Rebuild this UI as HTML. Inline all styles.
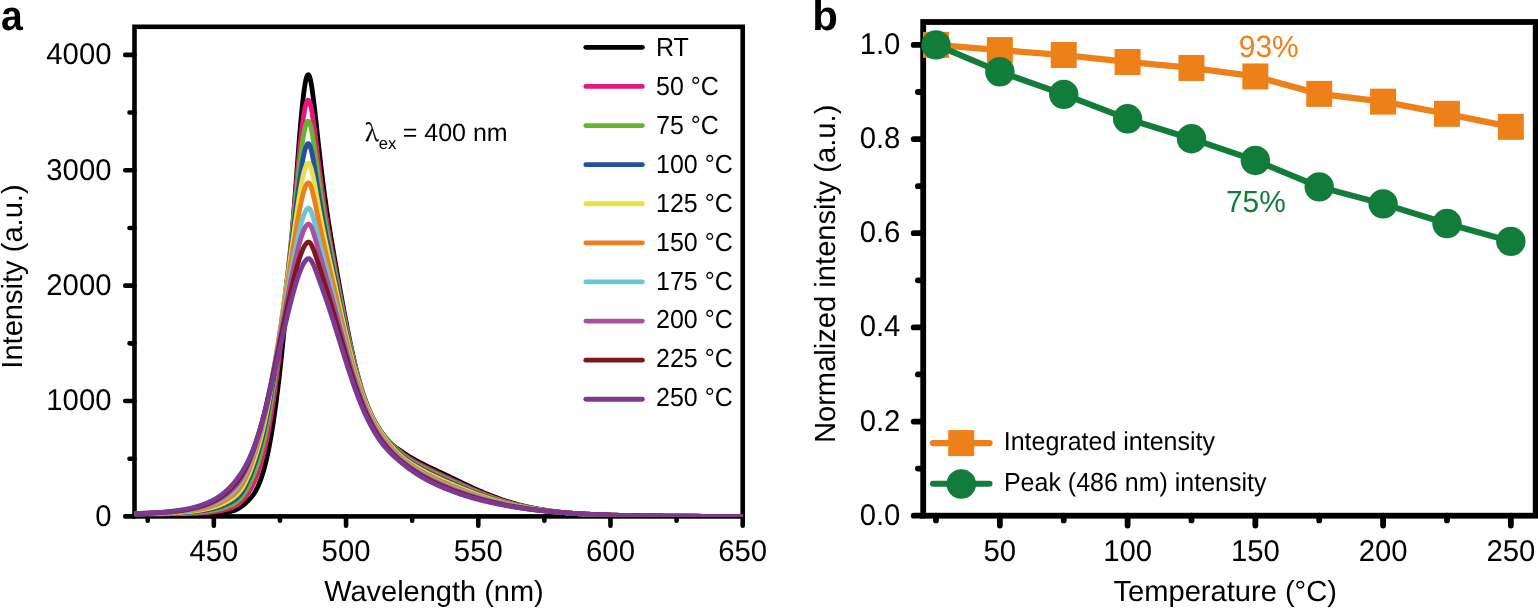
<!DOCTYPE html><html><head><meta charset="utf-8"><title>Figure</title>
<style>html,body{margin:0;padding:0;background:#fff;}svg{display:block;}text{font-family:"Liberation Sans", Arial, Helvetica, sans-serif;text-rendering:geometricPrecision;}</style></head><body>
<svg width="1538" height="608" viewBox="0 0 1538 608">
<rect x="0" y="0" width="1538" height="608" fill="#fff"/>
<text transform="translate(1.1 30.0) scale(0.93 1)" font-size="42" font-weight="bold">a</text>
<text x="812.3" y="30.0" font-size="42" font-weight="bold">b</text>
<path d="M125.2 516.40 H134.50 M125.2 401.02 H134.50 M125.2 285.64 H134.50 M125.2 170.26 H134.50 M125.2 54.88 H134.50 M129.5 458.71 H134.50 M129.5 343.33 H134.50 M129.5 227.95 H134.50 M129.5 112.57 H134.50 M213.83 516.40 V525.70 M346.05 516.40 V525.70 M478.27 516.40 V525.70 M610.48 516.40 V525.70 M742.70 516.40 V525.70 M147.72 516.40 V520.80 M279.94 516.40 V520.80 M412.16 516.40 V520.80 M544.37 516.40 V520.80 M676.59 516.40 V520.80" stroke="#000" stroke-width="4.6" stroke-linecap="round" fill="none"/>
<rect x="134.50" y="26.80" width="608.20" height="489.60" fill="none" stroke="#000" stroke-width="4.6"/>
<text transform="translate(111.5 525.80) scale(1 1.025)" font-size="29.3" text-anchor="end">0</text>
<text transform="translate(111.5 410.42) scale(1 1.025)" font-size="29.3" text-anchor="end">1000</text>
<text transform="translate(111.5 295.04) scale(1 1.025)" font-size="29.3" text-anchor="end">2000</text>
<text transform="translate(111.5 179.66) scale(1 1.025)" font-size="29.3" text-anchor="end">3000</text>
<text transform="translate(111.5 64.28) scale(1 1.025)" font-size="29.3" text-anchor="end">4000</text>
<text transform="translate(213.83 561.0) scale(1 1.025)" font-size="29.3" text-anchor="middle">450</text>
<text transform="translate(346.05 561.0) scale(1 1.025)" font-size="29.3" text-anchor="middle">500</text>
<text transform="translate(478.27 561.0) scale(1 1.025)" font-size="29.3" text-anchor="middle">550</text>
<text transform="translate(610.48 561.0) scale(1 1.025)" font-size="29.3" text-anchor="middle">600</text>
<text transform="translate(742.70 561.0) scale(1 1.025)" font-size="29.3" text-anchor="middle">650</text>
<text x="324.2" y="601.4" font-size="28.97">Wavelength (nm)</text>
<text transform="translate(21.9 368.7) rotate(-90)" font-size="29.1">Intensity (a.u.)</text>
<defs><clipPath id="ca"><rect x="134.50" y="26.80" width="608.20" height="489.60"/></clipPath></defs>
<g fill="none" stroke-width="4.8" stroke-linejoin="round" clip-path="url(#ca)">
<path d="M134.50 514.40 L135.16 514.39 L135.82 514.37 L136.48 514.36 L137.14 514.35 L137.81 514.34 L138.47 514.33 L139.13 514.32 L139.79 514.31 L140.45 514.30 L141.11 514.29 L141.77 514.28 L142.43 514.28 L143.09 514.27 L143.76 514.27 L144.42 514.26 L145.08 514.26 L145.74 514.25 L146.40 514.25 L147.06 514.25 L147.72 514.25 L148.38 514.24 L149.04 514.24 L149.71 514.24 L150.37 514.24 L151.03 514.24 L151.69 514.24 L152.35 514.25 L153.01 514.25 L153.67 514.25 L154.33 514.25 L154.99 514.26 L155.65 514.26 L156.32 514.26 L156.98 514.27 L157.64 514.27 L158.30 514.28 L158.96 514.28 L159.62 514.28 L160.28 514.29 L160.94 514.30 L161.60 514.30 L162.27 514.31 L162.93 514.31 L163.59 514.32 L164.25 514.32 L164.91 514.33 L165.57 514.34 L166.23 514.34 L166.89 514.35 L167.55 514.35 L168.22 514.36 L168.88 514.37 L169.54 514.37 L170.20 514.38 L170.86 514.38 L171.52 514.39 L172.18 514.39 L172.84 514.40 L173.50 514.41 L174.17 514.41 L174.83 514.42 L175.49 514.42 L176.15 514.42 L176.81 514.43 L177.47 514.43 L178.13 514.44 L178.79 514.44 L179.45 514.44 L180.12 514.45 L180.78 514.45 L181.44 514.45 L182.10 514.45 L182.76 514.46 L183.42 514.46 L184.08 514.46 L184.74 514.46 L185.40 514.46 L186.06 514.46 L186.73 514.46 L187.39 514.46 L188.05 514.46 L188.71 514.46 L189.37 514.45 L190.03 514.45 L190.69 514.45 L191.35 514.44 L192.01 514.44 L192.68 514.43 L193.34 514.43 L194.00 514.42 L194.66 514.41 L195.32 514.41 L195.98 514.40 L196.64 514.39 L197.30 514.38 L197.96 514.37 L198.63 514.36 L199.29 514.34 L199.95 514.33 L200.61 514.32 L201.27 514.30 L201.93 514.28 L202.59 514.27 L203.25 514.25 L203.91 514.23 L204.58 514.21 L205.24 514.19 L205.90 514.16 L206.56 514.14 L207.22 514.11 L207.88 514.09 L208.54 514.06 L209.20 514.03 L209.86 514.00 L210.53 513.96 L211.19 513.93 L211.85 513.89 L212.51 513.85 L213.17 513.81 L213.83 513.77 L214.49 513.73 L215.15 513.68 L215.81 513.63 L216.47 513.58 L217.14 513.52 L217.80 513.46 L218.46 513.40 L219.12 513.34 L219.78 513.27 L220.44 513.20 L221.10 513.12 L221.76 513.05 L222.42 512.96 L223.09 512.88 L223.75 512.78 L224.41 512.69 L225.07 512.59 L225.73 512.48 L226.39 512.36 L227.05 512.24 L227.71 512.12 L228.37 511.99 L229.04 511.84 L229.70 511.70 L230.36 511.54 L231.02 511.37 L231.68 511.19 L232.34 511.01 L233.00 510.81 L233.66 510.60 L234.32 510.38 L234.99 510.14 L235.65 509.89 L236.31 509.60 L236.97 509.29 L237.63 508.95 L238.29 508.59 L238.95 508.20 L239.61 507.79 L240.27 507.35 L240.94 506.89 L241.60 506.41 L242.26 505.91 L242.92 505.39 L243.58 504.84 L244.24 504.28 L244.90 503.71 L245.56 503.11 L246.22 502.50 L246.88 501.87 L247.55 501.23 L248.21 500.57 L248.87 499.88 L249.53 499.18 L250.19 498.45 L250.85 497.70 L251.51 496.91 L252.17 496.08 L252.83 495.21 L253.50 494.30 L254.16 493.32 L254.82 492.28 L255.48 491.17 L256.14 489.98 L256.80 488.70 L257.46 487.35 L258.12 485.92 L258.78 484.40 L259.45 482.80 L260.11 481.10 L260.77 479.31 L261.43 477.42 L262.09 475.43 L262.75 473.32 L263.41 471.11 L264.07 468.78 L264.73 466.33 L265.40 463.76 L266.06 461.06 L266.72 458.23 L267.38 455.26 L268.04 452.16 L268.70 448.91 L269.36 445.53 L270.02 441.99 L270.68 438.31 L271.35 434.48 L272.01 430.49 L272.67 426.35 L273.33 422.06 L273.99 417.61 L274.65 413.00 L275.31 408.23 L275.97 403.31 L276.63 398.22 L277.29 392.98 L277.96 387.59 L278.62 382.03 L279.28 376.32 L279.94 370.46 L280.60 364.44 L281.26 358.26 L281.92 351.93 L282.58 345.45 L283.24 338.82 L283.91 332.04 L284.57 325.10 L285.23 318.01 L285.89 310.77 L286.55 303.38 L287.21 295.83 L287.87 288.13 L288.53 280.29 L289.19 272.29 L289.86 264.15 L290.52 255.86 L291.18 247.45 L291.84 238.90 L292.50 230.24 L293.16 221.47 L293.82 212.62 L294.48 203.71 L295.14 194.75 L295.81 185.78 L296.47 176.84 L297.13 167.95 L297.79 159.16 L298.45 150.52 L299.11 142.08 L299.77 133.88 L300.43 125.99 L301.09 118.46 L301.75 111.35 L302.42 104.71 L303.08 98.62 L303.74 93.11 L304.40 88.24 L305.06 84.06 L305.72 80.60 L306.38 77.91 L307.04 76.00 L307.70 74.90 L308.37 74.63 L309.03 75.31 L309.69 76.90 L310.35 79.34 L311.01 82.55 L311.67 86.42 L312.33 90.86 L312.99 95.77 L313.65 101.04 L314.32 106.60 L314.98 112.38 L315.64 118.30 L316.30 124.32 L316.96 130.39 L317.62 136.47 L318.28 142.52 L318.94 148.51 L319.60 154.42 L320.27 160.24 L320.93 165.94 L321.59 171.51 L322.25 176.95 L322.91 182.26 L323.57 187.42 L324.23 192.45 L324.89 197.34 L325.55 202.10 L326.22 206.74 L326.88 211.27 L327.54 215.69 L328.20 220.01 L328.86 224.25 L329.52 228.41 L330.18 232.50 L330.84 236.53 L331.50 240.51 L332.17 244.44 L332.83 248.34 L333.49 252.20 L334.15 256.04 L334.81 259.85 L335.47 263.64 L336.13 267.41 L336.79 271.16 L337.45 274.90 L338.11 278.63 L338.78 282.34 L339.44 286.03 L340.10 289.71 L340.76 293.37 L341.42 297.01 L342.08 300.63 L342.74 304.23 L343.40 307.81 L344.06 311.35 L344.73 314.87 L345.39 318.36 L346.05 321.82 L346.71 325.25 L347.37 328.63 L348.03 331.98 L348.69 335.29 L349.35 338.56 L350.01 341.78 L350.68 344.96 L351.34 348.09 L352.00 351.18 L352.66 354.21 L353.32 357.20 L353.98 360.13 L354.64 363.01 L355.30 365.84 L355.96 368.62 L356.63 371.33 L357.29 374.00 L357.95 376.61 L358.61 379.16 L359.27 381.65 L359.93 384.09 L360.59 386.47 L361.25 388.80 L361.91 391.07 L362.58 393.28 L363.24 395.43 L363.90 397.53 L364.56 399.58 L365.22 401.56 L365.88 403.50 L366.54 405.38 L367.20 407.20 L367.86 408.97 L368.52 410.69 L369.19 412.36 L369.85 413.98 L370.51 415.55 L371.17 417.06 L371.83 418.54 L372.49 419.96 L373.15 421.34 L373.81 422.67 L374.47 423.96 L375.14 425.20 L375.80 426.41 L376.46 427.57 L377.12 428.69 L377.78 429.77 L378.44 430.82 L379.10 431.83 L379.76 432.81 L380.42 433.75 L381.09 434.65 L381.75 435.51 L382.41 436.33 L383.07 437.11 L383.73 437.85 L384.39 438.55 L385.05 439.23 L385.71 439.87 L386.37 440.48 L387.04 441.07 L387.70 441.64 L388.36 442.19 L389.02 442.71 L389.68 443.23 L390.34 443.72 L391.00 444.21 L391.66 444.69 L392.32 445.16 L392.99 445.62 L393.65 446.08 L394.31 446.53 L394.97 446.98 L395.63 447.43 L396.29 447.88 L396.95 448.33 L397.61 448.78 L398.27 449.23 L398.93 449.68 L399.60 450.13 L400.26 450.59 L400.92 451.04 L401.58 451.49 L402.24 451.94 L402.90 452.39 L403.56 452.84 L404.22 453.29 L404.88 453.73 L405.55 454.17 L406.21 454.60 L406.87 455.03 L407.53 455.45 L408.19 455.87 L408.85 456.28 L409.51 456.68 L410.17 457.08 L410.83 457.48 L411.50 457.87 L412.16 458.26 L412.82 458.64 L413.48 459.02 L414.14 459.39 L414.80 459.76 L415.46 460.13 L416.12 460.49 L416.78 460.85 L417.45 461.20 L418.11 461.56 L418.77 461.91 L419.43 462.26 L420.09 462.60 L420.75 462.94 L421.41 463.28 L422.07 463.62 L422.73 463.95 L423.40 464.29 L424.06 464.62 L424.72 464.95 L425.38 465.28 L426.04 465.60 L426.70 465.93 L427.36 466.25 L428.02 466.57 L428.68 466.89 L429.34 467.21 L430.01 467.53 L430.67 467.84 L431.33 468.16 L431.99 468.47 L432.65 468.79 L433.31 469.10 L433.97 469.42 L434.63 469.73 L435.29 470.04 L435.96 470.35 L436.62 470.66 L437.28 470.97 L437.94 471.29 L438.60 471.60 L439.26 471.91 L439.92 472.22 L440.58 472.53 L441.24 472.84 L441.91 473.15 L442.57 473.46 L443.23 473.78 L443.89 474.09 L444.55 474.40 L445.21 474.71 L445.87 475.03 L446.53 475.34 L447.19 475.65 L447.86 475.97 L448.52 476.28 L449.18 476.60 L449.84 476.92 L450.50 477.23 L451.16 477.55 L451.82 477.87 L452.48 478.19 L453.14 478.51 L453.81 478.83 L454.47 479.14 L455.13 479.46 L455.79 479.78 L456.45 480.10 L457.11 480.42 L457.77 480.74 L458.43 481.06 L459.09 481.38 L459.75 481.70 L460.42 482.02 L461.08 482.34 L461.74 482.66 L462.40 482.97 L463.06 483.29 L463.72 483.61 L464.38 483.92 L465.04 484.24 L465.70 484.55 L466.37 484.87 L467.03 485.18 L467.69 485.49 L468.35 485.80 L469.01 486.11 L469.67 486.42 L470.33 486.73 L470.99 487.04 L471.65 487.35 L472.32 487.65 L472.98 487.96 L473.64 488.26 L474.30 488.56 L474.96 488.86 L475.62 489.16 L476.28 489.46 L476.94 489.75 L477.60 490.05 L478.27 490.34 L478.93 490.63 L479.59 490.92 L480.25 491.21 L480.91 491.50 L481.57 491.78 L482.23 492.06 L482.89 492.35 L483.55 492.63 L484.22 492.91 L484.88 493.18 L485.54 493.46 L486.20 493.73 L486.86 494.00 L487.52 494.27 L488.18 494.54 L488.84 494.81 L489.50 495.07 L490.16 495.33 L490.83 495.59 L491.49 495.85 L492.15 496.11 L492.81 496.36 L493.47 496.61 L494.13 496.87 L494.79 497.11 L495.45 497.36 L496.11 497.61 L496.78 497.85 L497.44 498.09 L498.10 498.33 L498.76 498.56 L499.42 498.80 L500.08 499.03 L500.74 499.26 L501.40 499.49 L502.06 499.72 L502.73 499.94 L503.39 500.16 L504.05 500.38 L504.71 500.60 L505.37 500.82 L506.03 501.03 L506.69 501.24 L507.35 501.45 L508.01 501.66 L508.68 501.86 L509.34 502.07 L510.00 502.27 L510.66 502.47 L511.32 502.66 L511.98 502.86 L512.64 503.05 L513.30 503.24 L513.96 503.43 L514.62 503.62 L515.29 503.81 L515.95 503.99 L516.61 504.17 L517.27 504.35 L517.93 504.53 L518.59 504.70 L519.25 504.87 L519.91 505.04 L520.57 505.21 L521.24 505.38 L521.90 505.55 L522.56 505.71 L523.22 505.87 L523.88 506.03 L524.54 506.19 L525.20 506.34 L525.86 506.50 L526.52 506.65 L527.19 506.80 L527.85 506.95 L528.51 507.09 L529.17 507.24 L529.83 507.38 L530.49 507.52 L531.15 507.66 L531.81 507.80 L532.47 507.93 L533.14 508.06 L533.80 508.20 L534.46 508.33 L535.12 508.46 L535.78 508.58 L536.44 508.71 L537.10 508.83 L537.76 508.95 L538.42 509.07 L539.09 509.19 L539.75 509.31 L540.41 509.42 L541.07 509.54 L541.73 509.65 L542.39 509.76 L543.05 509.87 L543.71 509.98 L544.37 510.08 L545.04 510.19 L545.70 510.29 L546.36 510.39 L547.02 510.49 L547.68 510.59 L548.34 510.69 L549.00 510.78 L549.66 510.88 L550.32 510.97 L550.98 511.06 L551.65 511.15 L552.31 511.24 L552.97 511.33 L553.63 511.42 L554.29 511.50 L554.95 511.58 L555.61 511.67 L556.27 511.75 L556.93 511.83 L557.60 511.91 L558.26 511.98 L558.92 512.06 L559.58 512.14 L560.24 512.21 L560.90 512.28 L561.56 512.36 L562.22 512.43 L562.88 512.50 L563.55 512.56 L564.21 512.63 L564.87 512.70 L565.53 512.76 L566.19 512.83 L566.85 512.89 L567.51 512.95 L568.17 513.01 L568.83 513.07 L569.50 513.13 L570.16 513.19 L570.82 513.25 L571.48 513.31 L572.14 513.36 L572.80 513.42 L573.46 513.47 L574.12 513.52 L574.78 513.57 L575.45 513.63 L576.11 513.68 L576.77 513.73 L577.43 513.77 L578.09 513.82 L578.75 513.87 L579.41 513.91 L580.07 513.96 L580.73 514.00 L581.39 514.05 L582.06 514.09 L582.72 514.13 L583.38 514.18 L584.04 514.22 L584.70 514.26 L585.36 514.30 L586.02 514.34 L586.68 514.37 L587.34 514.41 L588.01 514.45 L588.67 514.48 L589.33 514.52 L589.99 514.55 L590.65 514.59 L591.31 514.62 L591.97 514.66 L592.63 514.69 L593.29 514.72 L593.96 514.75 L594.62 514.78 L595.28 514.81 L595.94 514.84 L596.60 514.87 L597.26 514.90 L597.92 514.93 L598.58 514.96 L599.24 514.98 L599.91 515.01 L600.57 515.04 L601.23 515.06 L601.89 515.09 L602.55 515.11 L603.21 515.14 L603.87 515.16 L604.53 515.19 L605.19 515.21 L605.86 515.23 L606.52 515.25 L607.18 515.28 L607.84 515.30 L608.50 515.32 L609.16 515.34 L609.82 515.36 L610.48 515.38 L611.14 515.40 L611.80 515.42 L612.47 515.44 L613.13 515.45 L613.79 515.47 L614.45 515.49 L615.11 515.51 L615.77 515.53 L616.43 515.54 L617.09 515.56 L617.75 515.57 L618.42 515.59 L619.08 515.61 L619.74 515.62 L620.40 515.64 L621.06 515.65 L621.72 515.67 L622.38 515.68 L623.04 515.69 L623.70 515.71 L624.37 515.72 L625.03 515.73 L625.69 515.75 L626.35 515.76 L627.01 515.77 L627.67 515.78 L628.33 515.80 L628.99 515.81 L629.65 515.82 L630.32 515.83 L630.98 515.84 L631.64 515.85 L632.30 515.86 L632.96 515.87 L633.62 515.88 L634.28 515.89 L634.94 515.90 L635.60 515.91 L636.27 515.92 L636.93 515.93 L637.59 515.94 L638.25 515.95 L638.91 515.96 L639.57 515.97 L640.23 515.98 L640.89 515.98 L641.55 515.99 L642.21 516.00 L642.88 516.01 L643.54 516.02 L644.20 516.02 L644.86 516.03 L645.52 516.04 L646.18 516.04 L646.84 516.05 L647.50 516.06 L648.16 516.06 L648.83 516.07 L649.49 516.08 L650.15 516.08 L650.81 516.09 L651.47 516.10 L652.13 516.10 L652.79 516.11 L653.45 516.11 L654.11 516.12 L654.78 516.12 L655.44 516.13 L656.10 516.13 L656.76 516.14 L657.42 516.14 L658.08 516.15 L658.74 516.15 L659.40 516.16 L660.06 516.16 L660.73 516.17 L661.39 516.17 L662.05 516.18 L662.71 516.18 L663.37 516.19 L664.03 516.19 L664.69 516.19 L665.35 516.20 L666.01 516.20 L666.68 516.21 L667.34 516.21 L668.00 516.21 L668.66 516.22 L669.32 516.22 L669.98 516.22 L670.64 516.23 L671.30 516.23 L671.96 516.23 L672.62 516.24 L673.29 516.24 L673.95 516.24 L674.61 516.25 L675.27 516.25 L675.93 516.25 L676.59 516.25 L677.25 516.26 L677.91 516.26 L678.57 516.26 L679.24 516.27 L679.90 516.27 L680.56 516.27 L681.22 516.27 L681.88 516.28 L682.54 516.28 L683.20 516.28 L683.86 516.28 L684.52 516.28 L685.19 516.29 L685.85 516.29 L686.51 516.29 L687.17 516.29 L687.83 516.29 L688.49 516.30 L689.15 516.30 L689.81 516.30 L690.47 516.30 L691.14 516.30 L691.80 516.31 L692.46 516.31 L693.12 516.31 L693.78 516.31 L694.44 516.31 L695.10 516.31 L695.76 516.32 L696.42 516.32 L697.09 516.32 L697.75 516.32 L698.41 516.32 L699.07 516.32 L699.73 516.32 L700.39 516.33 L701.05 516.33 L701.71 516.33 L702.37 516.33 L703.03 516.33 L703.70 516.33 L704.36 516.33 L705.02 516.34 L705.68 516.34 L706.34 516.34 L707.00 516.34 L707.66 516.34 L708.32 516.34 L708.98 516.34 L709.65 516.34 L710.31 516.34 L710.97 516.34 L711.63 516.35 L712.29 516.35 L712.95 516.35 L713.61 516.35 L714.27 516.35 L714.93 516.35 L715.60 516.35 L716.26 516.35 L716.92 516.35 L717.58 516.35 L718.24 516.35 L718.90 516.36 L719.56 516.36 L720.22 516.36 L720.88 516.36 L721.55 516.36 L722.21 516.36 L722.87 516.36 L723.53 516.36 L724.19 516.36 L724.85 516.36 L725.51 516.36 L726.17 516.36 L726.83 516.36 L727.50 516.36 L728.16 516.37 L728.82 516.37 L729.48 516.37 L730.14 516.37 L730.80 516.37 L731.46 516.37 L732.12 516.37 L732.78 516.37 L733.44 516.37 L734.11 516.37 L734.77 516.37 L735.43 516.37 L736.09 516.37 L736.75 516.37 L737.41 516.37 L738.07 516.37 L738.73 516.37 L739.39 516.37 L740.06 516.37 L740.72 516.37 L741.38 516.38 L742.04 516.38 L742.70 516.38" stroke="#000000"/>
<path d="M134.50 514.27 L135.16 514.26 L135.82 514.24 L136.48 514.23 L137.14 514.22 L137.81 514.20 L138.47 514.19 L139.13 514.18 L139.79 514.17 L140.45 514.16 L141.11 514.15 L141.77 514.14 L142.43 514.13 L143.09 514.13 L143.76 514.12 L144.42 514.11 L145.08 514.10 L145.74 514.10 L146.40 514.09 L147.06 514.09 L147.72 514.08 L148.38 514.07 L149.04 514.07 L149.71 514.07 L150.37 514.06 L151.03 514.06 L151.69 514.05 L152.35 514.05 L153.01 514.05 L153.67 514.04 L154.33 514.04 L154.99 514.04 L155.65 514.04 L156.32 514.03 L156.98 514.03 L157.64 514.03 L158.30 514.03 L158.96 514.02 L159.62 514.02 L160.28 514.02 L160.94 514.02 L161.60 514.01 L162.27 514.01 L162.93 514.01 L163.59 514.01 L164.25 514.00 L164.91 514.00 L165.57 514.00 L166.23 514.00 L166.89 513.99 L167.55 513.99 L168.22 513.98 L168.88 513.98 L169.54 513.98 L170.20 513.97 L170.86 513.97 L171.52 513.96 L172.18 513.96 L172.84 513.95 L173.50 513.94 L174.17 513.94 L174.83 513.93 L175.49 513.92 L176.15 513.91 L176.81 513.91 L177.47 513.90 L178.13 513.89 L178.79 513.88 L179.45 513.87 L180.12 513.86 L180.78 513.84 L181.44 513.83 L182.10 513.82 L182.76 513.80 L183.42 513.79 L184.08 513.77 L184.74 513.76 L185.40 513.74 L186.06 513.72 L186.73 513.71 L187.39 513.69 L188.05 513.67 L188.71 513.65 L189.37 513.62 L190.03 513.60 L190.69 513.58 L191.35 513.55 L192.01 513.53 L192.68 513.50 L193.34 513.47 L194.00 513.44 L194.66 513.41 L195.32 513.38 L195.98 513.35 L196.64 513.32 L197.30 513.28 L197.96 513.24 L198.63 513.21 L199.29 513.17 L199.95 513.13 L200.61 513.08 L201.27 513.04 L201.93 512.99 L202.59 512.95 L203.25 512.90 L203.91 512.85 L204.58 512.79 L205.24 512.74 L205.90 512.68 L206.56 512.62 L207.22 512.56 L207.88 512.50 L208.54 512.44 L209.20 512.37 L209.86 512.30 L210.53 512.23 L211.19 512.15 L211.85 512.07 L212.51 511.99 L213.17 511.91 L213.83 511.82 L214.49 511.73 L215.15 511.64 L215.81 511.54 L216.47 511.44 L217.14 511.34 L217.80 511.23 L218.46 511.12 L219.12 511.00 L219.78 510.88 L220.44 510.75 L221.10 510.62 L221.76 510.49 L222.42 510.35 L223.09 510.20 L223.75 510.05 L224.41 509.89 L225.07 509.73 L225.73 509.55 L226.39 509.38 L227.05 509.19 L227.71 508.99 L228.37 508.79 L229.04 508.58 L229.70 508.36 L230.36 508.13 L231.02 507.89 L231.68 507.64 L232.34 507.38 L233.00 507.10 L233.66 506.81 L234.32 506.51 L234.99 506.19 L235.65 505.85 L236.31 505.48 L236.97 505.07 L237.63 504.63 L238.29 504.16 L238.95 503.65 L239.61 503.11 L240.27 502.54 L240.94 501.93 L241.60 501.28 L242.26 500.60 L242.92 499.89 L243.58 499.14 L244.24 498.36 L244.90 497.55 L245.56 496.70 L246.22 495.81 L246.88 494.89 L247.55 493.93 L248.21 492.93 L248.87 491.90 L249.53 490.82 L250.19 489.70 L250.85 488.54 L251.51 487.33 L252.17 486.08 L252.83 484.78 L253.50 483.42 L254.16 482.01 L254.82 480.54 L255.48 479.01 L256.14 477.43 L256.80 475.77 L257.46 474.03 L258.12 472.20 L258.78 470.29 L259.45 468.29 L260.11 466.19 L260.77 464.00 L261.43 461.71 L262.09 459.32 L262.75 456.82 L263.41 454.21 L264.07 451.49 L264.73 448.66 L265.40 445.72 L266.06 442.66 L266.72 439.47 L267.38 436.17 L268.04 432.75 L268.70 429.20 L269.36 425.53 L270.02 421.74 L270.68 417.82 L271.35 413.77 L272.01 409.60 L272.67 405.30 L273.33 400.88 L273.99 396.33 L274.65 391.67 L275.31 386.88 L275.97 381.97 L276.63 376.94 L277.29 371.80 L277.96 366.55 L278.62 361.19 L279.28 355.72 L279.94 350.14 L280.60 344.47 L281.26 338.69 L281.92 332.82 L282.58 326.85 L283.24 320.79 L283.91 314.64 L284.57 308.39 L285.23 302.06 L285.89 295.65 L286.55 289.14 L287.21 282.56 L287.87 275.88 L288.53 269.12 L289.19 262.28 L289.86 255.36 L290.52 248.36 L291.18 241.28 L291.84 234.13 L292.50 226.92 L293.16 219.66 L293.82 212.35 L294.48 205.02 L295.14 197.67 L295.81 190.34 L296.47 183.03 L297.13 175.80 L297.79 168.66 L298.45 161.64 L299.11 154.80 L299.77 148.16 L300.43 141.78 L301.09 135.69 L301.75 129.95 L302.42 124.59 L303.08 119.67 L303.74 115.22 L304.40 111.28 L305.06 107.89 L305.72 105.08 L306.38 102.88 L307.04 101.31 L307.70 100.37 L308.37 100.13 L309.03 100.72 L309.69 102.14 L310.35 104.31 L311.01 107.17 L311.67 110.63 L312.33 114.60 L312.99 118.98 L313.65 123.70 L314.32 128.67 L314.98 133.84 L315.64 139.13 L316.30 144.51 L316.96 149.92 L317.62 155.33 L318.28 160.70 L318.94 166.02 L319.60 171.26 L320.27 176.40 L320.93 181.43 L321.59 186.35 L322.25 191.15 L322.91 195.83 L323.57 200.38 L324.23 204.82 L324.89 209.14 L325.55 213.36 L326.22 217.48 L326.88 221.52 L327.54 225.47 L328.20 229.34 L328.86 233.16 L329.52 236.92 L330.18 240.63 L330.84 244.30 L331.50 247.94 L332.17 251.55 L332.83 255.14 L333.49 258.72 L334.15 262.27 L334.81 265.82 L335.47 269.35 L336.13 272.88 L336.79 276.39 L337.45 279.90 L338.11 283.40 L338.78 286.88 L339.44 290.36 L340.10 293.83 L340.76 297.28 L341.42 300.71 L342.08 304.13 L342.74 307.53 L343.40 310.90 L344.06 314.26 L344.73 317.58 L345.39 320.88 L346.05 324.15 L346.71 327.39 L347.37 330.59 L348.03 333.76 L348.69 336.89 L349.35 339.98 L350.01 343.03 L350.68 346.04 L351.34 349.01 L352.00 351.93 L352.66 354.80 L353.32 357.63 L353.98 360.41 L354.64 363.14 L355.30 365.83 L355.96 368.46 L356.63 371.04 L357.29 373.57 L357.95 376.05 L358.61 378.47 L359.27 380.84 L359.93 383.17 L360.59 385.43 L361.25 387.65 L361.91 389.81 L362.58 391.92 L363.24 393.98 L363.90 395.99 L364.56 397.94 L365.22 399.85 L365.88 401.70 L366.54 403.50 L367.20 405.26 L367.86 406.97 L368.52 408.62 L369.19 410.23 L369.85 411.80 L370.51 413.32 L371.17 414.79 L371.83 416.22 L372.49 417.61 L373.15 418.96 L373.81 420.26 L374.47 421.53 L375.14 422.75 L375.80 423.94 L376.46 425.09 L377.12 426.20 L377.78 427.28 L378.44 428.33 L379.10 429.34 L379.76 430.33 L380.42 431.28 L381.09 432.20 L381.75 433.09 L382.41 433.96 L383.07 434.81 L383.73 435.63 L384.39 436.43 L385.05 437.21 L385.71 437.96 L386.37 438.70 L387.04 439.42 L387.70 440.13 L388.36 440.82 L389.02 441.49 L389.68 442.16 L390.34 442.81 L391.00 443.45 L391.66 444.09 L392.32 444.71 L392.99 445.33 L393.65 445.94 L394.31 446.55 L394.97 447.15 L395.63 447.74 L396.29 448.33 L396.95 448.91 L397.61 449.49 L398.27 450.06 L398.93 450.62 L399.60 451.18 L400.26 451.72 L400.92 452.27 L401.58 452.80 L402.24 453.32 L402.90 453.84 L403.56 454.34 L404.22 454.84 L404.88 455.32 L405.55 455.79 L406.21 456.24 L406.87 456.69 L407.53 457.12 L408.19 457.55 L408.85 457.97 L409.51 458.39 L410.17 458.80 L410.83 459.21 L411.50 459.61 L412.16 460.00 L412.82 460.40 L413.48 460.79 L414.14 461.17 L414.80 461.55 L415.46 461.93 L416.12 462.30 L416.78 462.67 L417.45 463.03 L418.11 463.39 L418.77 463.75 L419.43 464.11 L420.09 464.46 L420.75 464.81 L421.41 465.16 L422.07 465.50 L422.73 465.85 L423.40 466.19 L424.06 466.52 L424.72 466.86 L425.38 467.19 L426.04 467.52 L426.70 467.85 L427.36 468.18 L428.02 468.50 L428.68 468.83 L429.34 469.15 L430.01 469.47 L430.67 469.79 L431.33 470.11 L431.99 470.43 L432.65 470.74 L433.31 471.06 L433.97 471.37 L434.63 471.69 L435.29 472.00 L435.96 472.31 L436.62 472.62 L437.28 472.93 L437.94 473.24 L438.60 473.55 L439.26 473.86 L439.92 474.17 L440.58 474.48 L441.24 474.78 L441.91 475.09 L442.57 475.40 L443.23 475.71 L443.89 476.01 L444.55 476.32 L445.21 476.63 L445.87 476.93 L446.53 477.24 L447.19 477.55 L447.86 477.86 L448.52 478.16 L449.18 478.47 L449.84 478.78 L450.50 479.09 L451.16 479.39 L451.82 479.70 L452.48 480.01 L453.14 480.32 L453.81 480.63 L454.47 480.94 L455.13 481.24 L455.79 481.55 L456.45 481.86 L457.11 482.17 L457.77 482.47 L458.43 482.78 L459.09 483.09 L459.75 483.39 L460.42 483.70 L461.08 484.00 L461.74 484.31 L462.40 484.61 L463.06 484.91 L463.72 485.22 L464.38 485.52 L465.04 485.82 L465.70 486.12 L466.37 486.42 L467.03 486.72 L467.69 487.01 L468.35 487.31 L469.01 487.60 L469.67 487.90 L470.33 488.19 L470.99 488.48 L471.65 488.77 L472.32 489.06 L472.98 489.35 L473.64 489.64 L474.30 489.92 L474.96 490.21 L475.62 490.49 L476.28 490.77 L476.94 491.05 L477.60 491.33 L478.27 491.60 L478.93 491.88 L479.59 492.15 L480.25 492.43 L480.91 492.70 L481.57 492.97 L482.23 493.23 L482.89 493.50 L483.55 493.76 L484.22 494.03 L484.88 494.29 L485.54 494.55 L486.20 494.80 L486.86 495.06 L487.52 495.31 L488.18 495.57 L488.84 495.82 L489.50 496.06 L490.16 496.31 L490.83 496.56 L491.49 496.80 L492.15 497.04 L492.81 497.28 L493.47 497.52 L494.13 497.75 L494.79 497.99 L495.45 498.22 L496.11 498.45 L496.78 498.68 L497.44 498.90 L498.10 499.13 L498.76 499.35 L499.42 499.57 L500.08 499.79 L500.74 500.00 L501.40 500.22 L502.06 500.43 L502.73 500.64 L503.39 500.85 L504.05 501.06 L504.71 501.26 L505.37 501.47 L506.03 501.67 L506.69 501.87 L507.35 502.06 L508.01 502.26 L508.68 502.45 L509.34 502.64 L510.00 502.83 L510.66 503.02 L511.32 503.20 L511.98 503.39 L512.64 503.57 L513.30 503.75 L513.96 503.93 L514.62 504.10 L515.29 504.28 L515.95 504.45 L516.61 504.62 L517.27 504.79 L517.93 504.95 L518.59 505.12 L519.25 505.28 L519.91 505.44 L520.57 505.60 L521.24 505.76 L521.90 505.91 L522.56 506.07 L523.22 506.22 L523.88 506.37 L524.54 506.52 L525.20 506.67 L525.86 506.81 L526.52 506.95 L527.19 507.09 L527.85 507.23 L528.51 507.37 L529.17 507.51 L529.83 507.64 L530.49 507.78 L531.15 507.91 L531.81 508.04 L532.47 508.17 L533.14 508.29 L533.80 508.42 L534.46 508.54 L535.12 508.66 L535.78 508.78 L536.44 508.90 L537.10 509.02 L537.76 509.13 L538.42 509.25 L539.09 509.36 L539.75 509.47 L540.41 509.58 L541.07 509.69 L541.73 509.79 L542.39 509.90 L543.05 510.00 L543.71 510.10 L544.37 510.20 L545.04 510.30 L545.70 510.40 L546.36 510.50 L547.02 510.59 L547.68 510.69 L548.34 510.78 L549.00 510.87 L549.66 510.96 L550.32 511.05 L550.98 511.14 L551.65 511.22 L552.31 511.31 L552.97 511.39 L553.63 511.47 L554.29 511.56 L554.95 511.64 L555.61 511.71 L556.27 511.79 L556.93 511.87 L557.60 511.94 L558.26 512.02 L558.92 512.09 L559.58 512.16 L560.24 512.24 L560.90 512.31 L561.56 512.37 L562.22 512.44 L562.88 512.51 L563.55 512.58 L564.21 512.64 L564.87 512.70 L565.53 512.77 L566.19 512.83 L566.85 512.89 L567.51 512.95 L568.17 513.01 L568.83 513.07 L569.50 513.12 L570.16 513.18 L570.82 513.24 L571.48 513.29 L572.14 513.34 L572.80 513.40 L573.46 513.45 L574.12 513.50 L574.78 513.55 L575.45 513.60 L576.11 513.65 L576.77 513.70 L577.43 513.75 L578.09 513.79 L578.75 513.84 L579.41 513.88 L580.07 513.93 L580.73 513.97 L581.39 514.01 L582.06 514.05 L582.72 514.10 L583.38 514.14 L584.04 514.18 L584.70 514.22 L585.36 514.26 L586.02 514.29 L586.68 514.33 L587.34 514.37 L588.01 514.40 L588.67 514.44 L589.33 514.47 L589.99 514.51 L590.65 514.54 L591.31 514.58 L591.97 514.61 L592.63 514.64 L593.29 514.67 L593.96 514.70 L594.62 514.73 L595.28 514.76 L595.94 514.79 L596.60 514.82 L597.26 514.85 L597.92 514.88 L598.58 514.91 L599.24 514.93 L599.91 514.96 L600.57 514.99 L601.23 515.01 L601.89 515.04 L602.55 515.06 L603.21 515.09 L603.87 515.11 L604.53 515.13 L605.19 515.16 L605.86 515.18 L606.52 515.20 L607.18 515.22 L607.84 515.25 L608.50 515.27 L609.16 515.29 L609.82 515.31 L610.48 515.33 L611.14 515.35 L611.80 515.37 L612.47 515.39 L613.13 515.41 L613.79 515.42 L614.45 515.44 L615.11 515.46 L615.77 515.48 L616.43 515.49 L617.09 515.51 L617.75 515.53 L618.42 515.54 L619.08 515.56 L619.74 515.57 L620.40 515.59 L621.06 515.61 L621.72 515.62 L622.38 515.63 L623.04 515.65 L623.70 515.66 L624.37 515.68 L625.03 515.69 L625.69 515.70 L626.35 515.72 L627.01 515.73 L627.67 515.74 L628.33 515.75 L628.99 515.77 L629.65 515.78 L630.32 515.79 L630.98 515.80 L631.64 515.81 L632.30 515.82 L632.96 515.83 L633.62 515.84 L634.28 515.85 L634.94 515.86 L635.60 515.87 L636.27 515.88 L636.93 515.89 L637.59 515.90 L638.25 515.91 L638.91 515.92 L639.57 515.93 L640.23 515.94 L640.89 515.95 L641.55 515.96 L642.21 515.97 L642.88 515.97 L643.54 515.98 L644.20 515.99 L644.86 516.00 L645.52 516.00 L646.18 516.01 L646.84 516.02 L647.50 516.03 L648.16 516.03 L648.83 516.04 L649.49 516.05 L650.15 516.05 L650.81 516.06 L651.47 516.07 L652.13 516.07 L652.79 516.08 L653.45 516.09 L654.11 516.09 L654.78 516.10 L655.44 516.10 L656.10 516.11 L656.76 516.11 L657.42 516.12 L658.08 516.12 L658.74 516.13 L659.40 516.14 L660.06 516.14 L660.73 516.15 L661.39 516.15 L662.05 516.15 L662.71 516.16 L663.37 516.16 L664.03 516.17 L664.69 516.17 L665.35 516.18 L666.01 516.18 L666.68 516.19 L667.34 516.19 L668.00 516.19 L668.66 516.20 L669.32 516.20 L669.98 516.20 L670.64 516.21 L671.30 516.21 L671.96 516.22 L672.62 516.22 L673.29 516.22 L673.95 516.23 L674.61 516.23 L675.27 516.23 L675.93 516.24 L676.59 516.24 L677.25 516.24 L677.91 516.24 L678.57 516.25 L679.24 516.25 L679.90 516.25 L680.56 516.26 L681.22 516.26 L681.88 516.26 L682.54 516.26 L683.20 516.27 L683.86 516.27 L684.52 516.27 L685.19 516.27 L685.85 516.28 L686.51 516.28 L687.17 516.28 L687.83 516.28 L688.49 516.29 L689.15 516.29 L689.81 516.29 L690.47 516.29 L691.14 516.29 L691.80 516.30 L692.46 516.30 L693.12 516.30 L693.78 516.30 L694.44 516.30 L695.10 516.30 L695.76 516.31 L696.42 516.31 L697.09 516.31 L697.75 516.31 L698.41 516.31 L699.07 516.32 L699.73 516.32 L700.39 516.32 L701.05 516.32 L701.71 516.32 L702.37 516.32 L703.03 516.32 L703.70 516.33 L704.36 516.33 L705.02 516.33 L705.68 516.33 L706.34 516.33 L707.00 516.33 L707.66 516.33 L708.32 516.33 L708.98 516.34 L709.65 516.34 L710.31 516.34 L710.97 516.34 L711.63 516.34 L712.29 516.34 L712.95 516.34 L713.61 516.34 L714.27 516.34 L714.93 516.35 L715.60 516.35 L716.26 516.35 L716.92 516.35 L717.58 516.35 L718.24 516.35 L718.90 516.35 L719.56 516.35 L720.22 516.35 L720.88 516.35 L721.55 516.35 L722.21 516.36 L722.87 516.36 L723.53 516.36 L724.19 516.36 L724.85 516.36 L725.51 516.36 L726.17 516.36 L726.83 516.36 L727.50 516.36 L728.16 516.36 L728.82 516.36 L729.48 516.36 L730.14 516.36 L730.80 516.36 L731.46 516.37 L732.12 516.37 L732.78 516.37 L733.44 516.37 L734.11 516.37 L734.77 516.37 L735.43 516.37 L736.09 516.37 L736.75 516.37 L737.41 516.37 L738.07 516.37 L738.73 516.37 L739.39 516.37 L740.06 516.37 L740.72 516.37 L741.38 516.37 L742.04 516.37 L742.70 516.37" stroke="#E5197A"/>
<path d="M134.50 514.16 L135.16 514.15 L135.82 514.13 L136.48 514.12 L137.14 514.11 L137.81 514.10 L138.47 514.08 L139.13 514.07 L139.79 514.06 L140.45 514.05 L141.11 514.04 L141.77 514.03 L142.43 514.02 L143.09 514.01 L143.76 514.00 L144.42 513.99 L145.08 513.98 L145.74 513.97 L146.40 513.96 L147.06 513.95 L147.72 513.94 L148.38 513.94 L149.04 513.93 L149.71 513.92 L150.37 513.91 L151.03 513.90 L151.69 513.90 L152.35 513.89 L153.01 513.88 L153.67 513.87 L154.33 513.87 L154.99 513.86 L155.65 513.85 L156.32 513.84 L156.98 513.84 L157.64 513.83 L158.30 513.82 L158.96 513.81 L159.62 513.80 L160.28 513.80 L160.94 513.79 L161.60 513.78 L162.27 513.77 L162.93 513.76 L163.59 513.75 L164.25 513.74 L164.91 513.73 L165.57 513.72 L166.23 513.71 L166.89 513.70 L167.55 513.69 L168.22 513.68 L168.88 513.66 L169.54 513.65 L170.20 513.64 L170.86 513.62 L171.52 513.61 L172.18 513.60 L172.84 513.58 L173.50 513.56 L174.17 513.55 L174.83 513.53 L175.49 513.51 L176.15 513.49 L176.81 513.48 L177.47 513.46 L178.13 513.43 L178.79 513.41 L179.45 513.39 L180.12 513.37 L180.78 513.34 L181.44 513.32 L182.10 513.29 L182.76 513.27 L183.42 513.24 L184.08 513.21 L184.74 513.18 L185.40 513.15 L186.06 513.12 L186.73 513.08 L187.39 513.05 L188.05 513.02 L188.71 512.98 L189.37 512.94 L190.03 512.90 L190.69 512.86 L191.35 512.82 L192.01 512.78 L192.68 512.73 L193.34 512.69 L194.00 512.64 L194.66 512.59 L195.32 512.54 L195.98 512.49 L196.64 512.43 L197.30 512.38 L197.96 512.32 L198.63 512.26 L199.29 512.20 L199.95 512.13 L200.61 512.07 L201.27 512.00 L201.93 511.93 L202.59 511.86 L203.25 511.78 L203.91 511.71 L204.58 511.63 L205.24 511.55 L205.90 511.46 L206.56 511.38 L207.22 511.29 L207.88 511.19 L208.54 511.10 L209.20 511.00 L209.86 510.90 L210.53 510.79 L211.19 510.69 L211.85 510.57 L212.51 510.46 L213.17 510.34 L213.83 510.22 L214.49 510.09 L215.15 509.96 L215.81 509.82 L216.47 509.68 L217.14 509.54 L217.80 509.39 L218.46 509.23 L219.12 509.08 L219.78 508.91 L220.44 508.74 L221.10 508.56 L221.76 508.38 L222.42 508.19 L223.09 508.00 L223.75 507.80 L224.41 507.59 L225.07 507.37 L225.73 507.15 L226.39 506.91 L227.05 506.67 L227.71 506.42 L228.37 506.16 L229.04 505.89 L229.70 505.61 L230.36 505.32 L231.02 505.02 L231.68 504.71 L232.34 504.38 L233.00 504.05 L233.66 503.69 L234.32 503.32 L234.99 502.94 L235.65 502.53 L236.31 502.08 L236.97 501.60 L237.63 501.07 L238.29 500.50 L238.95 499.89 L239.61 499.25 L240.27 498.55 L240.94 497.82 L241.60 497.04 L242.26 496.22 L242.92 495.35 L243.58 494.44 L244.24 493.49 L244.90 492.49 L245.56 491.44 L246.22 490.34 L246.88 489.20 L247.55 488.01 L248.21 486.77 L248.87 485.49 L249.53 484.15 L250.19 482.76 L250.85 481.33 L251.51 479.84 L252.17 478.30 L252.83 476.72 L253.50 475.09 L254.16 473.40 L254.82 471.68 L255.48 469.91 L256.14 468.09 L256.80 466.22 L257.46 464.27 L258.12 462.23 L258.78 460.11 L259.45 457.91 L260.11 455.61 L260.77 453.22 L261.43 450.73 L262.09 448.16 L262.75 445.48 L263.41 442.70 L264.07 439.82 L264.73 436.84 L265.40 433.76 L266.06 430.57 L266.72 427.28 L267.38 423.88 L268.04 420.37 L268.70 416.76 L269.36 413.04 L270.02 409.21 L270.68 405.27 L271.35 401.23 L272.01 397.09 L272.67 392.84 L273.33 388.49 L273.99 384.04 L274.65 379.50 L275.31 374.86 L275.97 370.12 L276.63 365.30 L277.29 360.39 L277.96 355.39 L278.62 350.32 L279.28 345.16 L279.94 339.94 L280.60 334.64 L281.26 329.28 L281.92 323.86 L282.58 318.37 L283.24 312.83 L283.91 307.23 L284.57 301.57 L285.23 295.87 L285.89 290.11 L286.55 284.31 L287.21 278.46 L287.87 272.56 L288.53 266.61 L289.19 260.62 L289.86 254.57 L290.52 248.49 L291.18 242.35 L291.84 236.18 L292.50 229.97 L293.16 223.73 L293.82 217.46 L294.48 211.18 L295.14 204.90 L295.81 198.64 L296.47 192.40 L297.13 186.23 L297.79 180.13 L298.45 174.14 L299.11 168.29 L299.77 162.62 L300.43 157.15 L301.09 151.93 L301.75 147.00 L302.42 142.40 L303.08 138.16 L303.74 134.32 L304.40 130.91 L305.06 127.98 L305.72 125.53 L306.38 123.60 L307.04 122.21 L307.70 121.36 L308.37 121.12 L309.03 121.65 L309.69 122.91 L310.35 124.86 L311.01 127.43 L311.67 130.53 L312.33 134.10 L312.99 138.05 L313.65 142.29 L314.32 146.77 L314.98 151.41 L315.64 156.17 L316.30 161.00 L316.96 165.85 L317.62 170.69 L318.28 175.51 L318.94 180.26 L319.60 184.94 L320.27 189.53 L320.93 194.03 L321.59 198.43 L322.25 202.72 L322.91 206.90 L323.57 210.99 L324.23 214.98 L324.89 218.87 L325.55 222.68 L326.22 226.42 L326.88 230.09 L327.54 233.70 L328.20 237.25 L328.86 240.76 L329.52 244.23 L330.18 247.68 L330.84 251.10 L331.50 254.50 L332.17 257.88 L332.83 261.25 L333.49 264.62 L334.15 267.98 L334.81 271.33 L335.47 274.68 L336.13 278.03 L336.79 281.37 L337.45 284.71 L338.11 288.04 L338.78 291.36 L339.44 294.68 L340.10 297.99 L340.76 301.28 L341.42 304.56 L342.08 307.83 L342.74 311.07 L343.40 314.30 L344.06 317.51 L344.73 320.69 L345.39 323.84 L346.05 326.97 L346.71 330.06 L347.37 333.13 L348.03 336.16 L348.69 339.15 L349.35 342.11 L350.01 345.03 L350.68 347.91 L351.34 350.75 L352.00 353.55 L352.66 356.30 L353.32 359.01 L353.98 361.67 L354.64 364.29 L355.30 366.86 L355.96 369.39 L356.63 371.86 L357.29 374.29 L357.95 376.67 L358.61 379.00 L359.27 381.28 L359.93 383.51 L360.59 385.70 L361.25 387.83 L361.91 389.91 L362.58 391.95 L363.24 393.93 L363.90 395.87 L364.56 397.76 L365.22 399.60 L365.88 401.40 L366.54 403.15 L367.20 404.85 L367.86 406.51 L368.52 408.12 L369.19 409.69 L369.85 411.22 L370.51 412.70 L371.17 414.15 L371.83 415.55 L372.49 416.91 L373.15 418.23 L373.81 419.52 L374.47 420.77 L375.14 421.98 L375.80 423.16 L376.46 424.31 L377.12 425.42 L377.78 426.50 L378.44 427.55 L379.10 428.56 L379.76 429.55 L380.42 430.51 L381.09 431.45 L381.75 432.37 L382.41 433.28 L383.07 434.16 L383.73 435.03 L384.39 435.88 L385.05 436.72 L385.71 437.54 L386.37 438.35 L387.04 439.14 L387.70 439.92 L388.36 440.69 L389.02 441.45 L389.68 442.19 L390.34 442.93 L391.00 443.66 L391.66 444.37 L392.32 445.08 L392.99 445.78 L393.65 446.47 L394.31 447.15 L394.97 447.82 L395.63 448.48 L396.29 449.14 L396.95 449.78 L397.61 450.42 L398.27 451.04 L398.93 451.66 L399.60 452.26 L400.26 452.86 L400.92 453.44 L401.58 454.00 L402.24 454.56 L402.90 455.10 L403.56 455.63 L404.22 456.14 L404.88 456.64 L405.55 457.13 L406.21 457.60 L406.87 458.05 L407.53 458.49 L408.19 458.93 L408.85 459.36 L409.51 459.79 L410.17 460.21 L410.83 460.63 L411.50 461.04 L412.16 461.44 L412.82 461.85 L413.48 462.24 L414.14 462.64 L414.80 463.02 L415.46 463.41 L416.12 463.79 L416.78 464.17 L417.45 464.54 L418.11 464.91 L418.77 465.27 L419.43 465.64 L420.09 466.00 L420.75 466.35 L421.41 466.70 L422.07 467.06 L422.73 467.40 L423.40 467.75 L424.06 468.09 L424.72 468.43 L425.38 468.77 L426.04 469.10 L426.70 469.44 L427.36 469.77 L428.02 470.10 L428.68 470.42 L429.34 470.75 L430.01 471.07 L430.67 471.39 L431.33 471.72 L431.99 472.03 L432.65 472.35 L433.31 472.67 L433.97 472.98 L434.63 473.30 L435.29 473.61 L435.96 473.92 L436.62 474.23 L437.28 474.54 L437.94 474.85 L438.60 475.16 L439.26 475.47 L439.92 475.77 L440.58 476.08 L441.24 476.38 L441.91 476.69 L442.57 476.99 L443.23 477.29 L443.89 477.60 L444.55 477.90 L445.21 478.20 L445.87 478.50 L446.53 478.81 L447.19 479.11 L447.86 479.41 L448.52 479.71 L449.18 480.01 L449.84 480.31 L450.50 480.61 L451.16 480.91 L451.82 481.21 L452.48 481.51 L453.14 481.81 L453.81 482.11 L454.47 482.41 L455.13 482.71 L455.79 483.01 L456.45 483.31 L457.11 483.60 L457.77 483.90 L458.43 484.20 L459.09 484.49 L459.75 484.79 L460.42 485.08 L461.08 485.38 L461.74 485.67 L462.40 485.96 L463.06 486.25 L463.72 486.54 L464.38 486.83 L465.04 487.12 L465.70 487.41 L466.37 487.69 L467.03 487.98 L467.69 488.26 L468.35 488.55 L469.01 488.83 L469.67 489.11 L470.33 489.39 L470.99 489.67 L471.65 489.95 L472.32 490.22 L472.98 490.50 L473.64 490.77 L474.30 491.04 L474.96 491.31 L475.62 491.58 L476.28 491.85 L476.94 492.12 L477.60 492.38 L478.27 492.65 L478.93 492.91 L479.59 493.17 L480.25 493.43 L480.91 493.69 L481.57 493.94 L482.23 494.20 L482.89 494.45 L483.55 494.70 L484.22 494.95 L484.88 495.20 L485.54 495.44 L486.20 495.69 L486.86 495.93 L487.52 496.17 L488.18 496.41 L488.84 496.65 L489.50 496.88 L490.16 497.12 L490.83 497.35 L491.49 497.58 L492.15 497.81 L492.81 498.04 L493.47 498.26 L494.13 498.48 L494.79 498.71 L495.45 498.92 L496.11 499.14 L496.78 499.36 L497.44 499.57 L498.10 499.79 L498.76 500.00 L499.42 500.20 L500.08 500.41 L500.74 500.62 L501.40 500.82 L502.06 501.02 L502.73 501.22 L503.39 501.42 L504.05 501.61 L504.71 501.81 L505.37 502.00 L506.03 502.19 L506.69 502.38 L507.35 502.57 L508.01 502.75 L508.68 502.93 L509.34 503.11 L510.00 503.29 L510.66 503.47 L511.32 503.65 L511.98 503.82 L512.64 503.99 L513.30 504.16 L513.96 504.33 L514.62 504.50 L515.29 504.66 L515.95 504.83 L516.61 504.99 L517.27 505.15 L517.93 505.31 L518.59 505.46 L519.25 505.62 L519.91 505.77 L520.57 505.92 L521.24 506.07 L521.90 506.22 L522.56 506.36 L523.22 506.51 L523.88 506.65 L524.54 506.79 L525.20 506.93 L525.86 507.07 L526.52 507.20 L527.19 507.34 L527.85 507.47 L528.51 507.60 L529.17 507.73 L529.83 507.86 L530.49 507.99 L531.15 508.11 L531.81 508.24 L532.47 508.36 L533.14 508.48 L533.80 508.60 L534.46 508.71 L535.12 508.83 L535.78 508.94 L536.44 509.06 L537.10 509.17 L537.76 509.28 L538.42 509.39 L539.09 509.50 L539.75 509.60 L540.41 509.71 L541.07 509.81 L541.73 509.91 L542.39 510.01 L543.05 510.11 L543.71 510.21 L544.37 510.30 L545.04 510.40 L545.70 510.49 L546.36 510.59 L547.02 510.68 L547.68 510.77 L548.34 510.86 L549.00 510.94 L549.66 511.03 L550.32 511.11 L550.98 511.20 L551.65 511.28 L552.31 511.36 L552.97 511.44 L553.63 511.52 L554.29 511.60 L554.95 511.68 L555.61 511.75 L556.27 511.83 L556.93 511.90 L557.60 511.98 L558.26 512.05 L558.92 512.12 L559.58 512.19 L560.24 512.26 L560.90 512.32 L561.56 512.39 L562.22 512.46 L562.88 512.52 L563.55 512.58 L564.21 512.65 L564.87 512.71 L565.53 512.77 L566.19 512.83 L566.85 512.89 L567.51 512.95 L568.17 513.00 L568.83 513.06 L569.50 513.12 L570.16 513.17 L570.82 513.23 L571.48 513.28 L572.14 513.33 L572.80 513.38 L573.46 513.43 L574.12 513.48 L574.78 513.53 L575.45 513.58 L576.11 513.63 L576.77 513.68 L577.43 513.72 L578.09 513.77 L578.75 513.81 L579.41 513.86 L580.07 513.90 L580.73 513.94 L581.39 513.98 L582.06 514.02 L582.72 514.07 L583.38 514.11 L584.04 514.14 L584.70 514.18 L585.36 514.22 L586.02 514.26 L586.68 514.30 L587.34 514.33 L588.01 514.37 L588.67 514.40 L589.33 514.44 L589.99 514.47 L590.65 514.51 L591.31 514.54 L591.97 514.57 L592.63 514.60 L593.29 514.63 L593.96 514.66 L594.62 514.69 L595.28 514.72 L595.94 514.75 L596.60 514.78 L597.26 514.81 L597.92 514.84 L598.58 514.87 L599.24 514.89 L599.91 514.92 L600.57 514.95 L601.23 514.97 L601.89 515.00 L602.55 515.02 L603.21 515.05 L603.87 515.07 L604.53 515.09 L605.19 515.12 L605.86 515.14 L606.52 515.16 L607.18 515.18 L607.84 515.20 L608.50 515.23 L609.16 515.25 L609.82 515.27 L610.48 515.29 L611.14 515.31 L611.80 515.33 L612.47 515.35 L613.13 515.37 L613.79 515.38 L614.45 515.40 L615.11 515.42 L615.77 515.44 L616.43 515.45 L617.09 515.47 L617.75 515.49 L618.42 515.50 L619.08 515.52 L619.74 515.54 L620.40 515.55 L621.06 515.57 L621.72 515.58 L622.38 515.60 L623.04 515.61 L623.70 515.63 L624.37 515.64 L625.03 515.65 L625.69 515.67 L626.35 515.68 L627.01 515.69 L627.67 515.71 L628.33 515.72 L628.99 515.73 L629.65 515.74 L630.32 515.76 L630.98 515.77 L631.64 515.78 L632.30 515.79 L632.96 515.80 L633.62 515.81 L634.28 515.82 L634.94 515.83 L635.60 515.84 L636.27 515.85 L636.93 515.86 L637.59 515.87 L638.25 515.88 L638.91 515.89 L639.57 515.90 L640.23 515.91 L640.89 515.92 L641.55 515.93 L642.21 515.94 L642.88 515.95 L643.54 515.95 L644.20 515.96 L644.86 515.97 L645.52 515.98 L646.18 515.99 L646.84 515.99 L647.50 516.00 L648.16 516.01 L648.83 516.02 L649.49 516.02 L650.15 516.03 L650.81 516.04 L651.47 516.04 L652.13 516.05 L652.79 516.06 L653.45 516.06 L654.11 516.07 L654.78 516.08 L655.44 516.08 L656.10 516.09 L656.76 516.09 L657.42 516.10 L658.08 516.10 L658.74 516.11 L659.40 516.12 L660.06 516.12 L660.73 516.13 L661.39 516.13 L662.05 516.14 L662.71 516.14 L663.37 516.15 L664.03 516.15 L664.69 516.15 L665.35 516.16 L666.01 516.16 L666.68 516.17 L667.34 516.17 L668.00 516.18 L668.66 516.18 L669.32 516.19 L669.98 516.19 L670.64 516.19 L671.30 516.20 L671.96 516.20 L672.62 516.20 L673.29 516.21 L673.95 516.21 L674.61 516.22 L675.27 516.22 L675.93 516.22 L676.59 516.23 L677.25 516.23 L677.91 516.23 L678.57 516.24 L679.24 516.24 L679.90 516.24 L680.56 516.24 L681.22 516.25 L681.88 516.25 L682.54 516.25 L683.20 516.26 L683.86 516.26 L684.52 516.26 L685.19 516.26 L685.85 516.27 L686.51 516.27 L687.17 516.27 L687.83 516.27 L688.49 516.28 L689.15 516.28 L689.81 516.28 L690.47 516.28 L691.14 516.28 L691.80 516.29 L692.46 516.29 L693.12 516.29 L693.78 516.29 L694.44 516.30 L695.10 516.30 L695.76 516.30 L696.42 516.30 L697.09 516.30 L697.75 516.30 L698.41 516.31 L699.07 516.31 L699.73 516.31 L700.39 516.31 L701.05 516.31 L701.71 516.31 L702.37 516.32 L703.03 516.32 L703.70 516.32 L704.36 516.32 L705.02 516.32 L705.68 516.32 L706.34 516.33 L707.00 516.33 L707.66 516.33 L708.32 516.33 L708.98 516.33 L709.65 516.33 L710.31 516.33 L710.97 516.33 L711.63 516.34 L712.29 516.34 L712.95 516.34 L713.61 516.34 L714.27 516.34 L714.93 516.34 L715.60 516.34 L716.26 516.34 L716.92 516.34 L717.58 516.35 L718.24 516.35 L718.90 516.35 L719.56 516.35 L720.22 516.35 L720.88 516.35 L721.55 516.35 L722.21 516.35 L722.87 516.35 L723.53 516.35 L724.19 516.36 L724.85 516.36 L725.51 516.36 L726.17 516.36 L726.83 516.36 L727.50 516.36 L728.16 516.36 L728.82 516.36 L729.48 516.36 L730.14 516.36 L730.80 516.36 L731.46 516.36 L732.12 516.36 L732.78 516.36 L733.44 516.37 L734.11 516.37 L734.77 516.37 L735.43 516.37 L736.09 516.37 L736.75 516.37 L737.41 516.37 L738.07 516.37 L738.73 516.37 L739.39 516.37 L740.06 516.37 L740.72 516.37 L741.38 516.37 L742.04 516.37 L742.70 516.37" stroke="#64B62E"/>
<path d="M134.50 514.05 L135.16 514.03 L135.82 514.02 L136.48 514.01 L137.14 513.99 L137.81 513.98 L138.47 513.97 L139.13 513.95 L139.79 513.94 L140.45 513.93 L141.11 513.92 L141.77 513.90 L142.43 513.89 L143.09 513.88 L143.76 513.87 L144.42 513.86 L145.08 513.84 L145.74 513.83 L146.40 513.82 L147.06 513.81 L147.72 513.80 L148.38 513.79 L149.04 513.77 L149.71 513.76 L150.37 513.75 L151.03 513.74 L151.69 513.73 L152.35 513.71 L153.01 513.70 L153.67 513.69 L154.33 513.68 L154.99 513.67 L155.65 513.65 L156.32 513.64 L156.98 513.63 L157.64 513.61 L158.30 513.60 L158.96 513.59 L159.62 513.57 L160.28 513.56 L160.94 513.54 L161.60 513.53 L162.27 513.51 L162.93 513.49 L163.59 513.48 L164.25 513.46 L164.91 513.44 L165.57 513.42 L166.23 513.41 L166.89 513.39 L167.55 513.37 L168.22 513.35 L168.88 513.33 L169.54 513.30 L170.20 513.28 L170.86 513.26 L171.52 513.23 L172.18 513.21 L172.84 513.18 L173.50 513.16 L174.17 513.13 L174.83 513.10 L175.49 513.07 L176.15 513.04 L176.81 513.01 L177.47 512.98 L178.13 512.95 L178.79 512.92 L179.45 512.88 L180.12 512.85 L180.78 512.81 L181.44 512.77 L182.10 512.73 L182.76 512.69 L183.42 512.65 L184.08 512.61 L184.74 512.56 L185.40 512.52 L186.06 512.47 L186.73 512.42 L187.39 512.37 L188.05 512.32 L188.71 512.26 L189.37 512.21 L190.03 512.15 L190.69 512.09 L191.35 512.03 L192.01 511.97 L192.68 511.91 L193.34 511.84 L194.00 511.78 L194.66 511.71 L195.32 511.64 L195.98 511.56 L196.64 511.49 L197.30 511.41 L197.96 511.33 L198.63 511.24 L199.29 511.16 L199.95 511.07 L200.61 510.98 L201.27 510.89 L201.93 510.79 L202.59 510.69 L203.25 510.59 L203.91 510.49 L204.58 510.38 L205.24 510.27 L205.90 510.16 L206.56 510.04 L207.22 509.92 L207.88 509.79 L208.54 509.67 L209.20 509.53 L209.86 509.40 L210.53 509.26 L211.19 509.12 L211.85 508.97 L212.51 508.81 L213.17 508.66 L213.83 508.50 L214.49 508.33 L215.15 508.16 L215.81 507.98 L216.47 507.80 L217.14 507.61 L217.80 507.42 L218.46 507.22 L219.12 507.01 L219.78 506.80 L220.44 506.58 L221.10 506.36 L221.76 506.12 L222.42 505.88 L223.09 505.64 L223.75 505.38 L224.41 505.12 L225.07 504.85 L225.73 504.57 L226.39 504.28 L227.05 503.98 L227.71 503.67 L228.37 503.35 L229.04 503.01 L229.70 502.67 L230.36 502.32 L231.02 501.95 L231.68 501.57 L232.34 501.18 L233.00 500.77 L233.66 500.35 L234.32 499.91 L234.99 499.46 L235.65 498.98 L236.31 498.45 L236.97 497.88 L237.63 497.27 L238.29 496.61 L238.95 495.90 L239.61 495.15 L240.27 494.35 L240.94 493.50 L241.60 492.60 L242.26 491.65 L242.92 490.65 L243.58 489.60 L244.24 488.50 L244.90 487.34 L245.56 486.13 L246.22 484.86 L246.88 483.54 L247.55 482.16 L248.21 480.73 L248.87 479.25 L249.53 477.71 L250.19 476.11 L250.85 474.47 L251.51 472.77 L252.17 471.03 L252.83 469.24 L253.50 467.41 L254.16 465.53 L254.82 463.62 L255.48 461.68 L256.14 459.72 L256.80 457.70 L257.46 455.61 L258.12 453.45 L258.78 451.20 L259.45 448.87 L260.11 446.46 L260.77 443.96 L261.43 441.38 L262.09 438.71 L262.75 435.95 L263.41 433.11 L264.07 430.17 L264.73 427.14 L265.40 424.02 L266.06 420.81 L266.72 417.51 L267.38 414.12 L268.04 410.63 L268.70 407.05 L269.36 403.39 L270.02 399.63 L270.68 395.79 L271.35 391.86 L272.01 387.84 L272.67 383.74 L273.33 379.56 L273.99 375.29 L274.65 370.96 L275.31 366.55 L275.97 362.06 L276.63 357.51 L277.29 352.90 L277.96 348.22 L278.62 343.49 L279.28 338.71 L279.94 333.87 L280.60 328.99 L281.26 324.06 L281.92 319.10 L282.58 314.10 L283.24 309.07 L283.91 304.01 L284.57 298.93 L285.23 293.81 L285.89 288.68 L286.55 283.52 L287.21 278.35 L287.87 273.15 L288.53 267.93 L289.19 262.70 L289.86 257.44 L290.52 252.17 L291.18 246.87 L291.84 241.56 L292.50 236.24 L293.16 230.90 L293.82 225.56 L294.48 220.22 L295.14 214.88 L295.81 209.57 L296.47 204.29 L297.13 199.06 L297.79 193.91 L298.45 188.84 L299.11 183.89 L299.77 179.09 L300.43 174.47 L301.09 170.05 L301.75 165.86 L302.42 161.95 L303.08 158.35 L303.74 155.07 L304.40 152.16 L305.06 149.64 L305.72 147.53 L306.38 145.86 L307.04 144.63 L307.70 143.85 L308.37 143.61 L309.03 144.05 L309.69 145.14 L310.35 146.84 L311.01 149.09 L311.67 151.81 L312.33 154.94 L312.99 158.40 L313.65 162.12 L314.32 166.05 L314.98 170.12 L315.64 174.29 L316.30 178.51 L316.96 182.76 L317.62 187.00 L318.28 191.21 L318.94 195.37 L319.60 199.47 L320.27 203.49 L320.93 207.44 L321.59 211.30 L322.25 215.08 L322.91 218.78 L323.57 222.40 L324.23 225.95 L324.89 229.43 L325.55 232.85 L326.22 236.22 L326.88 239.54 L327.54 242.82 L328.20 246.07 L328.86 249.30 L329.52 252.50 L330.18 255.69 L330.84 258.87 L331.50 262.04 L332.17 265.21 L332.83 268.38 L333.49 271.54 L334.15 274.71 L334.81 277.88 L335.47 281.04 L336.13 284.21 L336.79 287.38 L337.45 290.55 L338.11 293.71 L338.78 296.87 L339.44 300.03 L340.10 303.17 L340.76 306.31 L341.42 309.43 L342.08 312.54 L342.74 315.63 L343.40 318.70 L344.06 321.76 L344.73 324.79 L345.39 327.79 L346.05 330.77 L346.71 333.73 L347.37 336.65 L348.03 339.54 L348.69 342.39 L349.35 345.22 L350.01 348.00 L350.68 350.75 L351.34 353.47 L352.00 356.14 L352.66 358.77 L353.32 361.36 L353.98 363.91 L354.64 366.41 L355.30 368.87 L355.96 371.29 L356.63 373.66 L357.29 375.99 L357.95 378.27 L358.61 380.50 L359.27 382.69 L359.93 384.84 L360.59 386.94 L361.25 388.99 L361.91 391.00 L362.58 392.96 L363.24 394.87 L363.90 396.75 L364.56 398.57 L365.22 400.36 L365.88 402.10 L366.54 403.79 L367.20 405.45 L367.86 407.06 L368.52 408.63 L369.19 410.16 L369.85 411.65 L370.51 413.11 L371.17 414.52 L371.83 415.90 L372.49 417.24 L373.15 418.54 L373.81 419.81 L374.47 421.05 L375.14 422.25 L375.80 423.43 L376.46 424.57 L377.12 425.68 L377.78 426.76 L378.44 427.81 L379.10 428.84 L379.76 429.84 L380.42 430.81 L381.09 431.76 L381.75 432.70 L382.41 433.63 L383.07 434.55 L383.73 435.45 L384.39 436.34 L385.05 437.22 L385.71 438.08 L386.37 438.93 L387.04 439.77 L387.70 440.60 L388.36 441.42 L389.02 442.22 L389.68 443.01 L390.34 443.80 L391.00 444.57 L391.66 445.33 L392.32 446.09 L392.99 446.83 L393.65 447.56 L394.31 448.28 L394.97 448.98 L395.63 449.68 L396.29 450.37 L396.95 451.04 L397.61 451.70 L398.27 452.35 L398.93 452.99 L399.60 453.61 L400.26 454.22 L400.92 454.81 L401.58 455.39 L402.24 455.96 L402.90 456.51 L403.56 457.05 L404.22 457.57 L404.88 458.08 L405.55 458.57 L406.21 459.05 L406.87 459.51 L407.53 459.97 L408.19 460.41 L408.85 460.86 L409.51 461.29 L410.17 461.72 L410.83 462.15 L411.50 462.57 L412.16 462.99 L412.82 463.40 L413.48 463.80 L414.14 464.21 L414.80 464.60 L415.46 465.00 L416.12 465.39 L416.78 465.77 L417.45 466.15 L418.11 466.53 L418.77 466.90 L419.43 467.27 L420.09 467.64 L420.75 468.00 L421.41 468.36 L422.07 468.72 L422.73 469.07 L423.40 469.42 L424.06 469.77 L424.72 470.12 L425.38 470.46 L426.04 470.80 L426.70 471.14 L427.36 471.47 L428.02 471.80 L428.68 472.13 L429.34 472.46 L430.01 472.79 L430.67 473.11 L431.33 473.44 L431.99 473.76 L432.65 474.08 L433.31 474.39 L433.97 474.71 L434.63 475.02 L435.29 475.34 L435.96 475.65 L436.62 475.96 L437.28 476.27 L437.94 476.57 L438.60 476.88 L439.26 477.19 L439.92 477.49 L440.58 477.79 L441.24 478.10 L441.91 478.40 L442.57 478.70 L443.23 479.00 L443.89 479.30 L444.55 479.59 L445.21 479.89 L445.87 480.19 L446.53 480.48 L447.19 480.78 L447.86 481.07 L448.52 481.37 L449.18 481.66 L449.84 481.95 L450.50 482.25 L451.16 482.54 L451.82 482.83 L452.48 483.12 L453.14 483.41 L453.81 483.70 L454.47 483.99 L455.13 484.28 L455.79 484.57 L456.45 484.86 L457.11 485.14 L457.77 485.43 L458.43 485.71 L459.09 486.00 L459.75 486.28 L460.42 486.56 L461.08 486.85 L461.74 487.13 L462.40 487.41 L463.06 487.68 L463.72 487.96 L464.38 488.24 L465.04 488.51 L465.70 488.79 L466.37 489.06 L467.03 489.33 L467.69 489.60 L468.35 489.87 L469.01 490.14 L469.67 490.41 L470.33 490.68 L470.99 490.94 L471.65 491.20 L472.32 491.47 L472.98 491.73 L473.64 491.99 L474.30 492.25 L474.96 492.50 L475.62 492.76 L476.28 493.01 L476.94 493.26 L477.60 493.51 L478.27 493.76 L478.93 494.01 L479.59 494.26 L480.25 494.50 L480.91 494.75 L481.57 494.99 L482.23 495.23 L482.89 495.47 L483.55 495.70 L484.22 495.94 L484.88 496.17 L485.54 496.40 L486.20 496.63 L486.86 496.86 L487.52 497.09 L488.18 497.31 L488.84 497.54 L489.50 497.76 L490.16 497.98 L490.83 498.20 L491.49 498.42 L492.15 498.63 L492.81 498.85 L493.47 499.06 L494.13 499.27 L494.79 499.48 L495.45 499.68 L496.11 499.89 L496.78 500.09 L497.44 500.29 L498.10 500.49 L498.76 500.69 L499.42 500.89 L500.08 501.08 L500.74 501.27 L501.40 501.46 L502.06 501.65 L502.73 501.84 L503.39 502.03 L504.05 502.21 L504.71 502.39 L505.37 502.57 L506.03 502.75 L506.69 502.93 L507.35 503.11 L508.01 503.28 L508.68 503.45 L509.34 503.62 L510.00 503.79 L510.66 503.96 L511.32 504.12 L511.98 504.29 L512.64 504.45 L513.30 504.61 L513.96 504.77 L514.62 504.92 L515.29 505.08 L515.95 505.23 L516.61 505.39 L517.27 505.54 L517.93 505.68 L518.59 505.83 L519.25 505.98 L519.91 506.12 L520.57 506.26 L521.24 506.40 L521.90 506.54 L522.56 506.68 L523.22 506.82 L523.88 506.95 L524.54 507.08 L525.20 507.22 L525.86 507.35 L526.52 507.47 L527.19 507.60 L527.85 507.73 L528.51 507.85 L529.17 507.97 L529.83 508.09 L530.49 508.21 L531.15 508.33 L531.81 508.45 L532.47 508.56 L533.14 508.68 L533.80 508.79 L534.46 508.90 L535.12 509.01 L535.78 509.12 L536.44 509.23 L537.10 509.33 L537.76 509.44 L538.42 509.54 L539.09 509.64 L539.75 509.74 L540.41 509.84 L541.07 509.94 L541.73 510.04 L542.39 510.13 L543.05 510.23 L543.71 510.32 L544.37 510.41 L545.04 510.50 L545.70 510.59 L546.36 510.68 L547.02 510.77 L547.68 510.85 L548.34 510.94 L549.00 511.02 L549.66 511.10 L550.32 511.18 L550.98 511.26 L551.65 511.34 L552.31 511.42 L552.97 511.50 L553.63 511.57 L554.29 511.65 L554.95 511.72 L555.61 511.80 L556.27 511.87 L556.93 511.94 L557.60 512.01 L558.26 512.08 L558.92 512.15 L559.58 512.21 L560.24 512.28 L560.90 512.34 L561.56 512.41 L562.22 512.47 L562.88 512.53 L563.55 512.59 L564.21 512.66 L564.87 512.71 L565.53 512.77 L566.19 512.83 L566.85 512.89 L567.51 512.94 L568.17 513.00 L568.83 513.06 L569.50 513.11 L570.16 513.16 L570.82 513.21 L571.48 513.27 L572.14 513.32 L572.80 513.37 L573.46 513.42 L574.12 513.46 L574.78 513.51 L575.45 513.56 L576.11 513.61 L576.77 513.65 L577.43 513.70 L578.09 513.74 L578.75 513.78 L579.41 513.83 L580.07 513.87 L580.73 513.91 L581.39 513.95 L582.06 513.99 L582.72 514.03 L583.38 514.07 L584.04 514.11 L584.70 514.15 L585.36 514.19 L586.02 514.22 L586.68 514.26 L587.34 514.29 L588.01 514.33 L588.67 514.36 L589.33 514.40 L589.99 514.43 L590.65 514.46 L591.31 514.50 L591.97 514.53 L592.63 514.56 L593.29 514.59 L593.96 514.62 L594.62 514.65 L595.28 514.68 L595.94 514.71 L596.60 514.74 L597.26 514.77 L597.92 514.79 L598.58 514.82 L599.24 514.85 L599.91 514.88 L600.57 514.90 L601.23 514.93 L601.89 514.95 L602.55 514.98 L603.21 515.00 L603.87 515.02 L604.53 515.05 L605.19 515.07 L605.86 515.09 L606.52 515.12 L607.18 515.14 L607.84 515.16 L608.50 515.18 L609.16 515.20 L609.82 515.22 L610.48 515.24 L611.14 515.26 L611.80 515.28 L612.47 515.30 L613.13 515.32 L613.79 515.34 L614.45 515.36 L615.11 515.38 L615.77 515.39 L616.43 515.41 L617.09 515.43 L617.75 515.45 L618.42 515.46 L619.08 515.48 L619.74 515.50 L620.40 515.51 L621.06 515.53 L621.72 515.54 L622.38 515.56 L623.04 515.57 L623.70 515.59 L624.37 515.60 L625.03 515.61 L625.69 515.63 L626.35 515.64 L627.01 515.66 L627.67 515.67 L628.33 515.68 L628.99 515.69 L629.65 515.71 L630.32 515.72 L630.98 515.73 L631.64 515.74 L632.30 515.75 L632.96 515.77 L633.62 515.78 L634.28 515.79 L634.94 515.80 L635.60 515.81 L636.27 515.82 L636.93 515.83 L637.59 515.84 L638.25 515.85 L638.91 515.86 L639.57 515.87 L640.23 515.88 L640.89 515.89 L641.55 515.90 L642.21 515.91 L642.88 515.92 L643.54 515.93 L644.20 515.93 L644.86 515.94 L645.52 515.95 L646.18 515.96 L646.84 515.97 L647.50 515.97 L648.16 515.98 L648.83 515.99 L649.49 516.00 L650.15 516.00 L650.81 516.01 L651.47 516.02 L652.13 516.03 L652.79 516.03 L653.45 516.04 L654.11 516.05 L654.78 516.05 L655.44 516.06 L656.10 516.06 L656.76 516.07 L657.42 516.08 L658.08 516.08 L658.74 516.09 L659.40 516.09 L660.06 516.10 L660.73 516.11 L661.39 516.11 L662.05 516.12 L662.71 516.12 L663.37 516.13 L664.03 516.13 L664.69 516.14 L665.35 516.14 L666.01 516.15 L666.68 516.15 L667.34 516.15 L668.00 516.16 L668.66 516.16 L669.32 516.17 L669.98 516.17 L670.64 516.18 L671.30 516.18 L671.96 516.18 L672.62 516.19 L673.29 516.19 L673.95 516.20 L674.61 516.20 L675.27 516.20 L675.93 516.21 L676.59 516.21 L677.25 516.21 L677.91 516.22 L678.57 516.22 L679.24 516.23 L679.90 516.23 L680.56 516.23 L681.22 516.23 L681.88 516.24 L682.54 516.24 L683.20 516.24 L683.86 516.25 L684.52 516.25 L685.19 516.25 L685.85 516.26 L686.51 516.26 L687.17 516.26 L687.83 516.26 L688.49 516.27 L689.15 516.27 L689.81 516.27 L690.47 516.27 L691.14 516.28 L691.80 516.28 L692.46 516.28 L693.12 516.28 L693.78 516.28 L694.44 516.29 L695.10 516.29 L695.76 516.29 L696.42 516.29 L697.09 516.30 L697.75 516.30 L698.41 516.30 L699.07 516.30 L699.73 516.30 L700.39 516.30 L701.05 516.31 L701.71 516.31 L702.37 516.31 L703.03 516.31 L703.70 516.31 L704.36 516.31 L705.02 516.32 L705.68 516.32 L706.34 516.32 L707.00 516.32 L707.66 516.32 L708.32 516.32 L708.98 516.33 L709.65 516.33 L710.31 516.33 L710.97 516.33 L711.63 516.33 L712.29 516.33 L712.95 516.33 L713.61 516.33 L714.27 516.34 L714.93 516.34 L715.60 516.34 L716.26 516.34 L716.92 516.34 L717.58 516.34 L718.24 516.34 L718.90 516.34 L719.56 516.35 L720.22 516.35 L720.88 516.35 L721.55 516.35 L722.21 516.35 L722.87 516.35 L723.53 516.35 L724.19 516.35 L724.85 516.35 L725.51 516.35 L726.17 516.35 L726.83 516.36 L727.50 516.36 L728.16 516.36 L728.82 516.36 L729.48 516.36 L730.14 516.36 L730.80 516.36 L731.46 516.36 L732.12 516.36 L732.78 516.36 L733.44 516.36 L734.11 516.36 L734.77 516.36 L735.43 516.37 L736.09 516.37 L736.75 516.37 L737.41 516.37 L738.07 516.37 L738.73 516.37 L739.39 516.37 L740.06 516.37 L740.72 516.37 L741.38 516.37 L742.04 516.37 L742.70 516.37" stroke="#244FA3"/>
<path d="M134.50 513.95 L135.16 513.93 L135.82 513.92 L136.48 513.91 L137.14 513.89 L137.81 513.88 L138.47 513.86 L139.13 513.85 L139.79 513.84 L140.45 513.82 L141.11 513.81 L141.77 513.80 L142.43 513.78 L143.09 513.77 L143.76 513.76 L144.42 513.74 L145.08 513.73 L145.74 513.71 L146.40 513.70 L147.06 513.68 L147.72 513.67 L148.38 513.66 L149.04 513.64 L149.71 513.63 L150.37 513.61 L151.03 513.60 L151.69 513.58 L152.35 513.56 L153.01 513.55 L153.67 513.53 L154.33 513.52 L154.99 513.50 L155.65 513.48 L156.32 513.46 L156.98 513.45 L157.64 513.43 L158.30 513.41 L158.96 513.39 L159.62 513.37 L160.28 513.35 L160.94 513.33 L161.60 513.31 L162.27 513.29 L162.93 513.26 L163.59 513.24 L164.25 513.22 L164.91 513.19 L165.57 513.17 L166.23 513.14 L166.89 513.12 L167.55 513.09 L168.22 513.06 L168.88 513.03 L169.54 513.00 L170.20 512.97 L170.86 512.94 L171.52 512.91 L172.18 512.87 L172.84 512.84 L173.50 512.81 L174.17 512.77 L174.83 512.73 L175.49 512.69 L176.15 512.65 L176.81 512.61 L177.47 512.57 L178.13 512.53 L178.79 512.49 L179.45 512.44 L180.12 512.39 L180.78 512.34 L181.44 512.29 L182.10 512.24 L182.76 512.19 L183.42 512.14 L184.08 512.08 L184.74 512.02 L185.40 511.97 L186.06 511.91 L186.73 511.84 L187.39 511.78 L188.05 511.71 L188.71 511.65 L189.37 511.58 L190.03 511.50 L190.69 511.43 L191.35 511.35 L192.01 511.28 L192.68 511.20 L193.34 511.11 L194.00 511.03 L194.66 510.94 L195.32 510.85 L195.98 510.76 L196.64 510.67 L197.30 510.57 L197.96 510.47 L198.63 510.37 L199.29 510.26 L199.95 510.15 L200.61 510.04 L201.27 509.92 L201.93 509.81 L202.59 509.68 L203.25 509.56 L203.91 509.43 L204.58 509.30 L205.24 509.16 L205.90 509.02 L206.56 508.88 L207.22 508.73 L207.88 508.58 L208.54 508.42 L209.20 508.26 L209.86 508.10 L210.53 507.93 L211.19 507.76 L211.85 507.58 L212.51 507.39 L213.17 507.20 L213.83 507.01 L214.49 506.80 L215.15 506.60 L215.81 506.39 L216.47 506.17 L217.14 505.94 L217.80 505.71 L218.46 505.47 L219.12 505.23 L219.78 504.97 L220.44 504.71 L221.10 504.44 L221.76 504.17 L222.42 503.88 L223.09 503.59 L223.75 503.29 L224.41 502.98 L225.07 502.66 L225.73 502.33 L226.39 501.99 L227.05 501.64 L227.71 501.28 L228.37 500.90 L229.04 500.52 L229.70 500.12 L230.36 499.71 L231.02 499.29 L231.68 498.85 L232.34 498.40 L233.00 497.93 L233.66 497.45 L234.32 496.95 L234.99 496.44 L235.65 495.89 L236.31 495.30 L236.97 494.67 L237.63 493.99 L238.29 493.26 L238.95 492.48 L239.61 491.66 L240.27 490.79 L240.94 489.86 L241.60 488.88 L242.26 487.85 L242.92 486.77 L243.58 485.63 L244.24 484.43 L244.90 483.18 L245.56 481.88 L246.22 480.51 L246.88 479.09 L247.55 477.61 L248.21 476.07 L248.87 474.48 L249.53 472.83 L250.19 471.13 L250.85 469.38 L251.51 467.57 L252.17 465.72 L252.83 463.83 L253.50 461.89 L254.16 459.92 L254.82 457.92 L255.48 455.90 L256.14 453.86 L256.80 451.79 L257.46 449.64 L258.12 447.41 L258.78 445.12 L259.45 442.74 L260.11 440.29 L260.77 437.77 L261.43 435.16 L262.09 432.48 L262.75 429.71 L263.41 426.87 L264.07 423.94 L264.73 420.94 L265.40 417.85 L266.06 414.68 L266.72 411.43 L267.38 408.10 L268.04 404.69 L268.70 401.21 L269.36 397.64 L270.02 394.00 L270.68 390.28 L271.35 386.49 L272.01 382.63 L272.67 378.70 L273.33 374.70 L273.99 370.63 L274.65 366.51 L275.31 362.32 L275.97 358.08 L276.63 353.79 L277.29 349.44 L277.96 345.05 L278.62 340.62 L279.28 336.14 L279.94 331.64 L280.60 327.10 L281.26 322.53 L281.92 317.94 L282.58 313.33 L283.24 308.71 L283.91 304.06 L284.57 299.41 L285.23 294.75 L285.89 290.08 L286.55 285.41 L287.21 280.73 L287.87 276.06 L288.53 271.38 L289.19 266.69 L289.86 262.01 L290.52 257.33 L291.18 252.65 L291.84 247.97 L292.50 243.29 L293.16 238.61 L293.82 233.95 L294.48 229.30 L295.14 224.67 L295.81 220.06 L296.47 215.50 L297.13 210.99 L297.79 206.55 L298.45 202.19 L299.11 197.94 L299.77 193.81 L300.43 189.84 L301.09 186.05 L301.75 182.45 L302.42 179.09 L303.08 175.99 L303.74 173.17 L304.40 170.65 L305.06 168.47 L305.72 166.63 L306.38 165.16 L307.04 164.06 L307.70 163.35 L308.37 163.11 L309.03 163.47 L309.69 164.41 L310.35 165.88 L311.01 167.84 L311.67 170.23 L312.33 172.97 L312.99 176.00 L313.65 179.27 L314.32 182.71 L314.98 186.28 L315.64 189.94 L316.30 193.65 L316.96 197.38 L317.62 201.10 L318.28 204.80 L318.94 208.47 L319.60 212.08 L320.27 215.64 L320.93 219.13 L321.59 222.57 L322.25 225.94 L322.91 229.25 L323.57 232.50 L324.23 235.71 L324.89 238.86 L325.55 241.98 L326.22 245.06 L326.88 248.12 L327.54 251.15 L328.20 254.16 L328.86 257.16 L329.52 260.16 L330.18 263.15 L330.84 266.13 L331.50 269.12 L332.17 272.12 L332.83 275.11 L333.49 278.12 L334.15 281.12 L334.81 284.13 L335.47 287.15 L336.13 290.17 L336.79 293.19 L337.45 296.21 L338.11 299.23 L338.78 302.25 L339.44 305.26 L340.10 308.26 L340.76 311.26 L341.42 314.25 L342.08 317.22 L342.74 320.18 L343.40 323.12 L344.06 326.04 L344.73 328.94 L345.39 331.82 L346.05 334.67 L346.71 337.50 L347.37 340.30 L348.03 343.07 L348.69 345.81 L349.35 348.52 L350.01 351.19 L350.68 353.83 L351.34 356.43 L352.00 359.00 L352.66 361.53 L353.32 364.02 L353.98 366.47 L354.64 368.88 L355.30 371.25 L355.96 373.58 L356.63 375.86 L357.29 378.10 L357.95 380.31 L358.61 382.46 L359.27 384.58 L359.93 386.65 L360.59 388.68 L361.25 390.67 L361.91 392.62 L362.58 394.52 L363.24 396.38 L363.90 398.20 L364.56 399.97 L365.22 401.71 L365.88 403.41 L366.54 405.06 L367.20 406.68 L367.86 408.25 L368.52 409.79 L369.19 411.29 L369.85 412.76 L370.51 414.19 L371.17 415.58 L371.83 416.94 L372.49 418.26 L373.15 419.55 L373.81 420.81 L374.47 422.04 L375.14 423.23 L375.80 424.40 L376.46 425.54 L377.12 426.65 L377.78 427.73 L378.44 428.79 L379.10 429.82 L379.76 430.82 L380.42 431.81 L381.09 432.77 L381.75 433.72 L382.41 434.67 L383.07 435.60 L383.73 436.51 L384.39 437.42 L385.05 438.31 L385.71 439.19 L386.37 440.06 L387.04 440.91 L387.70 441.76 L388.36 442.59 L389.02 443.41 L389.68 444.22 L390.34 445.02 L391.00 445.80 L391.66 446.57 L392.32 447.33 L392.99 448.08 L393.65 448.82 L394.31 449.55 L394.97 450.26 L395.63 450.96 L396.29 451.65 L396.95 452.32 L397.61 452.98 L398.27 453.63 L398.93 454.26 L399.60 454.88 L400.26 455.49 L400.92 456.08 L401.58 456.65 L402.24 457.22 L402.90 457.77 L403.56 458.30 L404.22 458.82 L404.88 459.33 L405.55 459.82 L406.21 460.31 L406.87 460.78 L407.53 461.24 L408.19 461.70 L408.85 462.15 L409.51 462.60 L410.17 463.04 L410.83 463.47 L411.50 463.90 L412.16 464.32 L412.82 464.74 L413.48 465.16 L414.14 465.57 L414.80 465.97 L415.46 466.37 L416.12 466.77 L416.78 467.16 L417.45 467.55 L418.11 467.93 L418.77 468.31 L419.43 468.69 L420.09 469.06 L420.75 469.43 L421.41 469.80 L422.07 470.16 L422.73 470.52 L423.40 470.87 L424.06 471.23 L424.72 471.58 L425.38 471.92 L426.04 472.27 L426.70 472.61 L427.36 472.95 L428.02 473.28 L428.68 473.62 L429.34 473.95 L430.01 474.28 L430.67 474.60 L431.33 474.93 L431.99 475.25 L432.65 475.57 L433.31 475.89 L433.97 476.21 L434.63 476.52 L435.29 476.83 L435.96 477.15 L436.62 477.45 L437.28 477.76 L437.94 478.07 L438.60 478.37 L439.26 478.68 L439.92 478.98 L440.58 479.28 L441.24 479.58 L441.91 479.88 L442.57 480.18 L443.23 480.47 L443.89 480.77 L444.55 481.06 L445.21 481.35 L445.87 481.65 L446.53 481.94 L447.19 482.23 L447.86 482.52 L448.52 482.80 L449.18 483.09 L449.84 483.38 L450.50 483.66 L451.16 483.95 L451.82 484.23 L452.48 484.52 L453.14 484.80 L453.81 485.08 L454.47 485.36 L455.13 485.64 L455.79 485.92 L456.45 486.20 L457.11 486.48 L457.77 486.75 L458.43 487.03 L459.09 487.30 L459.75 487.58 L460.42 487.85 L461.08 488.12 L461.74 488.39 L462.40 488.66 L463.06 488.93 L463.72 489.19 L464.38 489.46 L465.04 489.72 L465.70 489.99 L466.37 490.25 L467.03 490.51 L467.69 490.77 L468.35 491.03 L469.01 491.28 L469.67 491.54 L470.33 491.79 L470.99 492.04 L471.65 492.30 L472.32 492.55 L472.98 492.79 L473.64 493.04 L474.30 493.29 L474.96 493.53 L475.62 493.77 L476.28 494.02 L476.94 494.26 L477.60 494.49 L478.27 494.73 L478.93 494.97 L479.59 495.20 L480.25 495.43 L480.91 495.66 L481.57 495.89 L482.23 496.12 L482.89 496.35 L483.55 496.57 L484.22 496.79 L484.88 497.02 L485.54 497.24 L486.20 497.45 L486.86 497.67 L487.52 497.89 L488.18 498.10 L488.84 498.31 L489.50 498.52 L490.16 498.73 L490.83 498.94 L491.49 499.14 L492.15 499.34 L492.81 499.55 L493.47 499.75 L494.13 499.95 L494.79 500.14 L495.45 500.34 L496.11 500.53 L496.78 500.72 L497.44 500.91 L498.10 501.10 L498.76 501.29 L499.42 501.48 L500.08 501.66 L500.74 501.84 L501.40 502.02 L502.06 502.20 L502.73 502.38 L503.39 502.55 L504.05 502.73 L504.71 502.90 L505.37 503.07 L506.03 503.24 L506.69 503.41 L507.35 503.57 L508.01 503.74 L508.68 503.90 L509.34 504.06 L510.00 504.22 L510.66 504.38 L511.32 504.53 L511.98 504.69 L512.64 504.84 L513.30 504.99 L513.96 505.14 L514.62 505.29 L515.29 505.44 L515.95 505.59 L516.61 505.73 L517.27 505.87 L517.93 506.01 L518.59 506.15 L519.25 506.29 L519.91 506.43 L520.57 506.56 L521.24 506.69 L521.90 506.83 L522.56 506.96 L523.22 507.08 L523.88 507.21 L524.54 507.34 L525.20 507.46 L525.86 507.59 L526.52 507.71 L527.19 507.83 L527.85 507.95 L528.51 508.07 L529.17 508.18 L529.83 508.30 L530.49 508.41 L531.15 508.52 L531.81 508.63 L532.47 508.74 L533.14 508.85 L533.80 508.96 L534.46 509.06 L535.12 509.17 L535.78 509.27 L536.44 509.37 L537.10 509.48 L537.76 509.57 L538.42 509.67 L539.09 509.77 L539.75 509.87 L540.41 509.96 L541.07 510.05 L541.73 510.15 L542.39 510.24 L543.05 510.33 L543.71 510.42 L544.37 510.50 L545.04 510.59 L545.70 510.68 L546.36 510.76 L547.02 510.84 L547.68 510.93 L548.34 511.01 L549.00 511.09 L549.66 511.17 L550.32 511.24 L550.98 511.32 L551.65 511.40 L552.31 511.47 L552.97 511.55 L553.63 511.62 L554.29 511.69 L554.95 511.76 L555.61 511.83 L556.27 511.90 L556.93 511.97 L557.60 512.04 L558.26 512.10 L558.92 512.17 L559.58 512.23 L560.24 512.30 L560.90 512.36 L561.56 512.42 L562.22 512.48 L562.88 512.54 L563.55 512.60 L564.21 512.66 L564.87 512.72 L565.53 512.78 L566.19 512.83 L566.85 512.89 L567.51 512.94 L568.17 513.00 L568.83 513.05 L569.50 513.10 L570.16 513.15 L570.82 513.20 L571.48 513.25 L572.14 513.30 L572.80 513.35 L573.46 513.40 L574.12 513.45 L574.78 513.49 L575.45 513.54 L576.11 513.59 L576.77 513.63 L577.43 513.67 L578.09 513.72 L578.75 513.76 L579.41 513.80 L580.07 513.84 L580.73 513.88 L581.39 513.92 L582.06 513.96 L582.72 514.00 L583.38 514.04 L584.04 514.08 L584.70 514.12 L585.36 514.15 L586.02 514.19 L586.68 514.23 L587.34 514.26 L588.01 514.30 L588.67 514.33 L589.33 514.36 L589.99 514.40 L590.65 514.43 L591.31 514.46 L591.97 514.49 L592.63 514.52 L593.29 514.55 L593.96 514.59 L594.62 514.61 L595.28 514.64 L595.94 514.67 L596.60 514.70 L597.26 514.73 L597.92 514.76 L598.58 514.78 L599.24 514.81 L599.91 514.84 L600.57 514.86 L601.23 514.89 L601.89 514.91 L602.55 514.94 L603.21 514.96 L603.87 514.99 L604.53 515.01 L605.19 515.03 L605.86 515.06 L606.52 515.08 L607.18 515.10 L607.84 515.12 L608.50 515.14 L609.16 515.16 L609.82 515.19 L610.48 515.21 L611.14 515.23 L611.80 515.25 L612.47 515.27 L613.13 515.28 L613.79 515.30 L614.45 515.32 L615.11 515.34 L615.77 515.36 L616.43 515.38 L617.09 515.39 L617.75 515.41 L618.42 515.43 L619.08 515.44 L619.74 515.46 L620.40 515.48 L621.06 515.49 L621.72 515.51 L622.38 515.52 L623.04 515.54 L623.70 515.55 L624.37 515.57 L625.03 515.58 L625.69 515.60 L626.35 515.61 L627.01 515.62 L627.67 515.64 L628.33 515.65 L628.99 515.66 L629.65 515.68 L630.32 515.69 L630.98 515.70 L631.64 515.71 L632.30 515.72 L632.96 515.74 L633.62 515.75 L634.28 515.76 L634.94 515.77 L635.60 515.78 L636.27 515.79 L636.93 515.80 L637.59 515.81 L638.25 515.82 L638.91 515.83 L639.57 515.84 L640.23 515.85 L640.89 515.86 L641.55 515.87 L642.21 515.88 L642.88 515.89 L643.54 515.90 L644.20 515.91 L644.86 515.92 L645.52 515.93 L646.18 515.93 L646.84 515.94 L647.50 515.95 L648.16 515.96 L648.83 515.97 L649.49 515.97 L650.15 515.98 L650.81 515.99 L651.47 516.00 L652.13 516.00 L652.79 516.01 L653.45 516.02 L654.11 516.02 L654.78 516.03 L655.44 516.04 L656.10 516.04 L656.76 516.05 L657.42 516.06 L658.08 516.06 L658.74 516.07 L659.40 516.08 L660.06 516.08 L660.73 516.09 L661.39 516.09 L662.05 516.10 L662.71 516.10 L663.37 516.11 L664.03 516.11 L664.69 516.12 L665.35 516.12 L666.01 516.13 L666.68 516.13 L667.34 516.14 L668.00 516.14 L668.66 516.15 L669.32 516.15 L669.98 516.16 L670.64 516.16 L671.30 516.17 L671.96 516.17 L672.62 516.18 L673.29 516.18 L673.95 516.18 L674.61 516.19 L675.27 516.19 L675.93 516.20 L676.59 516.20 L677.25 516.20 L677.91 516.21 L678.57 516.21 L679.24 516.21 L679.90 516.22 L680.56 516.22 L681.22 516.22 L681.88 516.23 L682.54 516.23 L683.20 516.23 L683.86 516.24 L684.52 516.24 L685.19 516.24 L685.85 516.25 L686.51 516.25 L687.17 516.25 L687.83 516.25 L688.49 516.26 L689.15 516.26 L689.81 516.26 L690.47 516.26 L691.14 516.27 L691.80 516.27 L692.46 516.27 L693.12 516.27 L693.78 516.28 L694.44 516.28 L695.10 516.28 L695.76 516.28 L696.42 516.29 L697.09 516.29 L697.75 516.29 L698.41 516.29 L699.07 516.29 L699.73 516.30 L700.39 516.30 L701.05 516.30 L701.71 516.30 L702.37 516.30 L703.03 516.31 L703.70 516.31 L704.36 516.31 L705.02 516.31 L705.68 516.31 L706.34 516.31 L707.00 516.32 L707.66 516.32 L708.32 516.32 L708.98 516.32 L709.65 516.32 L710.31 516.32 L710.97 516.33 L711.63 516.33 L712.29 516.33 L712.95 516.33 L713.61 516.33 L714.27 516.33 L714.93 516.33 L715.60 516.33 L716.26 516.34 L716.92 516.34 L717.58 516.34 L718.24 516.34 L718.90 516.34 L719.56 516.34 L720.22 516.34 L720.88 516.34 L721.55 516.35 L722.21 516.35 L722.87 516.35 L723.53 516.35 L724.19 516.35 L724.85 516.35 L725.51 516.35 L726.17 516.35 L726.83 516.35 L727.50 516.35 L728.16 516.36 L728.82 516.36 L729.48 516.36 L730.14 516.36 L730.80 516.36 L731.46 516.36 L732.12 516.36 L732.78 516.36 L733.44 516.36 L734.11 516.36 L734.77 516.36 L735.43 516.36 L736.09 516.36 L736.75 516.37 L737.41 516.37 L738.07 516.37 L738.73 516.37 L739.39 516.37 L740.06 516.37 L740.72 516.37 L741.38 516.37 L742.04 516.37 L742.70 516.37" stroke="#E8E045"/>
<path d="M134.50 513.85 L135.16 513.83 L135.82 513.82 L136.48 513.81 L137.14 513.79 L137.81 513.78 L138.47 513.76 L139.13 513.75 L139.79 513.73 L140.45 513.72 L141.11 513.70 L141.77 513.69 L142.43 513.67 L143.09 513.66 L143.76 513.64 L144.42 513.63 L145.08 513.61 L145.74 513.59 L146.40 513.58 L147.06 513.56 L147.72 513.54 L148.38 513.53 L149.04 513.51 L149.71 513.49 L150.37 513.47 L151.03 513.45 L151.69 513.43 L152.35 513.41 L153.01 513.39 L153.67 513.37 L154.33 513.35 L154.99 513.33 L155.65 513.31 L156.32 513.29 L156.98 513.26 L157.64 513.24 L158.30 513.22 L158.96 513.19 L159.62 513.17 L160.28 513.14 L160.94 513.11 L161.60 513.09 L162.27 513.06 L162.93 513.03 L163.59 513.00 L164.25 512.97 L164.91 512.94 L165.57 512.91 L166.23 512.88 L166.89 512.84 L167.55 512.81 L168.22 512.77 L168.88 512.74 L169.54 512.70 L170.20 512.66 L170.86 512.62 L171.52 512.58 L172.18 512.54 L172.84 512.50 L173.50 512.45 L174.17 512.41 L174.83 512.36 L175.49 512.31 L176.15 512.26 L176.81 512.21 L177.47 512.16 L178.13 512.11 L178.79 512.05 L179.45 512.00 L180.12 511.94 L180.78 511.88 L181.44 511.82 L182.10 511.75 L182.76 511.69 L183.42 511.62 L184.08 511.55 L184.74 511.48 L185.40 511.41 L186.06 511.34 L186.73 511.26 L187.39 511.19 L188.05 511.10 L188.71 511.02 L189.37 510.94 L190.03 510.85 L190.69 510.76 L191.35 510.67 L192.01 510.58 L192.68 510.48 L193.34 510.38 L194.00 510.28 L194.66 510.17 L195.32 510.07 L195.98 509.95 L196.64 509.84 L197.30 509.72 L197.96 509.60 L198.63 509.48 L199.29 509.35 L199.95 509.22 L200.61 509.09 L201.27 508.95 L201.93 508.81 L202.59 508.67 L203.25 508.52 L203.91 508.37 L204.58 508.21 L205.24 508.05 L205.90 507.88 L206.56 507.71 L207.22 507.54 L207.88 507.36 L208.54 507.18 L209.20 506.99 L209.86 506.79 L210.53 506.59 L211.19 506.39 L211.85 506.18 L212.51 505.96 L213.17 505.74 L213.83 505.51 L214.49 505.27 L215.15 505.03 L215.81 504.78 L216.47 504.52 L217.14 504.26 L217.80 503.99 L218.46 503.71 L219.12 503.43 L219.78 503.13 L220.44 502.83 L221.10 502.52 L221.76 502.20 L222.42 501.87 L223.09 501.53 L223.75 501.19 L224.41 500.83 L225.07 500.46 L225.73 500.08 L226.39 499.69 L227.05 499.29 L227.71 498.87 L228.37 498.45 L229.04 498.01 L229.70 497.56 L230.36 497.09 L231.02 496.61 L231.68 496.12 L232.34 495.61 L233.00 495.08 L233.66 494.54 L234.32 493.98 L234.99 493.40 L235.65 492.79 L236.31 492.14 L236.97 491.45 L237.63 490.71 L238.29 489.92 L238.95 489.09 L239.61 488.21 L240.27 487.28 L240.94 486.30 L241.60 485.27 L242.26 484.19 L242.92 483.05 L243.58 481.86 L244.24 480.61 L244.90 479.31 L245.56 477.95 L246.22 476.53 L246.88 475.05 L247.55 473.52 L248.21 471.93 L248.87 470.29 L249.53 468.59 L250.19 466.84 L250.85 465.04 L251.51 463.18 L252.17 461.29 L252.83 459.35 L253.50 457.37 L254.16 455.36 L254.82 453.32 L255.48 451.27 L256.14 449.20 L256.80 447.10 L257.46 444.92 L258.12 442.69 L258.78 440.38 L259.45 438.00 L260.11 435.56 L260.77 433.04 L261.43 430.46 L262.09 427.80 L262.75 425.07 L263.41 422.27 L264.07 419.40 L264.73 416.45 L265.40 413.43 L266.06 410.35 L266.72 407.19 L267.38 403.96 L268.04 400.67 L268.70 397.30 L269.36 393.87 L270.02 390.38 L270.68 386.82 L271.35 383.20 L272.01 379.52 L272.67 375.78 L273.33 371.98 L273.99 368.13 L274.65 364.24 L275.31 360.29 L275.97 356.30 L276.63 352.27 L277.29 348.20 L277.96 344.09 L278.62 339.96 L279.28 335.80 L279.94 331.61 L280.60 327.40 L281.26 323.18 L281.92 318.94 L282.58 314.69 L283.24 310.44 L283.91 306.19 L284.57 301.93 L285.23 297.68 L285.89 293.43 L286.55 289.19 L287.21 284.96 L287.87 280.74 L288.53 276.53 L289.19 272.34 L289.86 268.16 L290.52 263.99 L291.18 259.84 L291.84 255.71 L292.50 251.59 L293.16 247.50 L293.82 243.42 L294.48 239.38 L295.14 235.37 L295.81 231.39 L296.47 227.46 L297.13 223.60 L297.79 219.79 L298.45 216.08 L299.11 212.46 L299.77 208.95 L300.43 205.58 L301.09 202.36 L301.75 199.32 L302.42 196.47 L303.08 193.84 L303.74 191.45 L304.40 189.31 L305.06 187.44 L305.72 185.87 L306.38 184.59 L307.04 183.62 L307.70 182.97 L308.37 182.72 L309.03 183.00 L309.69 183.79 L310.35 185.04 L311.01 186.72 L311.67 188.76 L312.33 191.11 L312.99 193.73 L313.65 196.54 L314.32 199.51 L314.98 202.59 L315.64 205.75 L316.30 208.96 L316.96 212.19 L317.62 215.42 L318.28 218.64 L318.94 221.83 L319.60 224.99 L320.27 228.11 L320.93 231.19 L321.59 234.22 L322.25 237.22 L322.91 240.17 L323.57 243.09 L324.23 245.98 L324.89 248.84 L325.55 251.68 L326.22 254.50 L326.88 257.30 L327.54 260.10 L328.20 262.89 L328.86 265.68 L329.52 268.47 L330.18 271.27 L330.84 274.07 L331.50 276.88 L332.17 279.70 L332.83 282.53 L333.49 285.36 L334.15 288.20 L334.81 291.06 L335.47 293.91 L336.13 296.77 L336.79 299.64 L337.45 302.51 L338.11 305.38 L338.78 308.24 L339.44 311.11 L340.10 313.97 L340.76 316.82 L341.42 319.66 L342.08 322.49 L342.74 325.30 L343.40 328.11 L344.06 330.89 L344.73 333.66 L345.39 336.40 L346.05 339.13 L346.71 341.82 L347.37 344.50 L348.03 347.14 L348.69 349.76 L349.35 352.35 L350.01 354.91 L350.68 357.44 L351.34 359.93 L352.00 362.39 L352.66 364.81 L353.32 367.20 L353.98 369.55 L354.64 371.87 L355.30 374.14 L355.96 376.38 L356.63 378.58 L357.29 380.74 L357.95 382.86 L358.61 384.94 L359.27 386.99 L359.93 388.99 L360.59 390.95 L361.25 392.87 L361.91 394.76 L362.58 396.60 L363.24 398.41 L363.90 400.17 L364.56 401.90 L365.22 403.59 L365.88 405.24 L366.54 406.86 L367.20 408.44 L367.86 409.98 L368.52 411.49 L369.19 412.96 L369.85 414.39 L370.51 415.80 L371.17 417.17 L371.83 418.51 L372.49 419.81 L373.15 421.09 L373.81 422.33 L374.47 423.55 L375.14 424.74 L375.80 425.90 L376.46 427.03 L377.12 428.14 L377.78 429.22 L378.44 430.28 L379.10 431.31 L379.76 432.32 L380.42 433.31 L381.09 434.28 L381.75 435.23 L382.41 436.18 L383.07 437.11 L383.73 438.03 L384.39 438.94 L385.05 439.83 L385.71 440.71 L386.37 441.58 L387.04 442.44 L387.70 443.28 L388.36 444.10 L389.02 444.92 L389.68 445.72 L390.34 446.51 L391.00 447.29 L391.66 448.05 L392.32 448.80 L392.99 449.54 L393.65 450.27 L394.31 450.98 L394.97 451.68 L395.63 452.37 L396.29 453.04 L396.95 453.70 L397.61 454.35 L398.27 454.98 L398.93 455.60 L399.60 456.20 L400.26 456.80 L400.92 457.38 L401.58 457.94 L402.24 458.50 L402.90 459.04 L403.56 459.57 L404.22 460.08 L404.88 460.59 L405.55 461.09 L406.21 461.57 L406.87 462.05 L407.53 462.53 L408.19 462.99 L408.85 463.45 L409.51 463.91 L410.17 464.36 L410.83 464.80 L411.50 465.24 L412.16 465.67 L412.82 466.10 L413.48 466.52 L414.14 466.94 L414.80 467.35 L415.46 467.76 L416.12 468.16 L416.78 468.56 L417.45 468.95 L418.11 469.35 L418.77 469.73 L419.43 470.11 L420.09 470.49 L420.75 470.87 L421.41 471.24 L422.07 471.61 L422.73 471.97 L423.40 472.33 L424.06 472.69 L424.72 473.04 L425.38 473.40 L426.04 473.74 L426.70 474.09 L427.36 474.43 L428.02 474.77 L428.68 475.11 L429.34 475.44 L430.01 475.77 L430.67 476.10 L431.33 476.43 L431.99 476.75 L432.65 477.07 L433.31 477.39 L433.97 477.71 L434.63 478.03 L435.29 478.34 L435.96 478.65 L436.62 478.96 L437.28 479.27 L437.94 479.57 L438.60 479.88 L439.26 480.18 L439.92 480.48 L440.58 480.78 L441.24 481.07 L441.91 481.37 L442.57 481.66 L443.23 481.96 L443.89 482.25 L444.55 482.54 L445.21 482.83 L445.87 483.11 L446.53 483.40 L447.19 483.68 L447.86 483.97 L448.52 484.25 L449.18 484.53 L449.84 484.81 L450.50 485.09 L451.16 485.37 L451.82 485.64 L452.48 485.92 L453.14 486.19 L453.81 486.47 L454.47 486.74 L455.13 487.01 L455.79 487.28 L456.45 487.55 L457.11 487.82 L457.77 488.09 L458.43 488.35 L459.09 488.61 L459.75 488.88 L460.42 489.14 L461.08 489.40 L461.74 489.66 L462.40 489.92 L463.06 490.17 L463.72 490.43 L464.38 490.68 L465.04 490.94 L465.70 491.19 L466.37 491.44 L467.03 491.69 L467.69 491.94 L468.35 492.18 L469.01 492.43 L469.67 492.67 L470.33 492.91 L470.99 493.15 L471.65 493.39 L472.32 493.63 L472.98 493.87 L473.64 494.10 L474.30 494.33 L474.96 494.57 L475.62 494.80 L476.28 495.03 L476.94 495.25 L477.60 495.48 L478.27 495.70 L478.93 495.93 L479.59 496.15 L480.25 496.37 L480.91 496.59 L481.57 496.80 L482.23 497.02 L482.89 497.23 L483.55 497.45 L484.22 497.66 L484.88 497.87 L485.54 498.07 L486.20 498.28 L486.86 498.48 L487.52 498.69 L488.18 498.89 L488.84 499.09 L489.50 499.29 L490.16 499.48 L490.83 499.68 L491.49 499.87 L492.15 500.06 L492.81 500.25 L493.47 500.44 L494.13 500.63 L494.79 500.81 L495.45 501.00 L496.11 501.18 L496.78 501.36 L497.44 501.54 L498.10 501.72 L498.76 501.89 L499.42 502.07 L500.08 502.24 L500.74 502.41 L501.40 502.58 L502.06 502.75 L502.73 502.92 L503.39 503.08 L504.05 503.25 L504.71 503.41 L505.37 503.57 L506.03 503.73 L506.69 503.89 L507.35 504.04 L508.01 504.20 L508.68 504.35 L509.34 504.50 L510.00 504.65 L510.66 504.80 L511.32 504.95 L511.98 505.10 L512.64 505.24 L513.30 505.38 L513.96 505.52 L514.62 505.66 L515.29 505.80 L515.95 505.94 L516.61 506.07 L517.27 506.21 L517.93 506.34 L518.59 506.47 L519.25 506.60 L519.91 506.73 L520.57 506.86 L521.24 506.98 L521.90 507.11 L522.56 507.23 L523.22 507.35 L523.88 507.47 L524.54 507.59 L525.20 507.71 L525.86 507.83 L526.52 507.94 L527.19 508.06 L527.85 508.17 L528.51 508.28 L529.17 508.39 L529.83 508.50 L530.49 508.61 L531.15 508.71 L531.81 508.82 L532.47 508.92 L533.14 509.03 L533.80 509.13 L534.46 509.23 L535.12 509.33 L535.78 509.43 L536.44 509.52 L537.10 509.62 L537.76 509.71 L538.42 509.81 L539.09 509.90 L539.75 509.99 L540.41 510.08 L541.07 510.17 L541.73 510.26 L542.39 510.34 L543.05 510.43 L543.71 510.51 L544.37 510.60 L545.04 510.68 L545.70 510.76 L546.36 510.84 L547.02 510.92 L547.68 511.00 L548.34 511.08 L549.00 511.15 L549.66 511.23 L550.32 511.31 L550.98 511.38 L551.65 511.45 L552.31 511.52 L552.97 511.59 L553.63 511.66 L554.29 511.73 L554.95 511.80 L555.61 511.87 L556.27 511.94 L556.93 512.00 L557.60 512.07 L558.26 512.13 L558.92 512.19 L559.58 512.26 L560.24 512.32 L560.90 512.38 L561.56 512.44 L562.22 512.50 L562.88 512.55 L563.55 512.61 L564.21 512.67 L564.87 512.72 L565.53 512.78 L566.19 512.83 L566.85 512.89 L567.51 512.94 L568.17 512.99 L568.83 513.04 L569.50 513.09 L570.16 513.14 L570.82 513.19 L571.48 513.24 L572.14 513.29 L572.80 513.34 L573.46 513.39 L574.12 513.43 L574.78 513.48 L575.45 513.52 L576.11 513.57 L576.77 513.61 L577.43 513.65 L578.09 513.69 L578.75 513.74 L579.41 513.78 L580.07 513.82 L580.73 513.86 L581.39 513.90 L582.06 513.94 L582.72 513.97 L583.38 514.01 L584.04 514.05 L584.70 514.09 L585.36 514.12 L586.02 514.16 L586.68 514.19 L587.34 514.23 L588.01 514.26 L588.67 514.30 L589.33 514.33 L589.99 514.36 L590.65 514.39 L591.31 514.43 L591.97 514.46 L592.63 514.49 L593.29 514.52 L593.96 514.55 L594.62 514.58 L595.28 514.61 L595.94 514.64 L596.60 514.66 L597.26 514.69 L597.92 514.72 L598.58 514.75 L599.24 514.77 L599.91 514.80 L600.57 514.82 L601.23 514.85 L601.89 514.87 L602.55 514.90 L603.21 514.92 L603.87 514.95 L604.53 514.97 L605.19 514.99 L605.86 515.02 L606.52 515.04 L607.18 515.06 L607.84 515.08 L608.50 515.10 L609.16 515.13 L609.82 515.15 L610.48 515.17 L611.14 515.19 L611.80 515.21 L612.47 515.23 L613.13 515.25 L613.79 515.27 L614.45 515.28 L615.11 515.30 L615.77 515.32 L616.43 515.34 L617.09 515.36 L617.75 515.37 L618.42 515.39 L619.08 515.41 L619.74 515.42 L620.40 515.44 L621.06 515.46 L621.72 515.47 L622.38 515.49 L623.04 515.50 L623.70 515.52 L624.37 515.53 L625.03 515.55 L625.69 515.56 L626.35 515.58 L627.01 515.59 L627.67 515.60 L628.33 515.62 L628.99 515.63 L629.65 515.64 L630.32 515.66 L630.98 515.67 L631.64 515.68 L632.30 515.69 L632.96 515.71 L633.62 515.72 L634.28 515.73 L634.94 515.74 L635.60 515.75 L636.27 515.76 L636.93 515.77 L637.59 515.78 L638.25 515.80 L638.91 515.81 L639.57 515.82 L640.23 515.83 L640.89 515.84 L641.55 515.85 L642.21 515.86 L642.88 515.86 L643.54 515.87 L644.20 515.88 L644.86 515.89 L645.52 515.90 L646.18 515.91 L646.84 515.92 L647.50 515.93 L648.16 515.94 L648.83 515.94 L649.49 515.95 L650.15 515.96 L650.81 515.97 L651.47 515.97 L652.13 515.98 L652.79 515.99 L653.45 516.00 L654.11 516.00 L654.78 516.01 L655.44 516.02 L656.10 516.02 L656.76 516.03 L657.42 516.04 L658.08 516.04 L658.74 516.05 L659.40 516.06 L660.06 516.06 L660.73 516.07 L661.39 516.08 L662.05 516.08 L662.71 516.09 L663.37 516.09 L664.03 516.10 L664.69 516.10 L665.35 516.11 L666.01 516.11 L666.68 516.12 L667.34 516.12 L668.00 516.13 L668.66 516.13 L669.32 516.14 L669.98 516.14 L670.64 516.15 L671.30 516.15 L671.96 516.16 L672.62 516.16 L673.29 516.17 L673.95 516.17 L674.61 516.17 L675.27 516.18 L675.93 516.18 L676.59 516.19 L677.25 516.19 L677.91 516.19 L678.57 516.20 L679.24 516.20 L679.90 516.21 L680.56 516.21 L681.22 516.21 L681.88 516.22 L682.54 516.22 L683.20 516.22 L683.86 516.23 L684.52 516.23 L685.19 516.23 L685.85 516.24 L686.51 516.24 L687.17 516.24 L687.83 516.25 L688.49 516.25 L689.15 516.25 L689.81 516.25 L690.47 516.26 L691.14 516.26 L691.80 516.26 L692.46 516.26 L693.12 516.27 L693.78 516.27 L694.44 516.27 L695.10 516.27 L695.76 516.28 L696.42 516.28 L697.09 516.28 L697.75 516.28 L698.41 516.29 L699.07 516.29 L699.73 516.29 L700.39 516.29 L701.05 516.29 L701.71 516.30 L702.37 516.30 L703.03 516.30 L703.70 516.30 L704.36 516.30 L705.02 516.31 L705.68 516.31 L706.34 516.31 L707.00 516.31 L707.66 516.31 L708.32 516.31 L708.98 516.32 L709.65 516.32 L710.31 516.32 L710.97 516.32 L711.63 516.32 L712.29 516.32 L712.95 516.33 L713.61 516.33 L714.27 516.33 L714.93 516.33 L715.60 516.33 L716.26 516.33 L716.92 516.33 L717.58 516.34 L718.24 516.34 L718.90 516.34 L719.56 516.34 L720.22 516.34 L720.88 516.34 L721.55 516.34 L722.21 516.34 L722.87 516.34 L723.53 516.35 L724.19 516.35 L724.85 516.35 L725.51 516.35 L726.17 516.35 L726.83 516.35 L727.50 516.35 L728.16 516.35 L728.82 516.35 L729.48 516.35 L730.14 516.36 L730.80 516.36 L731.46 516.36 L732.12 516.36 L732.78 516.36 L733.44 516.36 L734.11 516.36 L734.77 516.36 L735.43 516.36 L736.09 516.36 L736.75 516.36 L737.41 516.36 L738.07 516.37 L738.73 516.37 L739.39 516.37 L740.06 516.37 L740.72 516.37 L741.38 516.37 L742.04 516.37 L742.70 516.37" stroke="#EC7F1C"/>
<path d="M134.50 513.72 L135.16 513.70 L135.82 513.69 L136.48 513.68 L137.14 513.66 L137.81 513.65 L138.47 513.63 L139.13 513.62 L139.79 513.60 L140.45 513.58 L141.11 513.57 L141.77 513.55 L142.43 513.53 L143.09 513.51 L143.76 513.50 L144.42 513.48 L145.08 513.46 L145.74 513.44 L146.40 513.42 L147.06 513.40 L147.72 513.38 L148.38 513.36 L149.04 513.34 L149.71 513.31 L150.37 513.29 L151.03 513.27 L151.69 513.24 L152.35 513.22 L153.01 513.19 L153.67 513.17 L154.33 513.14 L154.99 513.11 L155.65 513.09 L156.32 513.06 L156.98 513.03 L157.64 513.00 L158.30 512.97 L158.96 512.94 L159.62 512.90 L160.28 512.87 L160.94 512.84 L161.60 512.80 L162.27 512.77 L162.93 512.73 L163.59 512.69 L164.25 512.65 L164.91 512.61 L165.57 512.57 L166.23 512.53 L166.89 512.49 L167.55 512.44 L168.22 512.40 L168.88 512.35 L169.54 512.31 L170.20 512.26 L170.86 512.21 L171.52 512.15 L172.18 512.10 L172.84 512.05 L173.50 511.99 L174.17 511.94 L174.83 511.88 L175.49 511.82 L176.15 511.75 L176.81 511.69 L177.47 511.63 L178.13 511.56 L178.79 511.49 L179.45 511.42 L180.12 511.35 L180.78 511.27 L181.44 511.20 L182.10 511.12 L182.76 511.04 L183.42 510.96 L184.08 510.87 L184.74 510.79 L185.40 510.70 L186.06 510.61 L186.73 510.51 L187.39 510.42 L188.05 510.32 L188.71 510.22 L189.37 510.11 L190.03 510.01 L190.69 509.90 L191.35 509.78 L192.01 509.67 L192.68 509.55 L193.34 509.43 L194.00 509.31 L194.66 509.18 L195.32 509.05 L195.98 508.91 L196.64 508.77 L197.30 508.63 L197.96 508.49 L198.63 508.34 L199.29 508.18 L199.95 508.03 L200.61 507.86 L201.27 507.70 L201.93 507.53 L202.59 507.35 L203.25 507.18 L203.91 506.99 L204.58 506.80 L205.24 506.61 L205.90 506.41 L206.56 506.21 L207.22 506.00 L207.88 505.78 L208.54 505.56 L209.20 505.33 L209.86 505.10 L210.53 504.86 L211.19 504.62 L211.85 504.36 L212.51 504.10 L213.17 503.84 L213.83 503.57 L214.49 503.29 L215.15 503.00 L215.81 502.70 L216.47 502.40 L217.14 502.09 L217.80 501.77 L218.46 501.44 L219.12 501.10 L219.78 500.75 L220.44 500.40 L221.10 500.03 L221.76 499.66 L222.42 499.27 L223.09 498.87 L223.75 498.46 L224.41 498.04 L225.07 497.61 L225.73 497.17 L226.39 496.71 L227.05 496.25 L227.71 495.76 L228.37 495.27 L229.04 494.76 L229.70 494.24 L230.36 493.70 L231.02 493.15 L231.68 492.58 L232.34 491.99 L233.00 491.39 L233.66 490.77 L234.32 490.13 L234.99 489.47 L235.65 488.79 L236.31 488.06 L236.97 487.30 L237.63 486.50 L238.29 485.65 L238.95 484.77 L239.61 483.84 L240.27 482.87 L240.94 481.85 L241.60 480.79 L242.26 479.68 L242.92 478.52 L243.58 477.30 L244.24 476.04 L244.90 474.73 L245.56 473.36 L246.22 471.94 L246.88 470.47 L247.55 468.94 L248.21 467.36 L248.87 465.72 L249.53 464.03 L250.19 462.30 L250.85 460.51 L251.51 458.67 L252.17 456.79 L252.83 454.87 L253.50 452.91 L254.16 450.92 L254.82 448.90 L255.48 446.86 L256.14 444.80 L256.80 442.71 L257.46 440.56 L258.12 438.35 L258.78 436.08 L259.45 433.74 L260.11 431.35 L260.77 428.90 L261.43 426.38 L262.09 423.81 L262.75 421.17 L263.41 418.47 L264.07 415.71 L264.73 412.89 L265.40 410.01 L266.06 407.08 L266.72 404.08 L267.38 401.02 L268.04 397.91 L268.70 394.75 L269.36 391.53 L270.02 388.25 L270.68 384.93 L271.35 381.56 L272.01 378.14 L272.67 374.67 L273.33 371.17 L273.99 367.62 L274.65 364.04 L275.31 360.42 L275.97 356.76 L276.63 353.08 L277.29 349.38 L277.96 345.65 L278.62 341.90 L279.28 338.13 L279.94 334.35 L280.60 330.56 L281.26 326.76 L281.92 322.96 L282.58 319.16 L283.24 315.37 L283.91 311.58 L284.57 307.80 L285.23 304.04 L285.89 300.29 L286.55 296.55 L287.21 292.84 L287.87 289.15 L288.53 285.49 L289.19 281.85 L289.86 278.24 L290.52 274.65 L291.18 271.10 L291.84 267.58 L292.50 264.09 L293.16 260.64 L293.82 257.23 L294.48 253.86 L295.14 250.54 L295.81 247.27 L296.47 244.05 L297.13 240.90 L297.79 237.83 L298.45 234.83 L299.11 231.93 L299.77 229.13 L300.43 226.44 L301.09 223.89 L301.75 221.48 L302.42 219.22 L303.08 217.14 L303.74 215.25 L304.40 213.55 L305.06 212.06 L305.72 210.78 L306.38 209.74 L307.04 208.93 L307.70 208.35 L308.37 208.10 L309.03 208.29 L309.69 208.89 L310.35 209.87 L311.01 211.20 L311.67 212.83 L312.33 214.72 L312.99 216.82 L313.65 219.09 L314.32 221.49 L314.98 223.99 L315.64 226.56 L316.30 229.17 L316.96 231.81 L317.62 234.46 L318.28 237.11 L318.94 239.76 L319.60 242.39 L320.27 245.00 L320.93 247.60 L321.59 250.18 L322.25 252.73 L322.91 255.28 L323.57 257.80 L324.23 260.32 L324.89 262.83 L325.55 265.33 L326.22 267.84 L326.88 270.34 L327.54 272.85 L328.20 275.36 L328.86 277.89 L329.52 280.42 L330.18 282.96 L330.84 285.52 L331.50 288.09 L332.17 290.67 L332.83 293.26 L333.49 295.87 L334.15 298.48 L334.81 301.11 L335.47 303.74 L336.13 306.38 L336.79 309.03 L337.45 311.68 L338.11 314.33 L338.78 316.98 L339.44 319.63 L340.10 322.28 L340.76 324.93 L341.42 327.56 L342.08 330.19 L342.74 332.81 L343.40 335.41 L344.06 338.00 L344.73 340.58 L345.39 343.14 L346.05 345.67 L346.71 348.19 L347.37 350.69 L348.03 353.16 L348.69 355.61 L349.35 358.04 L350.01 360.43 L350.68 362.80 L351.34 365.14 L352.00 367.45 L352.66 369.73 L353.32 371.98 L353.98 374.20 L354.64 376.38 L355.30 378.53 L355.96 380.65 L356.63 382.73 L357.29 384.78 L357.95 386.79 L358.61 388.77 L359.27 390.71 L359.93 392.62 L360.59 394.49 L361.25 396.33 L361.91 398.13 L362.58 399.89 L363.24 401.62 L363.90 403.32 L364.56 404.98 L365.22 406.61 L365.88 408.20 L366.54 409.76 L367.20 411.28 L367.86 412.78 L368.52 414.24 L369.19 415.67 L369.85 417.06 L370.51 418.43 L371.17 419.77 L371.83 421.08 L372.49 422.35 L373.15 423.61 L373.81 424.83 L374.47 426.02 L375.14 427.19 L375.80 428.34 L376.46 429.46 L377.12 430.55 L377.78 431.62 L378.44 432.67 L379.10 433.70 L379.76 434.70 L380.42 435.69 L381.09 436.66 L381.75 437.61 L382.41 438.54 L383.07 439.47 L383.73 440.37 L384.39 441.26 L385.05 442.14 L385.71 443.00 L386.37 443.85 L387.04 444.68 L387.70 445.49 L388.36 446.30 L389.02 447.09 L389.68 447.86 L390.34 448.62 L391.00 449.37 L391.66 450.10 L392.32 450.82 L392.99 451.53 L393.65 452.23 L394.31 452.91 L394.97 453.58 L395.63 454.24 L396.29 454.88 L396.95 455.51 L397.61 456.13 L398.27 456.74 L398.93 457.34 L399.60 457.92 L400.26 458.49 L400.92 459.05 L401.58 459.61 L402.24 460.15 L402.90 460.68 L403.56 461.20 L404.22 461.71 L404.88 462.22 L405.55 462.72 L406.21 463.21 L406.87 463.70 L407.53 464.19 L408.19 464.67 L408.85 465.14 L409.51 465.60 L410.17 466.06 L410.83 466.52 L411.50 466.97 L412.16 467.41 L412.82 467.85 L413.48 468.28 L414.14 468.71 L414.80 469.13 L415.46 469.55 L416.12 469.96 L416.78 470.37 L417.45 470.77 L418.11 471.17 L418.77 471.57 L419.43 471.96 L420.09 472.35 L420.75 472.73 L421.41 473.11 L422.07 473.48 L422.73 473.85 L423.40 474.22 L424.06 474.59 L424.72 474.95 L425.38 475.30 L426.04 475.66 L426.70 476.01 L427.36 476.35 L428.02 476.70 L428.68 477.04 L429.34 477.37 L430.01 477.71 L430.67 478.04 L431.33 478.37 L431.99 478.70 L432.65 479.02 L433.31 479.34 L433.97 479.66 L434.63 479.97 L435.29 480.29 L435.96 480.60 L436.62 480.91 L437.28 481.21 L437.94 481.52 L438.60 481.82 L439.26 482.12 L439.92 482.42 L440.58 482.71 L441.24 483.01 L441.91 483.30 L442.57 483.59 L443.23 483.88 L443.89 484.16 L444.55 484.45 L445.21 484.73 L445.87 485.01 L446.53 485.29 L447.19 485.57 L447.86 485.85 L448.52 486.12 L449.18 486.39 L449.84 486.66 L450.50 486.93 L451.16 487.20 L451.82 487.47 L452.48 487.74 L453.14 488.00 L453.81 488.26 L454.47 488.52 L455.13 488.78 L455.79 489.04 L456.45 489.30 L457.11 489.55 L457.77 489.81 L458.43 490.06 L459.09 490.31 L459.75 490.56 L460.42 490.81 L461.08 491.06 L461.74 491.30 L462.40 491.55 L463.06 491.79 L463.72 492.03 L464.38 492.27 L465.04 492.51 L465.70 492.75 L466.37 492.98 L467.03 493.22 L467.69 493.45 L468.35 493.68 L469.01 493.91 L469.67 494.14 L470.33 494.36 L470.99 494.59 L471.65 494.81 L472.32 495.03 L472.98 495.25 L473.64 495.47 L474.30 495.69 L474.96 495.91 L475.62 496.12 L476.28 496.33 L476.94 496.55 L477.60 496.76 L478.27 496.96 L478.93 497.17 L479.59 497.38 L480.25 497.58 L480.91 497.78 L481.57 497.98 L482.23 498.18 L482.89 498.38 L483.55 498.58 L484.22 498.77 L484.88 498.96 L485.54 499.16 L486.20 499.35 L486.86 499.54 L487.52 499.72 L488.18 499.91 L488.84 500.09 L489.50 500.28 L490.16 500.46 L490.83 500.64 L491.49 500.81 L492.15 500.99 L492.81 501.17 L493.47 501.34 L494.13 501.51 L494.79 501.68 L495.45 501.85 L496.11 502.02 L496.78 502.19 L497.44 502.35 L498.10 502.51 L498.76 502.68 L499.42 502.84 L500.08 503.00 L500.74 503.15 L501.40 503.31 L502.06 503.46 L502.73 503.62 L503.39 503.77 L504.05 503.92 L504.71 504.07 L505.37 504.22 L506.03 504.36 L506.69 504.51 L507.35 504.65 L508.01 504.79 L508.68 504.94 L509.34 505.08 L510.00 505.21 L510.66 505.35 L511.32 505.49 L511.98 505.62 L512.64 505.75 L513.30 505.88 L513.96 506.01 L514.62 506.14 L515.29 506.27 L515.95 506.40 L516.61 506.52 L517.27 506.65 L517.93 506.77 L518.59 506.89 L519.25 507.01 L519.91 507.13 L520.57 507.25 L521.24 507.36 L521.90 507.48 L522.56 507.59 L523.22 507.70 L523.88 507.81 L524.54 507.92 L525.20 508.03 L525.86 508.14 L526.52 508.25 L527.19 508.35 L527.85 508.46 L528.51 508.56 L529.17 508.66 L529.83 508.76 L530.49 508.86 L531.15 508.96 L531.81 509.06 L532.47 509.16 L533.14 509.25 L533.80 509.35 L534.46 509.44 L535.12 509.53 L535.78 509.62 L536.44 509.71 L537.10 509.80 L537.76 509.89 L538.42 509.98 L539.09 510.06 L539.75 510.15 L540.41 510.23 L541.07 510.32 L541.73 510.40 L542.39 510.48 L543.05 510.56 L543.71 510.64 L544.37 510.72 L545.04 510.80 L545.70 510.87 L546.36 510.95 L547.02 511.02 L547.68 511.10 L548.34 511.17 L549.00 511.24 L549.66 511.31 L550.32 511.38 L550.98 511.45 L551.65 511.52 L552.31 511.59 L552.97 511.66 L553.63 511.72 L554.29 511.79 L554.95 511.85 L555.61 511.92 L556.27 511.98 L556.93 512.04 L557.60 512.10 L558.26 512.16 L558.92 512.22 L559.58 512.28 L560.24 512.34 L560.90 512.40 L561.56 512.46 L562.22 512.51 L562.88 512.57 L563.55 512.62 L564.21 512.68 L564.87 512.73 L565.53 512.78 L566.19 512.84 L566.85 512.89 L567.51 512.94 L568.17 512.99 L568.83 513.04 L569.50 513.09 L570.16 513.13 L570.82 513.18 L571.48 513.23 L572.14 513.27 L572.80 513.32 L573.46 513.37 L574.12 513.41 L574.78 513.45 L575.45 513.50 L576.11 513.54 L576.77 513.58 L577.43 513.62 L578.09 513.66 L578.75 513.71 L579.41 513.75 L580.07 513.78 L580.73 513.82 L581.39 513.86 L582.06 513.90 L582.72 513.94 L583.38 513.97 L584.04 514.01 L584.70 514.05 L585.36 514.08 L586.02 514.12 L586.68 514.15 L587.34 514.19 L588.01 514.22 L588.67 514.25 L589.33 514.28 L589.99 514.32 L590.65 514.35 L591.31 514.38 L591.97 514.41 L592.63 514.44 L593.29 514.47 L593.96 514.50 L594.62 514.53 L595.28 514.56 L595.94 514.59 L596.60 514.61 L597.26 514.64 L597.92 514.67 L598.58 514.70 L599.24 514.72 L599.91 514.75 L600.57 514.77 L601.23 514.80 L601.89 514.82 L602.55 514.85 L603.21 514.87 L603.87 514.90 L604.53 514.92 L605.19 514.94 L605.86 514.97 L606.52 514.99 L607.18 515.01 L607.84 515.03 L608.50 515.06 L609.16 515.08 L609.82 515.10 L610.48 515.12 L611.14 515.14 L611.80 515.16 L612.47 515.18 L613.13 515.20 L613.79 515.22 L614.45 515.24 L615.11 515.25 L615.77 515.27 L616.43 515.29 L617.09 515.31 L617.75 515.33 L618.42 515.34 L619.08 515.36 L619.74 515.38 L620.40 515.39 L621.06 515.41 L621.72 515.43 L622.38 515.44 L623.04 515.46 L623.70 515.47 L624.37 515.49 L625.03 515.50 L625.69 515.52 L626.35 515.53 L627.01 515.55 L627.67 515.56 L628.33 515.58 L628.99 515.59 L629.65 515.60 L630.32 515.62 L630.98 515.63 L631.64 515.64 L632.30 515.65 L632.96 515.67 L633.62 515.68 L634.28 515.69 L634.94 515.70 L635.60 515.71 L636.27 515.73 L636.93 515.74 L637.59 515.75 L638.25 515.76 L638.91 515.77 L639.57 515.78 L640.23 515.79 L640.89 515.80 L641.55 515.81 L642.21 515.82 L642.88 515.83 L643.54 515.84 L644.20 515.85 L644.86 515.86 L645.52 515.87 L646.18 515.88 L646.84 515.89 L647.50 515.90 L648.16 515.90 L648.83 515.91 L649.49 515.92 L650.15 515.93 L650.81 515.94 L651.47 515.95 L652.13 515.95 L652.79 515.96 L653.45 515.97 L654.11 515.98 L654.78 515.98 L655.44 515.99 L656.10 516.00 L656.76 516.01 L657.42 516.01 L658.08 516.02 L658.74 516.03 L659.40 516.03 L660.06 516.04 L660.73 516.05 L661.39 516.05 L662.05 516.06 L662.71 516.06 L663.37 516.07 L664.03 516.08 L664.69 516.08 L665.35 516.09 L666.01 516.09 L666.68 516.10 L667.34 516.10 L668.00 516.11 L668.66 516.11 L669.32 516.12 L669.98 516.12 L670.64 516.13 L671.30 516.13 L671.96 516.14 L672.62 516.14 L673.29 516.15 L673.95 516.15 L674.61 516.16 L675.27 516.16 L675.93 516.17 L676.59 516.17 L677.25 516.18 L677.91 516.18 L678.57 516.18 L679.24 516.19 L679.90 516.19 L680.56 516.20 L681.22 516.20 L681.88 516.20 L682.54 516.21 L683.20 516.21 L683.86 516.21 L684.52 516.22 L685.19 516.22 L685.85 516.22 L686.51 516.23 L687.17 516.23 L687.83 516.23 L688.49 516.24 L689.15 516.24 L689.81 516.24 L690.47 516.25 L691.14 516.25 L691.80 516.25 L692.46 516.25 L693.12 516.26 L693.78 516.26 L694.44 516.26 L695.10 516.27 L695.76 516.27 L696.42 516.27 L697.09 516.27 L697.75 516.28 L698.41 516.28 L699.07 516.28 L699.73 516.28 L700.39 516.28 L701.05 516.29 L701.71 516.29 L702.37 516.29 L703.03 516.29 L703.70 516.30 L704.36 516.30 L705.02 516.30 L705.68 516.30 L706.34 516.30 L707.00 516.31 L707.66 516.31 L708.32 516.31 L708.98 516.31 L709.65 516.31 L710.31 516.31 L710.97 516.32 L711.63 516.32 L712.29 516.32 L712.95 516.32 L713.61 516.32 L714.27 516.32 L714.93 516.33 L715.60 516.33 L716.26 516.33 L716.92 516.33 L717.58 516.33 L718.24 516.33 L718.90 516.33 L719.56 516.34 L720.22 516.34 L720.88 516.34 L721.55 516.34 L722.21 516.34 L722.87 516.34 L723.53 516.34 L724.19 516.34 L724.85 516.34 L725.51 516.35 L726.17 516.35 L726.83 516.35 L727.50 516.35 L728.16 516.35 L728.82 516.35 L729.48 516.35 L730.14 516.35 L730.80 516.35 L731.46 516.36 L732.12 516.36 L732.78 516.36 L733.44 516.36 L734.11 516.36 L734.77 516.36 L735.43 516.36 L736.09 516.36 L736.75 516.36 L737.41 516.36 L738.07 516.36 L738.73 516.36 L739.39 516.36 L740.06 516.37 L740.72 516.37 L741.38 516.37 L742.04 516.37 L742.70 516.37" stroke="#6DC5D2"/>
<path d="M134.50 513.64 L135.16 513.62 L135.82 513.61 L136.48 513.59 L137.14 513.58 L137.81 513.56 L138.47 513.55 L139.13 513.53 L139.79 513.51 L140.45 513.50 L141.11 513.48 L141.77 513.46 L142.43 513.44 L143.09 513.42 L143.76 513.40 L144.42 513.38 L145.08 513.36 L145.74 513.34 L146.40 513.32 L147.06 513.30 L147.72 513.27 L148.38 513.25 L149.04 513.23 L149.71 513.20 L150.37 513.18 L151.03 513.15 L151.69 513.12 L152.35 513.10 L153.01 513.07 L153.67 513.04 L154.33 513.01 L154.99 512.98 L155.65 512.95 L156.32 512.91 L156.98 512.88 L157.64 512.85 L158.30 512.81 L158.96 512.78 L159.62 512.74 L160.28 512.70 L160.94 512.66 L161.60 512.62 L162.27 512.58 L162.93 512.54 L163.59 512.50 L164.25 512.45 L164.91 512.41 L165.57 512.36 L166.23 512.32 L166.89 512.27 L167.55 512.22 L168.22 512.17 L168.88 512.11 L169.54 512.06 L170.20 512.00 L170.86 511.95 L171.52 511.89 L172.18 511.83 L172.84 511.77 L173.50 511.70 L174.17 511.64 L174.83 511.57 L175.49 511.51 L176.15 511.44 L176.81 511.36 L177.47 511.29 L178.13 511.22 L178.79 511.14 L179.45 511.06 L180.12 510.98 L180.78 510.89 L181.44 510.81 L182.10 510.72 L182.76 510.63 L183.42 510.54 L184.08 510.45 L184.74 510.35 L185.40 510.25 L186.06 510.15 L186.73 510.04 L187.39 509.93 L188.05 509.82 L188.71 509.71 L189.37 509.60 L190.03 509.48 L190.69 509.35 L191.35 509.23 L192.01 509.10 L192.68 508.97 L193.34 508.83 L194.00 508.69 L194.66 508.55 L195.32 508.41 L195.98 508.26 L196.64 508.10 L197.30 507.95 L197.96 507.78 L198.63 507.62 L199.29 507.45 L199.95 507.27 L200.61 507.10 L201.27 506.91 L201.93 506.72 L202.59 506.53 L203.25 506.33 L203.91 506.13 L204.58 505.92 L205.24 505.70 L205.90 505.48 L206.56 505.26 L207.22 505.03 L207.88 504.79 L208.54 504.55 L209.20 504.30 L209.86 504.04 L210.53 503.78 L211.19 503.50 L211.85 503.23 L212.51 502.94 L213.17 502.65 L213.83 502.35 L214.49 502.04 L215.15 501.72 L215.81 501.40 L216.47 501.07 L217.14 500.72 L217.80 500.37 L218.46 500.01 L219.12 499.64 L219.78 499.26 L220.44 498.87 L221.10 498.47 L221.76 498.06 L222.42 497.64 L223.09 497.20 L223.75 496.75 L224.41 496.30 L225.07 495.83 L225.73 495.34 L226.39 494.85 L227.05 494.34 L227.71 493.81 L228.37 493.28 L229.04 492.72 L229.70 492.15 L230.36 491.57 L231.02 490.97 L231.68 490.36 L232.34 489.72 L233.00 489.07 L233.66 488.40 L234.32 487.71 L234.99 487.01 L235.65 486.27 L236.31 485.51 L236.97 484.71 L237.63 483.87 L238.29 483.00 L238.95 482.10 L239.61 481.15 L240.27 480.17 L240.94 479.15 L241.60 478.09 L242.26 476.98 L242.92 475.83 L243.58 474.64 L244.24 473.39 L244.90 472.10 L245.56 470.77 L246.22 469.38 L246.88 467.94 L247.55 466.46 L248.21 464.92 L248.87 463.33 L249.53 461.69 L250.19 460.00 L250.85 458.27 L251.51 456.48 L252.17 454.65 L252.83 452.78 L253.50 450.87 L254.16 448.93 L254.82 446.95 L255.48 444.95 L256.14 442.92 L256.80 440.86 L257.46 438.75 L258.12 436.58 L258.78 434.35 L259.45 432.07 L260.11 429.74 L260.77 427.34 L261.43 424.90 L262.09 422.40 L262.75 419.84 L263.41 417.23 L264.07 414.56 L264.73 411.84 L265.40 409.07 L266.06 406.25 L266.72 403.37 L267.38 400.44 L268.04 397.47 L268.70 394.44 L269.36 391.37 L270.02 388.26 L270.68 385.10 L271.35 381.90 L272.01 378.66 L272.67 375.38 L273.33 372.07 L273.99 368.72 L274.65 365.35 L275.31 361.94 L275.97 358.51 L276.63 355.06 L277.29 351.58 L277.96 348.09 L278.62 344.59 L279.28 341.07 L279.94 337.54 L280.60 334.02 L281.26 330.49 L281.92 326.96 L282.58 323.43 L283.24 319.92 L283.91 316.41 L284.57 312.92 L285.23 309.45 L285.89 305.99 L286.55 302.56 L287.21 299.15 L287.87 295.77 L288.53 292.42 L289.19 289.10 L289.86 285.81 L290.52 282.56 L291.18 279.34 L291.84 276.17 L292.50 273.03 L293.16 269.94 L293.82 266.89 L294.48 263.89 L295.14 260.94 L295.81 258.05 L296.47 255.22 L297.13 252.46 L297.79 249.77 L298.45 247.16 L299.11 244.64 L299.77 242.22 L300.43 239.91 L301.09 237.71 L301.75 235.64 L302.42 233.71 L303.08 231.92 L303.74 230.29 L304.40 228.83 L305.06 227.55 L305.72 226.44 L306.38 225.53 L307.04 224.80 L307.70 224.28 L308.37 224.03 L309.03 224.17 L309.69 224.66 L310.35 225.50 L311.01 226.63 L311.67 228.03 L312.33 229.66 L312.99 231.48 L313.65 233.45 L314.32 235.53 L314.98 237.71 L315.64 239.95 L316.30 242.24 L316.96 244.56 L317.62 246.89 L318.28 249.23 L318.94 251.58 L319.60 253.92 L320.27 256.25 L320.93 258.58 L321.59 260.90 L322.25 263.21 L322.91 265.52 L323.57 267.82 L324.23 270.13 L324.89 272.43 L325.55 274.73 L326.22 277.05 L326.88 279.36 L327.54 281.69 L328.20 284.03 L328.86 286.38 L329.52 288.75 L330.18 291.12 L330.84 293.52 L331.50 295.92 L332.17 298.34 L332.83 300.78 L333.49 303.22 L334.15 305.68 L334.81 308.15 L335.47 310.63 L336.13 313.12 L336.79 315.61 L337.45 318.11 L338.11 320.61 L338.78 323.11 L339.44 325.62 L340.10 328.12 L340.76 330.62 L341.42 333.11 L342.08 335.60 L342.74 338.07 L343.40 340.54 L344.06 343.00 L344.73 345.44 L345.39 347.87 L346.05 350.28 L346.71 352.67 L347.37 355.05 L348.03 357.40 L348.69 359.73 L349.35 362.04 L350.01 364.33 L350.68 366.59 L351.34 368.82 L352.00 371.03 L352.66 373.21 L353.32 375.37 L353.98 377.49 L354.64 379.58 L355.30 381.65 L355.96 383.68 L356.63 385.68 L357.29 387.65 L357.95 389.59 L358.61 391.49 L359.27 393.37 L359.93 395.21 L360.59 397.02 L361.25 398.79 L361.91 400.54 L362.58 402.25 L363.24 403.92 L363.90 405.57 L364.56 407.18 L365.22 408.76 L365.88 410.31 L366.54 411.83 L367.20 413.32 L367.86 414.78 L368.52 416.20 L369.19 417.60 L369.85 418.97 L370.51 420.31 L371.17 421.62 L371.83 422.90 L372.49 424.16 L373.15 425.39 L373.81 426.59 L374.47 427.77 L375.14 428.92 L375.80 430.05 L376.46 431.15 L377.12 432.23 L377.78 433.29 L378.44 434.33 L379.10 435.35 L379.76 436.34 L380.42 437.32 L381.09 438.27 L381.75 439.21 L382.41 440.14 L383.07 441.04 L383.73 441.93 L384.39 442.80 L385.05 443.66 L385.71 444.50 L386.37 445.32 L387.04 446.13 L387.70 446.92 L388.36 447.70 L389.02 448.46 L389.68 449.21 L390.34 449.95 L391.00 450.67 L391.66 451.38 L392.32 452.08 L392.99 452.76 L393.65 453.44 L394.31 454.10 L394.97 454.74 L395.63 455.38 L396.29 456.01 L396.95 456.62 L397.61 457.22 L398.27 457.82 L398.93 458.40 L399.60 458.97 L400.26 459.53 L400.92 460.09 L401.58 460.63 L402.24 461.17 L402.90 461.70 L403.56 462.22 L404.22 462.73 L404.88 463.24 L405.55 463.74 L406.21 464.24 L406.87 464.74 L407.53 465.23 L408.19 465.71 L408.85 466.19 L409.51 466.67 L410.17 467.13 L410.83 467.60 L411.50 468.05 L412.16 468.50 L412.82 468.95 L413.48 469.39 L414.14 469.82 L414.80 470.25 L415.46 470.67 L416.12 471.09 L416.78 471.51 L417.45 471.92 L418.11 472.32 L418.77 472.72 L419.43 473.12 L420.09 473.51 L420.75 473.90 L421.41 474.28 L422.07 474.66 L422.73 475.03 L423.40 475.41 L424.06 475.77 L424.72 476.14 L425.38 476.50 L426.04 476.85 L426.70 477.21 L427.36 477.56 L428.02 477.90 L428.68 478.25 L429.34 478.59 L430.01 478.92 L430.67 479.26 L431.33 479.59 L431.99 479.92 L432.65 480.24 L433.31 480.56 L433.97 480.88 L434.63 481.20 L435.29 481.51 L435.96 481.82 L436.62 482.13 L437.28 482.44 L437.94 482.74 L438.60 483.04 L439.26 483.34 L439.92 483.63 L440.58 483.93 L441.24 484.22 L441.91 484.51 L442.57 484.80 L443.23 485.08 L443.89 485.37 L444.55 485.65 L445.21 485.93 L445.87 486.20 L446.53 486.48 L447.19 486.75 L447.86 487.02 L448.52 487.29 L449.18 487.56 L449.84 487.83 L450.50 488.09 L451.16 488.35 L451.82 488.62 L452.48 488.87 L453.14 489.13 L453.81 489.39 L454.47 489.64 L455.13 489.90 L455.79 490.15 L456.45 490.40 L457.11 490.64 L457.77 490.89 L458.43 491.14 L459.09 491.38 L459.75 491.62 L460.42 491.86 L461.08 492.10 L461.74 492.34 L462.40 492.57 L463.06 492.80 L463.72 493.04 L464.38 493.27 L465.04 493.50 L465.70 493.72 L466.37 493.95 L467.03 494.17 L467.69 494.40 L468.35 494.62 L469.01 494.84 L469.67 495.06 L470.33 495.27 L470.99 495.49 L471.65 495.70 L472.32 495.91 L472.98 496.13 L473.64 496.33 L474.30 496.54 L474.96 496.75 L475.62 496.95 L476.28 497.15 L476.94 497.36 L477.60 497.56 L478.27 497.75 L478.93 497.95 L479.59 498.15 L480.25 498.34 L480.91 498.53 L481.57 498.72 L482.23 498.91 L482.89 499.10 L483.55 499.29 L484.22 499.47 L484.88 499.65 L485.54 499.84 L486.20 500.02 L486.86 500.20 L487.52 500.37 L488.18 500.55 L488.84 500.72 L489.50 500.90 L490.16 501.07 L490.83 501.24 L491.49 501.41 L492.15 501.57 L492.81 501.74 L493.47 501.90 L494.13 502.07 L494.79 502.23 L495.45 502.39 L496.11 502.55 L496.78 502.70 L497.44 502.86 L498.10 503.01 L498.76 503.17 L499.42 503.32 L500.08 503.47 L500.74 503.62 L501.40 503.77 L502.06 503.91 L502.73 504.06 L503.39 504.20 L504.05 504.34 L504.71 504.48 L505.37 504.62 L506.03 504.76 L506.69 504.90 L507.35 505.03 L508.01 505.17 L508.68 505.30 L509.34 505.43 L510.00 505.56 L510.66 505.69 L511.32 505.82 L511.98 505.95 L512.64 506.07 L513.30 506.20 L513.96 506.32 L514.62 506.44 L515.29 506.56 L515.95 506.68 L516.61 506.80 L517.27 506.92 L517.93 507.04 L518.59 507.15 L519.25 507.26 L519.91 507.38 L520.57 507.49 L521.24 507.60 L521.90 507.71 L522.56 507.81 L523.22 507.92 L523.88 508.03 L524.54 508.13 L525.20 508.24 L525.86 508.34 L526.52 508.44 L527.19 508.54 L527.85 508.64 L528.51 508.74 L529.17 508.83 L529.83 508.93 L530.49 509.02 L531.15 509.12 L531.81 509.21 L532.47 509.30 L533.14 509.39 L533.80 509.48 L534.46 509.57 L535.12 509.66 L535.78 509.75 L536.44 509.83 L537.10 509.92 L537.76 510.00 L538.42 510.09 L539.09 510.17 L539.75 510.25 L540.41 510.33 L541.07 510.41 L541.73 510.49 L542.39 510.57 L543.05 510.64 L543.71 510.72 L544.37 510.79 L545.04 510.87 L545.70 510.94 L546.36 511.02 L547.02 511.09 L547.68 511.16 L548.34 511.23 L549.00 511.30 L549.66 511.37 L550.32 511.43 L550.98 511.50 L551.65 511.57 L552.31 511.63 L552.97 511.70 L553.63 511.76 L554.29 511.82 L554.95 511.89 L555.61 511.95 L556.27 512.01 L556.93 512.07 L557.60 512.13 L558.26 512.19 L558.92 512.24 L559.58 512.30 L560.24 512.36 L560.90 512.41 L561.56 512.47 L562.22 512.52 L562.88 512.58 L563.55 512.63 L564.21 512.68 L564.87 512.73 L565.53 512.79 L566.19 512.84 L566.85 512.89 L567.51 512.94 L568.17 512.98 L568.83 513.03 L569.50 513.08 L570.16 513.13 L570.82 513.17 L571.48 513.22 L572.14 513.26 L572.80 513.31 L573.46 513.35 L574.12 513.40 L574.78 513.44 L575.45 513.48 L576.11 513.52 L576.77 513.56 L577.43 513.61 L578.09 513.65 L578.75 513.69 L579.41 513.72 L580.07 513.76 L580.73 513.80 L581.39 513.84 L582.06 513.88 L582.72 513.91 L583.38 513.95 L584.04 513.99 L584.70 514.02 L585.36 514.06 L586.02 514.09 L586.68 514.12 L587.34 514.16 L588.01 514.19 L588.67 514.22 L589.33 514.26 L589.99 514.29 L590.65 514.32 L591.31 514.35 L591.97 514.38 L592.63 514.41 L593.29 514.44 L593.96 514.47 L594.62 514.50 L595.28 514.53 L595.94 514.56 L596.60 514.58 L597.26 514.61 L597.92 514.64 L598.58 514.66 L599.24 514.69 L599.91 514.72 L600.57 514.74 L601.23 514.77 L601.89 514.79 L602.55 514.82 L603.21 514.84 L603.87 514.87 L604.53 514.89 L605.19 514.91 L605.86 514.94 L606.52 514.96 L607.18 514.98 L607.84 515.00 L608.50 515.02 L609.16 515.05 L609.82 515.07 L610.48 515.09 L611.14 515.11 L611.80 515.13 L612.47 515.15 L613.13 515.17 L613.79 515.19 L614.45 515.21 L615.11 515.22 L615.77 515.24 L616.43 515.26 L617.09 515.28 L617.75 515.30 L618.42 515.31 L619.08 515.33 L619.74 515.35 L620.40 515.37 L621.06 515.38 L621.72 515.40 L622.38 515.41 L623.04 515.43 L623.70 515.45 L624.37 515.46 L625.03 515.48 L625.69 515.49 L626.35 515.51 L627.01 515.52 L627.67 515.53 L628.33 515.55 L628.99 515.56 L629.65 515.58 L630.32 515.59 L630.98 515.60 L631.64 515.62 L632.30 515.63 L632.96 515.64 L633.62 515.65 L634.28 515.67 L634.94 515.68 L635.60 515.69 L636.27 515.70 L636.93 515.71 L637.59 515.73 L638.25 515.74 L638.91 515.75 L639.57 515.76 L640.23 515.77 L640.89 515.78 L641.55 515.79 L642.21 515.80 L642.88 515.81 L643.54 515.82 L644.20 515.83 L644.86 515.84 L645.52 515.85 L646.18 515.86 L646.84 515.87 L647.50 515.88 L648.16 515.89 L648.83 515.89 L649.49 515.90 L650.15 515.91 L650.81 515.92 L651.47 515.93 L652.13 515.94 L652.79 515.94 L653.45 515.95 L654.11 515.96 L654.78 515.97 L655.44 515.98 L656.10 515.98 L656.76 515.99 L657.42 516.00 L658.08 516.00 L658.74 516.01 L659.40 516.02 L660.06 516.02 L660.73 516.03 L661.39 516.04 L662.05 516.04 L662.71 516.05 L663.37 516.06 L664.03 516.06 L664.69 516.07 L665.35 516.07 L666.01 516.08 L666.68 516.09 L667.34 516.09 L668.00 516.10 L668.66 516.10 L669.32 516.11 L669.98 516.11 L670.64 516.12 L671.30 516.12 L671.96 516.13 L672.62 516.13 L673.29 516.14 L673.95 516.14 L674.61 516.15 L675.27 516.15 L675.93 516.16 L676.59 516.16 L677.25 516.17 L677.91 516.17 L678.57 516.17 L679.24 516.18 L679.90 516.18 L680.56 516.19 L681.22 516.19 L681.88 516.19 L682.54 516.20 L683.20 516.20 L683.86 516.21 L684.52 516.21 L685.19 516.21 L685.85 516.22 L686.51 516.22 L687.17 516.22 L687.83 516.23 L688.49 516.23 L689.15 516.23 L689.81 516.24 L690.47 516.24 L691.14 516.24 L691.80 516.25 L692.46 516.25 L693.12 516.25 L693.78 516.25 L694.44 516.26 L695.10 516.26 L695.76 516.26 L696.42 516.26 L697.09 516.27 L697.75 516.27 L698.41 516.27 L699.07 516.27 L699.73 516.28 L700.39 516.28 L701.05 516.28 L701.71 516.28 L702.37 516.29 L703.03 516.29 L703.70 516.29 L704.36 516.29 L705.02 516.29 L705.68 516.30 L706.34 516.30 L707.00 516.30 L707.66 516.30 L708.32 516.30 L708.98 516.31 L709.65 516.31 L710.31 516.31 L710.97 516.31 L711.63 516.31 L712.29 516.32 L712.95 516.32 L713.61 516.32 L714.27 516.32 L714.93 516.32 L715.60 516.32 L716.26 516.33 L716.92 516.33 L717.58 516.33 L718.24 516.33 L718.90 516.33 L719.56 516.33 L720.22 516.33 L720.88 516.34 L721.55 516.34 L722.21 516.34 L722.87 516.34 L723.53 516.34 L724.19 516.34 L724.85 516.34 L725.51 516.34 L726.17 516.35 L726.83 516.35 L727.50 516.35 L728.16 516.35 L728.82 516.35 L729.48 516.35 L730.14 516.35 L730.80 516.35 L731.46 516.35 L732.12 516.35 L732.78 516.36 L733.44 516.36 L734.11 516.36 L734.77 516.36 L735.43 516.36 L736.09 516.36 L736.75 516.36 L737.41 516.36 L738.07 516.36 L738.73 516.36 L739.39 516.36 L740.06 516.36 L740.72 516.37 L741.38 516.37 L742.04 516.37 L742.70 516.37" stroke="#A8519D"/>
<path d="M134.50 513.54 L135.16 513.53 L135.82 513.52 L136.48 513.50 L137.14 513.49 L137.81 513.47 L138.47 513.45 L139.13 513.44 L139.79 513.42 L140.45 513.40 L141.11 513.38 L141.77 513.36 L142.43 513.34 L143.09 513.32 L143.76 513.30 L144.42 513.28 L145.08 513.26 L145.74 513.23 L146.40 513.21 L147.06 513.18 L147.72 513.16 L148.38 513.13 L149.04 513.10 L149.71 513.08 L150.37 513.05 L151.03 513.02 L151.69 512.99 L152.35 512.96 L153.01 512.93 L153.67 512.89 L154.33 512.86 L154.99 512.82 L155.65 512.79 L156.32 512.75 L156.98 512.71 L157.64 512.68 L158.30 512.64 L158.96 512.60 L159.62 512.55 L160.28 512.51 L160.94 512.47 L161.60 512.42 L162.27 512.38 L162.93 512.33 L163.59 512.28 L164.25 512.23 L164.91 512.18 L165.57 512.13 L166.23 512.07 L166.89 512.02 L167.55 511.96 L168.22 511.90 L168.88 511.84 L169.54 511.78 L170.20 511.72 L170.86 511.65 L171.52 511.59 L172.18 511.52 L172.84 511.45 L173.50 511.38 L174.17 511.31 L174.83 511.23 L175.49 511.15 L176.15 511.08 L176.81 511.00 L177.47 510.91 L178.13 510.83 L178.79 510.74 L179.45 510.65 L180.12 510.56 L180.78 510.47 L181.44 510.37 L182.10 510.27 L182.76 510.17 L183.42 510.07 L184.08 509.96 L184.74 509.85 L185.40 509.74 L186.06 509.63 L186.73 509.51 L187.39 509.39 L188.05 509.27 L188.71 509.14 L189.37 509.01 L190.03 508.88 L190.69 508.74 L191.35 508.60 L192.01 508.46 L192.68 508.31 L193.34 508.16 L194.00 508.01 L194.66 507.85 L195.32 507.68 L195.98 507.52 L196.64 507.35 L197.30 507.17 L197.96 506.99 L198.63 506.81 L199.29 506.62 L199.95 506.42 L200.61 506.23 L201.27 506.02 L201.93 505.81 L202.59 505.60 L203.25 505.38 L203.91 505.15 L204.58 504.92 L205.24 504.68 L205.90 504.44 L206.56 504.19 L207.22 503.93 L207.88 503.67 L208.54 503.40 L209.20 503.12 L209.86 502.84 L210.53 502.55 L211.19 502.25 L211.85 501.94 L212.51 501.63 L213.17 501.30 L213.83 500.97 L214.49 500.63 L215.15 500.28 L215.81 499.93 L216.47 499.56 L217.14 499.18 L217.80 498.80 L218.46 498.40 L219.12 497.99 L219.78 497.57 L220.44 497.14 L221.10 496.70 L221.76 496.25 L222.42 495.79 L223.09 495.31 L223.75 494.82 L224.41 494.32 L225.07 493.81 L225.73 493.28 L226.39 492.74 L227.05 492.18 L227.71 491.61 L228.37 491.02 L229.04 490.42 L229.70 489.80 L230.36 489.17 L231.02 488.51 L231.68 487.84 L232.34 487.16 L233.00 486.45 L233.66 485.73 L234.32 484.98 L234.99 484.22 L235.65 483.43 L236.31 482.62 L236.97 481.78 L237.63 480.92 L238.29 480.03 L238.95 479.11 L239.61 478.17 L240.27 477.19 L240.94 476.18 L241.60 475.14 L242.26 474.06 L242.92 472.94 L243.58 471.79 L244.24 470.60 L244.90 469.37 L245.56 468.10 L246.22 466.78 L246.88 465.42 L247.55 464.02 L248.21 462.57 L248.87 461.07 L249.53 459.52 L250.19 457.93 L250.85 456.29 L251.51 454.60 L252.17 452.87 L252.83 451.09 L253.50 449.27 L254.16 447.41 L254.82 445.51 L255.48 443.58 L256.14 441.61 L256.80 439.60 L257.46 437.55 L258.12 435.44 L258.78 433.29 L259.45 431.09 L260.11 428.83 L260.77 426.53 L261.43 424.18 L262.09 421.79 L262.75 419.34 L263.41 416.85 L264.07 414.31 L264.73 411.72 L265.40 409.09 L266.06 406.41 L266.72 403.69 L267.38 400.92 L268.04 398.12 L268.70 395.27 L269.36 392.39 L270.02 389.47 L270.68 386.51 L271.35 383.52 L272.01 380.50 L272.67 377.44 L273.33 374.36 L273.99 371.25 L274.65 368.12 L275.31 364.97 L275.97 361.79 L276.63 358.60 L277.29 355.40 L277.96 352.19 L278.62 348.96 L279.28 345.73 L279.94 342.50 L280.60 339.27 L281.26 336.04 L281.92 332.82 L282.58 329.61 L283.24 326.40 L283.91 323.22 L284.57 320.05 L285.23 316.89 L285.89 313.77 L286.55 310.66 L287.21 307.59 L287.87 304.54 L288.53 301.53 L289.19 298.55 L289.86 295.60 L290.52 292.69 L291.18 289.83 L291.84 287.01 L292.50 284.23 L293.16 281.50 L293.82 278.81 L294.48 276.18 L295.14 273.61 L295.81 271.10 L296.47 268.64 L297.13 266.26 L297.79 263.95 L298.45 261.72 L299.11 259.57 L299.77 257.51 L300.43 255.55 L301.09 253.69 L301.75 251.94 L302.42 250.31 L303.08 248.81 L303.74 247.44 L304.40 246.20 L305.06 245.11 L305.72 244.17 L306.38 243.38 L307.04 242.75 L307.70 242.27 L308.37 242.03 L309.03 242.12 L309.69 242.52 L310.35 243.21 L311.01 244.16 L311.67 245.35 L312.33 246.72 L312.99 248.26 L313.65 249.94 L314.32 251.72 L314.98 253.59 L315.64 255.51 L316.30 257.49 L316.96 259.49 L317.62 261.52 L318.28 263.56 L318.94 265.61 L319.60 267.66 L320.27 269.72 L320.93 271.77 L321.59 273.83 L322.25 275.89 L322.91 277.96 L323.57 280.03 L324.23 282.10 L324.89 284.18 L325.55 286.27 L326.22 288.36 L326.88 290.47 L327.54 292.60 L328.20 294.73 L328.86 296.88 L329.52 299.05 L330.18 301.23 L330.84 303.43 L331.50 305.64 L332.17 307.86 L332.83 310.10 L333.49 312.36 L334.15 314.62 L334.81 316.90 L335.47 319.19 L336.13 321.49 L336.79 323.79 L337.45 326.10 L338.11 328.42 L338.78 330.73 L339.44 333.05 L340.10 335.37 L340.76 337.69 L341.42 340.01 L342.08 342.32 L342.74 344.62 L343.40 346.92 L344.06 349.21 L344.73 351.49 L345.39 353.75 L346.05 356.01 L346.71 358.25 L347.37 360.47 L348.03 362.67 L348.69 364.86 L349.35 367.03 L350.01 369.18 L350.68 371.30 L351.34 373.41 L352.00 375.49 L352.66 377.55 L353.32 379.58 L353.98 381.59 L354.64 383.57 L355.30 385.52 L355.96 387.45 L356.63 389.35 L357.29 391.22 L357.95 393.07 L358.61 394.88 L359.27 396.67 L359.93 398.43 L360.59 400.15 L361.25 401.85 L361.91 403.52 L362.58 405.16 L363.24 406.77 L363.90 408.36 L364.56 409.91 L365.22 411.43 L365.88 412.93 L366.54 414.39 L367.20 415.83 L367.86 417.24 L368.52 418.62 L369.19 419.97 L369.85 421.30 L370.51 422.60 L371.17 423.88 L371.83 425.13 L372.49 426.35 L373.15 427.55 L373.81 428.72 L374.47 429.87 L375.14 431.00 L375.80 432.10 L376.46 433.18 L377.12 434.24 L377.78 435.28 L378.44 436.29 L379.10 437.29 L379.76 438.27 L380.42 439.23 L381.09 440.17 L381.75 441.08 L382.41 441.98 L383.07 442.86 L383.73 443.72 L384.39 444.57 L385.05 445.39 L385.71 446.20 L386.37 446.99 L387.04 447.76 L387.70 448.52 L388.36 449.27 L389.02 450.00 L389.68 450.72 L390.34 451.42 L391.00 452.11 L391.66 452.79 L392.32 453.46 L392.99 454.11 L393.65 454.76 L394.31 455.39 L394.97 456.02 L395.63 456.63 L396.29 457.24 L396.95 457.83 L397.61 458.42 L398.27 459.00 L398.93 459.57 L399.60 460.13 L400.26 460.68 L400.92 461.23 L401.58 461.77 L402.24 462.31 L402.90 462.83 L403.56 463.36 L404.22 463.87 L404.88 464.39 L405.55 464.90 L406.21 465.40 L406.87 465.91 L407.53 466.41 L408.19 466.90 L408.85 467.39 L409.51 467.87 L410.17 468.34 L410.83 468.81 L411.50 469.28 L412.16 469.74 L412.82 470.19 L413.48 470.63 L414.14 471.08 L414.80 471.51 L415.46 471.94 L416.12 472.37 L416.78 472.79 L417.45 473.21 L418.11 473.62 L418.77 474.02 L419.43 474.43 L420.09 474.82 L420.75 475.22 L421.41 475.61 L422.07 475.99 L422.73 476.37 L423.40 476.75 L424.06 477.12 L424.72 477.49 L425.38 477.85 L426.04 478.21 L426.70 478.57 L427.36 478.92 L428.02 479.27 L428.68 479.62 L429.34 479.96 L430.01 480.30 L430.67 480.63 L431.33 480.96 L431.99 481.29 L432.65 481.62 L433.31 481.94 L433.97 482.26 L434.63 482.58 L435.29 482.89 L435.96 483.20 L436.62 483.51 L437.28 483.82 L437.94 484.12 L438.60 484.42 L439.26 484.72 L439.92 485.01 L440.58 485.30 L441.24 485.59 L441.91 485.88 L442.57 486.16 L443.23 486.44 L443.89 486.72 L444.55 487.00 L445.21 487.28 L445.87 487.55 L446.53 487.82 L447.19 488.09 L447.86 488.35 L448.52 488.62 L449.18 488.88 L449.84 489.14 L450.50 489.40 L451.16 489.66 L451.82 489.91 L452.48 490.16 L453.14 490.41 L453.81 490.66 L454.47 490.91 L455.13 491.15 L455.79 491.39 L456.45 491.64 L457.11 491.88 L457.77 492.11 L458.43 492.35 L459.09 492.58 L459.75 492.81 L460.42 493.05 L461.08 493.27 L461.74 493.50 L462.40 493.73 L463.06 493.95 L463.72 494.17 L464.38 494.39 L465.04 494.61 L465.70 494.83 L466.37 495.04 L467.03 495.26 L467.69 495.47 L468.35 495.68 L469.01 495.89 L469.67 496.10 L470.33 496.30 L470.99 496.51 L471.65 496.71 L472.32 496.91 L472.98 497.11 L473.64 497.31 L474.30 497.50 L474.96 497.70 L475.62 497.89 L476.28 498.08 L476.94 498.27 L477.60 498.46 L478.27 498.65 L478.93 498.83 L479.59 499.02 L480.25 499.20 L480.91 499.38 L481.57 499.56 L482.23 499.74 L482.89 499.91 L483.55 500.09 L484.22 500.26 L484.88 500.43 L485.54 500.60 L486.20 500.77 L486.86 500.94 L487.52 501.11 L488.18 501.27 L488.84 501.44 L489.50 501.60 L490.16 501.76 L490.83 501.92 L491.49 502.08 L492.15 502.23 L492.81 502.39 L493.47 502.54 L494.13 502.69 L494.79 502.84 L495.45 502.99 L496.11 503.14 L496.78 503.29 L497.44 503.43 L498.10 503.58 L498.76 503.72 L499.42 503.86 L500.08 504.00 L500.74 504.14 L501.40 504.28 L502.06 504.42 L502.73 504.55 L503.39 504.69 L504.05 504.82 L504.71 504.95 L505.37 505.08 L506.03 505.21 L506.69 505.34 L507.35 505.47 L508.01 505.59 L508.68 505.72 L509.34 505.84 L510.00 505.96 L510.66 506.08 L511.32 506.20 L511.98 506.32 L512.64 506.44 L513.30 506.55 L513.96 506.67 L514.62 506.78 L515.29 506.90 L515.95 507.01 L516.61 507.12 L517.27 507.23 L517.93 507.34 L518.59 507.45 L519.25 507.55 L519.91 507.66 L520.57 507.76 L521.24 507.86 L521.90 507.97 L522.56 508.07 L523.22 508.17 L523.88 508.27 L524.54 508.37 L525.20 508.46 L525.86 508.56 L526.52 508.65 L527.19 508.75 L527.85 508.84 L528.51 508.93 L529.17 509.03 L529.83 509.12 L530.49 509.21 L531.15 509.29 L531.81 509.38 L532.47 509.47 L533.14 509.55 L533.80 509.64 L534.46 509.72 L535.12 509.81 L535.78 509.89 L536.44 509.97 L537.10 510.05 L537.76 510.13 L538.42 510.21 L539.09 510.29 L539.75 510.36 L540.41 510.44 L541.07 510.52 L541.73 510.59 L542.39 510.66 L543.05 510.74 L543.71 510.81 L544.37 510.88 L545.04 510.95 L545.70 511.02 L546.36 511.09 L547.02 511.16 L547.68 511.23 L548.34 511.29 L549.00 511.36 L549.66 511.42 L550.32 511.49 L550.98 511.55 L551.65 511.62 L552.31 511.68 L552.97 511.74 L553.63 511.80 L554.29 511.86 L554.95 511.92 L555.61 511.98 L556.27 512.04 L556.93 512.10 L557.60 512.15 L558.26 512.21 L558.92 512.27 L559.58 512.32 L560.24 512.37 L560.90 512.43 L561.56 512.48 L562.22 512.53 L562.88 512.59 L563.55 512.64 L564.21 512.69 L564.87 512.74 L565.53 512.79 L566.19 512.84 L566.85 512.89 L567.51 512.93 L568.17 512.98 L568.83 513.03 L569.50 513.07 L570.16 513.12 L570.82 513.16 L571.48 513.21 L572.14 513.25 L572.80 513.30 L573.46 513.34 L574.12 513.38 L574.78 513.42 L575.45 513.46 L576.11 513.51 L576.77 513.55 L577.43 513.59 L578.09 513.62 L578.75 513.66 L579.41 513.70 L580.07 513.74 L580.73 513.78 L581.39 513.81 L582.06 513.85 L582.72 513.89 L583.38 513.92 L584.04 513.96 L584.70 513.99 L585.36 514.03 L586.02 514.06 L586.68 514.09 L587.34 514.13 L588.01 514.16 L588.67 514.19 L589.33 514.22 L589.99 514.26 L590.65 514.29 L591.31 514.32 L591.97 514.35 L592.63 514.38 L593.29 514.41 L593.96 514.44 L594.62 514.46 L595.28 514.49 L595.94 514.52 L596.60 514.55 L597.26 514.58 L597.92 514.60 L598.58 514.63 L599.24 514.66 L599.91 514.68 L600.57 514.71 L601.23 514.73 L601.89 514.76 L602.55 514.78 L603.21 514.81 L603.87 514.83 L604.53 514.85 L605.19 514.88 L605.86 514.90 L606.52 514.92 L607.18 514.94 L607.84 514.97 L608.50 514.99 L609.16 515.01 L609.82 515.03 L610.48 515.05 L611.14 515.07 L611.80 515.09 L612.47 515.11 L613.13 515.13 L613.79 515.15 L614.45 515.17 L615.11 515.19 L615.77 515.21 L616.43 515.23 L617.09 515.25 L617.75 515.26 L618.42 515.28 L619.08 515.30 L619.74 515.32 L620.40 515.33 L621.06 515.35 L621.72 515.37 L622.38 515.38 L623.04 515.40 L623.70 515.41 L624.37 515.43 L625.03 515.45 L625.69 515.46 L626.35 515.48 L627.01 515.49 L627.67 515.50 L628.33 515.52 L628.99 515.53 L629.65 515.55 L630.32 515.56 L630.98 515.57 L631.64 515.59 L632.30 515.60 L632.96 515.61 L633.62 515.63 L634.28 515.64 L634.94 515.65 L635.60 515.66 L636.27 515.68 L636.93 515.69 L637.59 515.70 L638.25 515.71 L638.91 515.72 L639.57 515.73 L640.23 515.74 L640.89 515.76 L641.55 515.77 L642.21 515.78 L642.88 515.79 L643.54 515.80 L644.20 515.81 L644.86 515.82 L645.52 515.83 L646.18 515.84 L646.84 515.85 L647.50 515.86 L648.16 515.86 L648.83 515.87 L649.49 515.88 L650.15 515.89 L650.81 515.90 L651.47 515.91 L652.13 515.92 L652.79 515.92 L653.45 515.93 L654.11 515.94 L654.78 515.95 L655.44 515.96 L656.10 515.96 L656.76 515.97 L657.42 515.98 L658.08 515.99 L658.74 515.99 L659.40 516.00 L660.06 516.01 L660.73 516.01 L661.39 516.02 L662.05 516.03 L662.71 516.03 L663.37 516.04 L664.03 516.05 L664.69 516.05 L665.35 516.06 L666.01 516.07 L666.68 516.07 L667.34 516.08 L668.00 516.08 L668.66 516.09 L669.32 516.09 L669.98 516.10 L670.64 516.11 L671.30 516.11 L671.96 516.12 L672.62 516.12 L673.29 516.13 L673.95 516.13 L674.61 516.14 L675.27 516.14 L675.93 516.15 L676.59 516.15 L677.25 516.15 L677.91 516.16 L678.57 516.16 L679.24 516.17 L679.90 516.17 L680.56 516.18 L681.22 516.18 L681.88 516.18 L682.54 516.19 L683.20 516.19 L683.86 516.20 L684.52 516.20 L685.19 516.20 L685.85 516.21 L686.51 516.21 L687.17 516.21 L687.83 516.22 L688.49 516.22 L689.15 516.22 L689.81 516.23 L690.47 516.23 L691.14 516.23 L691.80 516.24 L692.46 516.24 L693.12 516.24 L693.78 516.25 L694.44 516.25 L695.10 516.25 L695.76 516.26 L696.42 516.26 L697.09 516.26 L697.75 516.26 L698.41 516.27 L699.07 516.27 L699.73 516.27 L700.39 516.27 L701.05 516.28 L701.71 516.28 L702.37 516.28 L703.03 516.28 L703.70 516.29 L704.36 516.29 L705.02 516.29 L705.68 516.29 L706.34 516.29 L707.00 516.30 L707.66 516.30 L708.32 516.30 L708.98 516.30 L709.65 516.30 L710.31 516.31 L710.97 516.31 L711.63 516.31 L712.29 516.31 L712.95 516.31 L713.61 516.32 L714.27 516.32 L714.93 516.32 L715.60 516.32 L716.26 516.32 L716.92 516.32 L717.58 516.33 L718.24 516.33 L718.90 516.33 L719.56 516.33 L720.22 516.33 L720.88 516.33 L721.55 516.33 L722.21 516.34 L722.87 516.34 L723.53 516.34 L724.19 516.34 L724.85 516.34 L725.51 516.34 L726.17 516.34 L726.83 516.34 L727.50 516.35 L728.16 516.35 L728.82 516.35 L729.48 516.35 L730.14 516.35 L730.80 516.35 L731.46 516.35 L732.12 516.35 L732.78 516.35 L733.44 516.35 L734.11 516.36 L734.77 516.36 L735.43 516.36 L736.09 516.36 L736.75 516.36 L737.41 516.36 L738.07 516.36 L738.73 516.36 L739.39 516.36 L740.06 516.36 L740.72 516.36 L741.38 516.37 L742.04 516.37 L742.70 516.37" stroke="#7F171C"/>
<path d="M134.50 513.46 L135.16 513.45 L135.82 513.43 L136.48 513.42 L137.14 513.40 L137.81 513.39 L138.47 513.37 L139.13 513.35 L139.79 513.33 L140.45 513.31 L141.11 513.29 L141.77 513.27 L142.43 513.25 L143.09 513.23 L143.76 513.21 L144.42 513.18 L145.08 513.16 L145.74 513.13 L146.40 513.11 L147.06 513.08 L147.72 513.05 L148.38 513.02 L149.04 512.99 L149.71 512.96 L150.37 512.93 L151.03 512.90 L151.69 512.86 L152.35 512.83 L153.01 512.79 L153.67 512.76 L154.33 512.72 L154.99 512.68 L155.65 512.64 L156.32 512.60 L156.98 512.56 L157.64 512.52 L158.30 512.47 L158.96 512.43 L159.62 512.38 L160.28 512.34 L160.94 512.29 L161.60 512.24 L162.27 512.19 L162.93 512.13 L163.59 512.08 L164.25 512.02 L164.91 511.97 L165.57 511.91 L166.23 511.85 L166.89 511.79 L167.55 511.72 L168.22 511.66 L168.88 511.59 L169.54 511.53 L170.20 511.46 L170.86 511.38 L171.52 511.31 L172.18 511.24 L172.84 511.16 L173.50 511.08 L174.17 511.00 L174.83 510.92 L175.49 510.83 L176.15 510.75 L176.81 510.66 L177.47 510.57 L178.13 510.47 L178.79 510.38 L179.45 510.28 L180.12 510.18 L180.78 510.07 L181.44 509.97 L182.10 509.86 L182.76 509.75 L183.42 509.63 L184.08 509.52 L184.74 509.40 L185.40 509.28 L186.06 509.15 L186.73 509.02 L187.39 508.89 L188.05 508.75 L188.71 508.62 L189.37 508.47 L190.03 508.33 L190.69 508.18 L191.35 508.03 L192.01 507.87 L192.68 507.71 L193.34 507.54 L194.00 507.37 L194.66 507.20 L195.32 507.02 L195.98 506.84 L196.64 506.65 L197.30 506.46 L197.96 506.26 L198.63 506.06 L199.29 505.86 L199.95 505.65 L200.61 505.43 L201.27 505.21 L201.93 504.98 L202.59 504.74 L203.25 504.50 L203.91 504.26 L204.58 504.01 L205.24 503.75 L205.90 503.48 L206.56 503.21 L207.22 502.93 L207.88 502.64 L208.54 502.35 L209.20 502.05 L209.86 501.74 L210.53 501.42 L211.19 501.10 L211.85 500.76 L212.51 500.42 L213.17 500.07 L213.83 499.71 L214.49 499.34 L215.15 498.96 L215.81 498.58 L216.47 498.18 L217.14 497.77 L217.80 497.35 L218.46 496.92 L219.12 496.48 L219.78 496.03 L220.44 495.56 L221.10 495.09 L221.76 494.60 L222.42 494.10 L223.09 493.58 L223.75 493.05 L224.41 492.51 L225.07 491.96 L225.73 491.39 L226.39 490.80 L227.05 490.20 L227.71 489.59 L228.37 488.96 L229.04 488.31 L229.70 487.64 L230.36 486.96 L231.02 486.26 L231.68 485.54 L232.34 484.81 L233.00 484.05 L233.66 483.28 L234.32 482.48 L234.99 481.66 L235.65 480.83 L236.31 479.98 L236.97 479.11 L237.63 478.23 L238.29 477.33 L238.95 476.41 L239.61 475.48 L240.27 474.52 L240.94 473.54 L241.60 472.53 L242.26 471.50 L242.92 470.45 L243.58 469.36 L244.24 468.24 L244.90 467.10 L245.56 465.91 L246.22 464.69 L246.88 463.44 L247.55 462.14 L248.21 460.80 L248.87 459.42 L249.53 458.00 L250.19 456.53 L250.85 455.01 L251.51 453.45 L252.17 451.84 L252.83 450.18 L253.50 448.48 L254.16 446.72 L254.82 444.92 L255.48 443.07 L256.14 441.18 L256.80 439.24 L257.46 437.26 L258.12 435.23 L258.78 433.16 L259.45 431.05 L260.11 428.89 L260.77 426.69 L261.43 424.45 L262.09 422.16 L262.75 419.83 L263.41 417.47 L264.07 415.06 L264.73 412.61 L265.40 410.12 L266.06 407.60 L266.72 405.03 L267.38 402.43 L268.04 399.80 L268.70 397.13 L269.36 394.43 L270.02 391.70 L270.68 388.94 L271.35 386.16 L272.01 383.34 L272.67 380.51 L273.33 377.65 L273.99 374.77 L274.65 371.87 L275.31 368.96 L275.97 366.03 L276.63 363.09 L277.29 360.14 L277.96 357.19 L278.62 354.23 L279.28 351.27 L279.94 348.31 L280.60 345.35 L281.26 342.40 L281.92 339.46 L282.58 336.53 L283.24 333.61 L283.91 330.71 L284.57 327.83 L285.23 324.97 L285.89 322.13 L286.55 319.32 L287.21 316.54 L287.87 313.79 L288.53 311.07 L289.19 308.38 L289.86 305.73 L290.52 303.12 L291.18 300.55 L291.84 298.03 L292.50 295.55 L293.16 293.11 L293.82 290.73 L294.48 288.39 L295.14 286.11 L295.81 283.89 L296.47 281.74 L297.13 279.64 L297.79 277.62 L298.45 275.67 L299.11 273.79 L299.77 272.00 L300.43 270.30 L301.09 268.69 L301.75 267.18 L302.42 265.77 L303.08 264.47 L303.74 263.28 L304.40 262.21 L305.06 261.27 L305.72 260.45 L306.38 259.75 L307.04 259.19 L307.70 258.76 L308.37 258.54 L309.03 258.60 L309.69 258.93 L310.35 259.51 L311.01 260.33 L311.67 261.34 L312.33 262.53 L312.99 263.87 L313.65 265.33 L314.32 266.89 L314.98 268.52 L315.64 270.21 L316.30 271.95 L316.96 273.72 L317.62 275.51 L318.28 277.32 L318.94 279.14 L319.60 280.97 L320.27 282.81 L320.93 284.66 L321.59 286.51 L322.25 288.36 L322.91 290.22 L323.57 292.09 L324.23 293.96 L324.89 295.85 L325.55 297.75 L326.22 299.65 L326.88 301.57 L327.54 303.50 L328.20 305.45 L328.86 307.41 L329.52 309.39 L330.18 311.38 L330.84 313.39 L331.50 315.41 L332.17 317.45 L332.83 319.50 L333.49 321.56 L334.15 323.64 L334.81 325.73 L335.47 327.83 L336.13 329.94 L336.79 332.05 L337.45 334.18 L338.11 336.31 L338.78 338.44 L339.44 340.58 L340.10 342.72 L340.76 344.86 L341.42 347.00 L342.08 349.13 L342.74 351.27 L343.40 353.39 L344.06 355.51 L344.73 357.63 L345.39 359.73 L346.05 361.82 L346.71 363.90 L347.37 365.97 L348.03 368.03 L348.69 370.07 L349.35 372.10 L350.01 374.10 L350.68 376.09 L351.34 378.07 L352.00 380.02 L352.66 381.95 L353.32 383.86 L353.98 385.75 L354.64 387.62 L355.30 389.46 L355.96 391.28 L356.63 393.08 L357.29 394.85 L357.95 396.60 L358.61 398.32 L359.27 400.02 L359.93 401.69 L360.59 403.33 L361.25 404.95 L361.91 406.54 L362.58 408.11 L363.24 409.65 L363.90 411.17 L364.56 412.65 L365.22 414.11 L365.88 415.55 L366.54 416.96 L367.20 418.34 L367.86 419.70 L368.52 421.03 L369.19 422.34 L369.85 423.62 L370.51 424.88 L371.17 426.11 L371.83 427.32 L372.49 428.51 L373.15 429.67 L373.81 430.81 L374.47 431.93 L375.14 433.02 L375.80 434.09 L376.46 435.15 L377.12 436.18 L377.78 437.19 L378.44 438.18 L379.10 439.15 L379.76 440.11 L380.42 441.04 L381.09 441.96 L381.75 442.85 L382.41 443.72 L383.07 444.57 L383.73 445.40 L384.39 446.21 L385.05 446.99 L385.71 447.77 L386.37 448.52 L387.04 449.26 L387.70 449.98 L388.36 450.69 L389.02 451.39 L389.68 452.07 L390.34 452.74 L391.00 453.40 L391.66 454.05 L392.32 454.68 L392.99 455.31 L393.65 455.93 L394.31 456.54 L394.97 457.14 L395.63 457.74 L396.29 458.32 L396.95 458.91 L397.61 459.48 L398.27 460.05 L398.93 460.61 L399.60 461.16 L400.26 461.71 L400.92 462.26 L401.58 462.80 L402.24 463.34 L402.90 463.87 L403.56 464.39 L404.22 464.92 L404.88 465.44 L405.55 465.95 L406.21 466.47 L406.87 466.98 L407.53 467.49 L408.19 467.99 L408.85 468.48 L409.51 468.97 L410.17 469.45 L410.83 469.93 L411.50 470.40 L412.16 470.87 L412.82 471.33 L413.48 471.78 L414.14 472.23 L414.80 472.67 L415.46 473.11 L416.12 473.54 L416.78 473.97 L417.45 474.39 L418.11 474.81 L418.77 475.22 L419.43 475.63 L420.09 476.03 L420.75 476.43 L421.41 476.82 L422.07 477.21 L422.73 477.59 L423.40 477.97 L424.06 478.35 L424.72 478.72 L425.38 479.09 L426.04 479.45 L426.70 479.81 L427.36 480.17 L428.02 480.52 L428.68 480.87 L429.34 481.21 L430.01 481.56 L430.67 481.89 L431.33 482.23 L431.99 482.56 L432.65 482.88 L433.31 483.21 L433.97 483.53 L434.63 483.84 L435.29 484.16 L435.96 484.47 L436.62 484.78 L437.28 485.08 L437.94 485.38 L438.60 485.68 L439.26 485.98 L439.92 486.27 L440.58 486.56 L441.24 486.85 L441.91 487.13 L442.57 487.41 L443.23 487.69 L443.89 487.97 L444.55 488.24 L445.21 488.51 L445.87 488.78 L446.53 489.05 L447.19 489.31 L447.86 489.58 L448.52 489.83 L449.18 490.09 L449.84 490.35 L450.50 490.60 L451.16 490.85 L451.82 491.10 L452.48 491.34 L453.14 491.59 L453.81 491.83 L454.47 492.07 L455.13 492.30 L455.79 492.54 L456.45 492.77 L457.11 493.00 L457.77 493.23 L458.43 493.46 L459.09 493.69 L459.75 493.91 L460.42 494.13 L461.08 494.35 L461.74 494.57 L462.40 494.79 L463.06 495.00 L463.72 495.21 L464.38 495.42 L465.04 495.63 L465.70 495.84 L466.37 496.05 L467.03 496.25 L467.69 496.45 L468.35 496.65 L469.01 496.85 L469.67 497.05 L470.33 497.25 L470.99 497.44 L471.65 497.63 L472.32 497.82 L472.98 498.01 L473.64 498.20 L474.30 498.38 L474.96 498.57 L475.62 498.75 L476.28 498.93 L476.94 499.11 L477.60 499.29 L478.27 499.47 L478.93 499.64 L479.59 499.81 L480.25 499.99 L480.91 500.16 L481.57 500.33 L482.23 500.49 L482.89 500.66 L483.55 500.82 L484.22 500.99 L484.88 501.15 L485.54 501.31 L486.20 501.47 L486.86 501.63 L487.52 501.78 L488.18 501.94 L488.84 502.09 L489.50 502.24 L490.16 502.39 L490.83 502.54 L491.49 502.69 L492.15 502.84 L492.81 502.98 L493.47 503.12 L494.13 503.27 L494.79 503.41 L495.45 503.55 L496.11 503.69 L496.78 503.82 L497.44 503.96 L498.10 504.10 L498.76 504.23 L499.42 504.36 L500.08 504.49 L500.74 504.62 L501.40 504.75 L502.06 504.88 L502.73 505.01 L503.39 505.13 L504.05 505.26 L504.71 505.38 L505.37 505.50 L506.03 505.62 L506.69 505.74 L507.35 505.86 L508.01 505.98 L508.68 506.10 L509.34 506.21 L510.00 506.33 L510.66 506.44 L511.32 506.55 L511.98 506.66 L512.64 506.77 L513.30 506.88 L513.96 506.99 L514.62 507.10 L515.29 507.20 L515.95 507.31 L516.61 507.41 L517.27 507.51 L517.93 507.62 L518.59 507.72 L519.25 507.82 L519.91 507.91 L520.57 508.01 L521.24 508.11 L521.90 508.21 L522.56 508.30 L523.22 508.40 L523.88 508.49 L524.54 508.58 L525.20 508.67 L525.86 508.76 L526.52 508.85 L527.19 508.94 L527.85 509.03 L528.51 509.12 L529.17 509.20 L529.83 509.29 L530.49 509.37 L531.15 509.46 L531.81 509.54 L532.47 509.62 L533.14 509.70 L533.80 509.78 L534.46 509.86 L535.12 509.94 L535.78 510.02 L536.44 510.09 L537.10 510.17 L537.76 510.25 L538.42 510.32 L539.09 510.39 L539.75 510.47 L540.41 510.54 L541.07 510.61 L541.73 510.68 L542.39 510.75 L543.05 510.82 L543.71 510.89 L544.37 510.96 L545.04 511.03 L545.70 511.09 L546.36 511.16 L547.02 511.22 L547.68 511.29 L548.34 511.35 L549.00 511.42 L549.66 511.48 L550.32 511.54 L550.98 511.60 L551.65 511.66 L552.31 511.72 L552.97 511.78 L553.63 511.84 L554.29 511.90 L554.95 511.95 L555.61 512.01 L556.27 512.07 L556.93 512.12 L557.60 512.18 L558.26 512.23 L558.92 512.29 L559.58 512.34 L560.24 512.39 L560.90 512.44 L561.56 512.49 L562.22 512.55 L562.88 512.60 L563.55 512.64 L564.21 512.69 L564.87 512.74 L565.53 512.79 L566.19 512.84 L566.85 512.88 L567.51 512.93 L568.17 512.98 L568.83 513.02 L569.50 513.07 L570.16 513.11 L570.82 513.16 L571.48 513.20 L572.14 513.24 L572.80 513.28 L573.46 513.33 L574.12 513.37 L574.78 513.41 L575.45 513.45 L576.11 513.49 L576.77 513.53 L577.43 513.57 L578.09 513.61 L578.75 513.64 L579.41 513.68 L580.07 513.72 L580.73 513.76 L581.39 513.79 L582.06 513.83 L582.72 513.86 L583.38 513.90 L584.04 513.93 L584.70 513.97 L585.36 514.00 L586.02 514.03 L586.68 514.07 L587.34 514.10 L588.01 514.13 L588.67 514.16 L589.33 514.20 L589.99 514.23 L590.65 514.26 L591.31 514.29 L591.97 514.32 L592.63 514.35 L593.29 514.38 L593.96 514.40 L594.62 514.43 L595.28 514.46 L595.94 514.49 L596.60 514.52 L597.26 514.54 L597.92 514.57 L598.58 514.60 L599.24 514.62 L599.91 514.65 L600.57 514.67 L601.23 514.70 L601.89 514.72 L602.55 514.75 L603.21 514.77 L603.87 514.80 L604.53 514.82 L605.19 514.84 L605.86 514.87 L606.52 514.89 L607.18 514.91 L607.84 514.93 L608.50 514.96 L609.16 514.98 L609.82 515.00 L610.48 515.02 L611.14 515.04 L611.80 515.06 L612.47 515.08 L613.13 515.10 L613.79 515.12 L614.45 515.14 L615.11 515.16 L615.77 515.18 L616.43 515.20 L617.09 515.21 L617.75 515.23 L618.42 515.25 L619.08 515.27 L619.74 515.29 L620.40 515.30 L621.06 515.32 L621.72 515.34 L622.38 515.35 L623.04 515.37 L623.70 515.39 L624.37 515.40 L625.03 515.42 L625.69 515.43 L626.35 515.45 L627.01 515.46 L627.67 515.48 L628.33 515.49 L628.99 515.51 L629.65 515.52 L630.32 515.53 L630.98 515.55 L631.64 515.56 L632.30 515.57 L632.96 515.59 L633.62 515.60 L634.28 515.61 L634.94 515.63 L635.60 515.64 L636.27 515.65 L636.93 515.66 L637.59 515.68 L638.25 515.69 L638.91 515.70 L639.57 515.71 L640.23 515.72 L640.89 515.73 L641.55 515.74 L642.21 515.75 L642.88 515.77 L643.54 515.78 L644.20 515.79 L644.86 515.80 L645.52 515.81 L646.18 515.82 L646.84 515.83 L647.50 515.84 L648.16 515.84 L648.83 515.85 L649.49 515.86 L650.15 515.87 L650.81 515.88 L651.47 515.89 L652.13 515.90 L652.79 515.91 L653.45 515.92 L654.11 515.92 L654.78 515.93 L655.44 515.94 L656.10 515.95 L656.76 515.96 L657.42 515.96 L658.08 515.97 L658.74 515.98 L659.40 515.99 L660.06 515.99 L660.73 516.00 L661.39 516.01 L662.05 516.01 L662.71 516.02 L663.37 516.03 L664.03 516.03 L664.69 516.04 L665.35 516.05 L666.01 516.05 L666.68 516.06 L667.34 516.06 L668.00 516.07 L668.66 516.08 L669.32 516.08 L669.98 516.09 L670.64 516.09 L671.30 516.10 L671.96 516.10 L672.62 516.11 L673.29 516.11 L673.95 516.12 L674.61 516.12 L675.27 516.13 L675.93 516.13 L676.59 516.14 L677.25 516.14 L677.91 516.15 L678.57 516.15 L679.24 516.16 L679.90 516.16 L680.56 516.17 L681.22 516.17 L681.88 516.18 L682.54 516.18 L683.20 516.18 L683.86 516.19 L684.52 516.19 L685.19 516.20 L685.85 516.20 L686.51 516.20 L687.17 516.21 L687.83 516.21 L688.49 516.21 L689.15 516.22 L689.81 516.22 L690.47 516.22 L691.14 516.23 L691.80 516.23 L692.46 516.23 L693.12 516.24 L693.78 516.24 L694.44 516.24 L695.10 516.25 L695.76 516.25 L696.42 516.25 L697.09 516.26 L697.75 516.26 L698.41 516.26 L699.07 516.26 L699.73 516.27 L700.39 516.27 L701.05 516.27 L701.71 516.27 L702.37 516.28 L703.03 516.28 L703.70 516.28 L704.36 516.28 L705.02 516.29 L705.68 516.29 L706.34 516.29 L707.00 516.29 L707.66 516.29 L708.32 516.30 L708.98 516.30 L709.65 516.30 L710.31 516.30 L710.97 516.30 L711.63 516.31 L712.29 516.31 L712.95 516.31 L713.61 516.31 L714.27 516.31 L714.93 516.32 L715.60 516.32 L716.26 516.32 L716.92 516.32 L717.58 516.32 L718.24 516.32 L718.90 516.33 L719.56 516.33 L720.22 516.33 L720.88 516.33 L721.55 516.33 L722.21 516.33 L722.87 516.33 L723.53 516.34 L724.19 516.34 L724.85 516.34 L725.51 516.34 L726.17 516.34 L726.83 516.34 L727.50 516.34 L728.16 516.34 L728.82 516.35 L729.48 516.35 L730.14 516.35 L730.80 516.35 L731.46 516.35 L732.12 516.35 L732.78 516.35 L733.44 516.35 L734.11 516.35 L734.77 516.36 L735.43 516.36 L736.09 516.36 L736.75 516.36 L737.41 516.36 L738.07 516.36 L738.73 516.36 L739.39 516.36 L740.06 516.36 L740.72 516.36 L741.38 516.36 L742.04 516.36 L742.70 516.37" stroke="#7B3A91"/>
</g>
<path d="M585.8 47.35 H642.4" stroke="#000000" stroke-width="4.8" stroke-linecap="round"/>
<text transform="translate(656.0 55.80) scale(1 1.04)" font-size="25">RT</text>
<path d="M585.8 86.45 H642.4" stroke="#E5197A" stroke-width="4.8" stroke-linecap="round"/>
<text transform="translate(656.0 94.75) scale(1 1.04)" font-size="25">50 °C</text>
<path d="M585.8 125.55 H642.4" stroke="#64B62E" stroke-width="4.8" stroke-linecap="round"/>
<text transform="translate(656.0 133.70) scale(1 1.04)" font-size="25">75 °C</text>
<path d="M585.8 164.65 H642.4" stroke="#244FA3" stroke-width="4.8" stroke-linecap="round"/>
<text transform="translate(656.0 172.65) scale(1 1.04)" font-size="25">100 °C</text>
<path d="M585.8 203.75 H642.4" stroke="#E8E045" stroke-width="4.8" stroke-linecap="round"/>
<text transform="translate(656.0 211.60) scale(1 1.04)" font-size="25">125 °C</text>
<path d="M585.8 242.85 H642.4" stroke="#EC7F1C" stroke-width="4.8" stroke-linecap="round"/>
<text transform="translate(656.0 250.55) scale(1 1.04)" font-size="25">150 °C</text>
<path d="M585.8 281.95 H642.4" stroke="#6DC5D2" stroke-width="4.8" stroke-linecap="round"/>
<text transform="translate(656.0 289.50) scale(1 1.04)" font-size="25">175 °C</text>
<path d="M585.8 321.05 H642.4" stroke="#A8519D" stroke-width="4.8" stroke-linecap="round"/>
<text transform="translate(656.0 328.45) scale(1 1.04)" font-size="25">200 °C</text>
<path d="M585.8 360.15 H642.4" stroke="#7F171C" stroke-width="4.8" stroke-linecap="round"/>
<text transform="translate(656.0 367.40) scale(1 1.04)" font-size="25">225 °C</text>
<path d="M585.8 399.25 H642.4" stroke="#7B3A91" stroke-width="4.8" stroke-linecap="round"/>
<text transform="translate(656.0 406.35) scale(1 1.04)" font-size="25">250 °C</text>
<text x="365.25" y="141.1" font-size="23.5" stroke="#000" stroke-width="0.35" style="font-family:'Noto Serif CJK SC', serif">λ</text>
<text x="378.8" y="148.6" font-size="16.7">ex</text>
<text x="402.7" y="140.5" font-size="25">= 400 nm</text>
<path d="M913.70 515.70 H923.20 M913.70 421.54 H923.20 M913.70 327.38 H923.20 M913.70 233.22 H923.20 M913.70 139.06 H923.20 M913.70 44.90 H923.20 M917.90 468.62 H923.20 M917.90 374.46 H923.20 M917.90 280.30 H923.20 M917.90 186.14 H923.20 M917.90 91.98 H923.20 M999.85 515.70 V525.50 M1127.60 515.70 V525.50 M1255.35 515.70 V525.50 M1383.10 515.70 V525.50 M1510.85 515.70 V525.50 M935.98 515.70 V520.40 M1063.73 515.70 V520.40 M1191.48 515.70 V520.40 M1319.23 515.70 V520.40 M1446.97 515.70 V520.40" stroke="#000" stroke-width="5.8" stroke-linecap="round" fill="none"/>
<rect x="923.20" y="22.00" width="612.50" height="493.70" fill="none" stroke="#000" stroke-width="5.8"/>
<text transform="translate(900.4 524.70) scale(1 1.025)" font-size="29.3" text-anchor="end">0.0</text>
<text transform="translate(900.4 430.54) scale(1 1.025)" font-size="29.3" text-anchor="end">0.2</text>
<text transform="translate(900.4 336.38) scale(1 1.025)" font-size="29.3" text-anchor="end">0.4</text>
<text transform="translate(900.4 242.22) scale(1 1.025)" font-size="29.3" text-anchor="end">0.6</text>
<text transform="translate(900.4 148.06) scale(1 1.025)" font-size="29.3" text-anchor="end">0.8</text>
<text transform="translate(900.4 53.90) scale(1 1.025)" font-size="29.3" text-anchor="end">1.0</text>
<text transform="translate(999.85 561.0) scale(1 1.025)" font-size="29.3" text-anchor="middle">50</text>
<text transform="translate(1127.60 561.0) scale(1 1.025)" font-size="29.3" text-anchor="middle">100</text>
<text transform="translate(1255.35 561.0) scale(1 1.025)" font-size="29.3" text-anchor="middle">150</text>
<text transform="translate(1383.10 561.0) scale(1 1.025)" font-size="29.3" text-anchor="middle">200</text>
<text transform="translate(1510.85 561.0) scale(1 1.025)" font-size="29.3" text-anchor="middle">250</text>
<text x="1113.5" y="601.3" font-size="29.1">Temperature (°C)</text>
<text transform="translate(834.9 443.1) rotate(-90)" font-size="29.15">Normalized intensity (a.u.)</text>
<polyline points="935.98,44.90 999.85,50.08 1063.73,55.02 1127.60,61.99 1191.48,67.97 1255.35,76.44 1319.23,93.86 1383.10,101.63 1446.97,113.83 1510.85,126.82" fill="none" stroke="#EE8019" stroke-width="6.3" stroke-linejoin="round"/>
<rect x="922.98" y="31.90" width="26" height="26" fill="#EE8019"/>
<rect x="986.85" y="37.08" width="26" height="26" fill="#EE8019"/>
<rect x="1050.73" y="42.02" width="26" height="26" fill="#EE8019"/>
<rect x="1114.60" y="48.99" width="26" height="26" fill="#EE8019"/>
<rect x="1178.48" y="54.97" width="26" height="26" fill="#EE8019"/>
<rect x="1242.35" y="63.44" width="26" height="26" fill="#EE8019"/>
<rect x="1306.23" y="80.86" width="26" height="26" fill="#EE8019"/>
<rect x="1370.10" y="88.63" width="26" height="26" fill="#EE8019"/>
<rect x="1433.97" y="100.83" width="26" height="26" fill="#EE8019"/>
<rect x="1497.85" y="113.82" width="26" height="26" fill="#EE8019"/>
<polyline points="935.98,44.90 999.85,71.74 1063.73,94.33 1127.60,118.82 1191.48,138.73 1255.35,160.43 1319.23,186.85 1383.10,203.84 1446.97,223.52 1510.85,241.36" fill="none" stroke="#127D3B" stroke-width="6.1" stroke-linejoin="round"/>
<circle cx="935.98" cy="44.90" r="14.7" fill="#127D3B"/>
<circle cx="999.85" cy="71.74" r="14.7" fill="#127D3B"/>
<circle cx="1063.73" cy="94.33" r="14.7" fill="#127D3B"/>
<circle cx="1127.60" cy="118.82" r="14.7" fill="#127D3B"/>
<circle cx="1191.48" cy="138.73" r="14.7" fill="#127D3B"/>
<circle cx="1255.35" cy="160.43" r="14.7" fill="#127D3B"/>
<circle cx="1319.23" cy="186.85" r="14.7" fill="#127D3B"/>
<circle cx="1383.10" cy="203.84" r="14.7" fill="#127D3B"/>
<circle cx="1446.97" cy="223.52" r="14.7" fill="#127D3B"/>
<circle cx="1510.85" cy="241.36" r="14.7" fill="#127D3B"/>
<path d="M933 443.1 H989.5" stroke="#EE8019" stroke-width="6.3" stroke-linecap="round"/>
<rect x="948.2" y="430.1" width="26" height="26" fill="#EE8019"/>
<path d="M933 483.8 H989.5" stroke="#127D3B" stroke-width="6.1" stroke-linecap="round"/>
<circle cx="961.3" cy="484" r="14.8" fill="#127D3B"/>
<text transform="translate(1003.7 450.1) scale(1 1.04)" font-size="25">Integrated intensity</text>
<text transform="translate(1003.9 491.2) scale(1 1.04)" font-size="25">Peak (486 nm) intensity</text>
<text transform="translate(1238.8 56.9) scale(1 1.025)" font-size="29.9" fill="#EE8019">93%</text>
<text transform="translate(1225.9 211.8) scale(1 1.025)" font-size="29.9" fill="#127D3B">75%</text>
</svg></body></html>
